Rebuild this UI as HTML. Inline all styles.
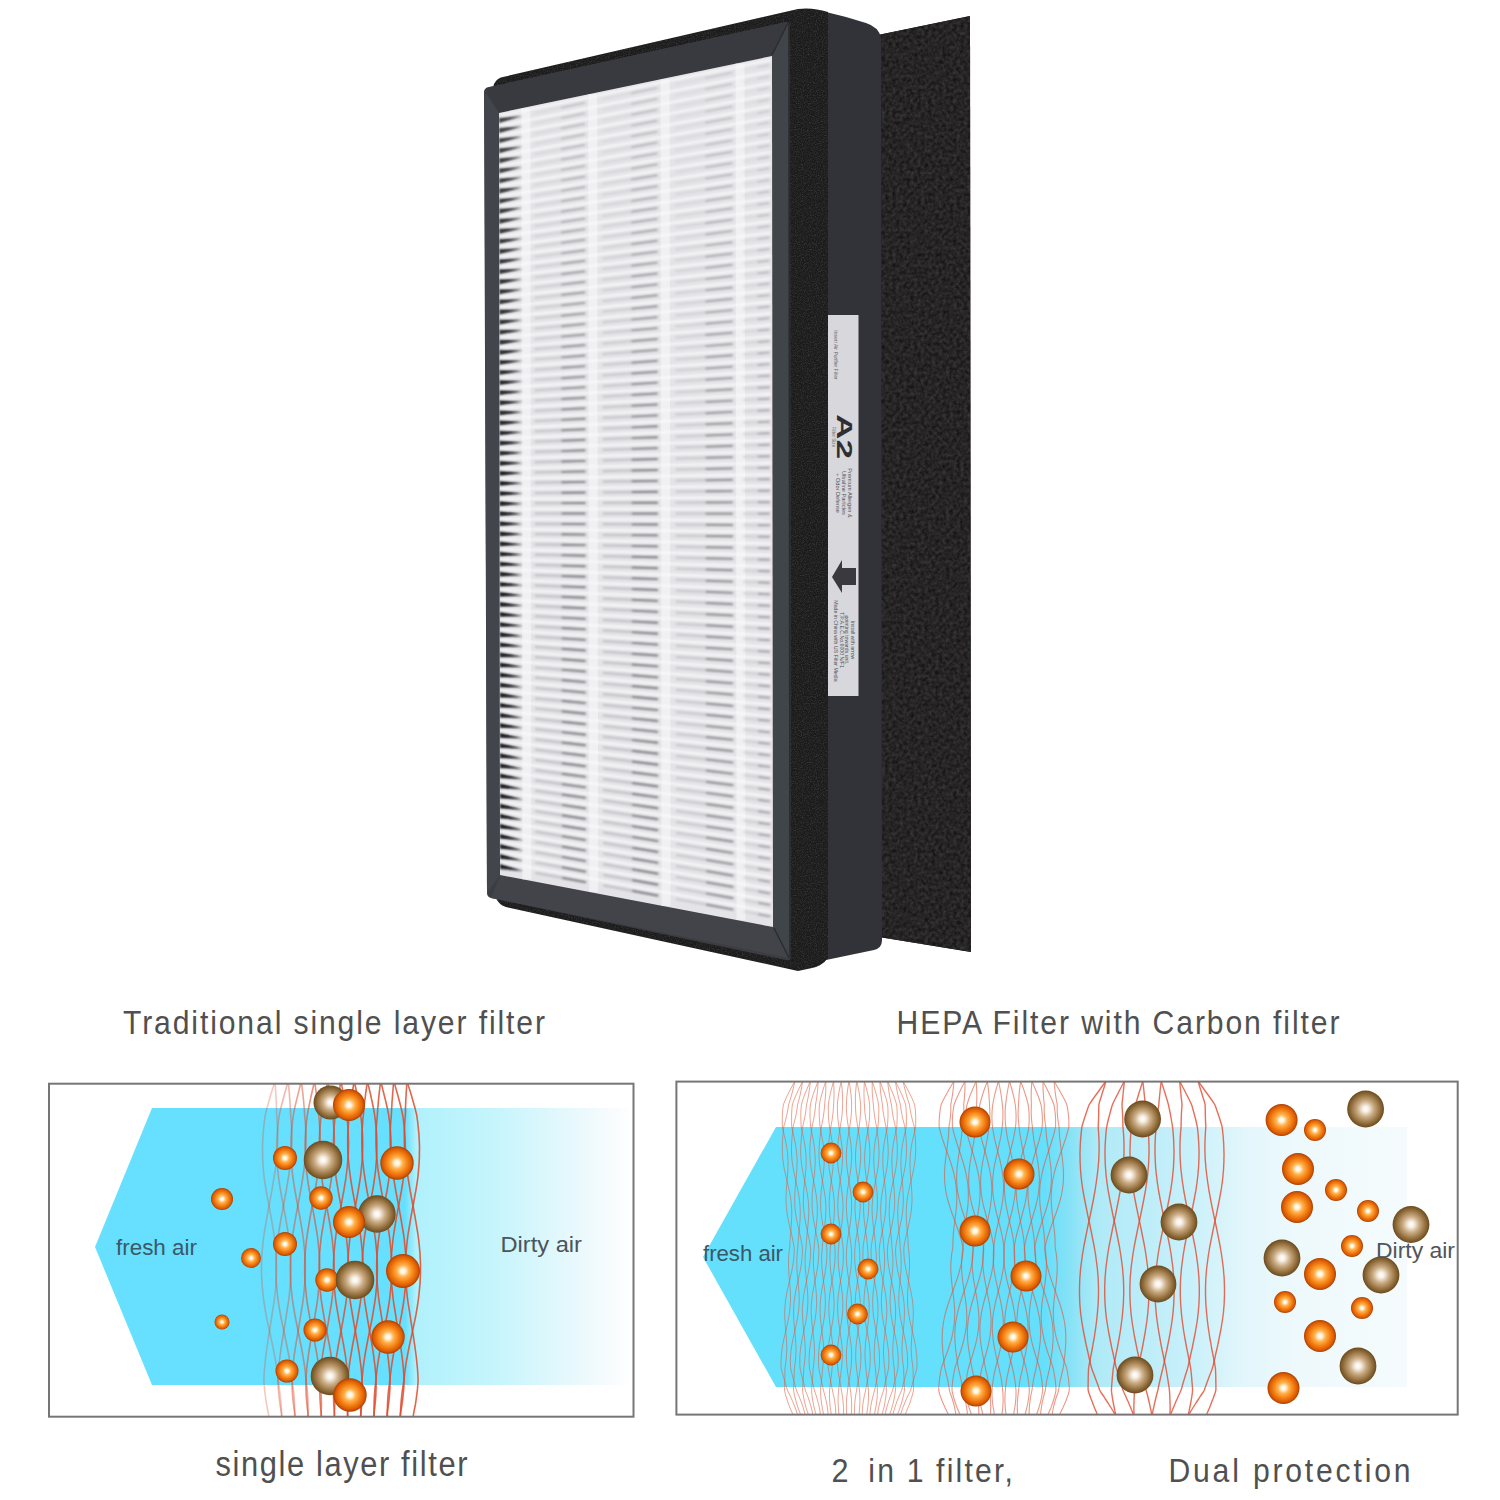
<!DOCTYPE html>
<html><head><meta charset="utf-8"><title>HEPA filter</title>
<style>html,body{margin:0;padding:0;background:#fff;width:1500px;height:1500px;overflow:hidden;font-family:"Liberation Sans",sans-serif}svg{display:block}</style>
</head><body>
<svg width="1500" height="1500" viewBox="0 0 1500 1500">
<defs>
 <radialGradient id="go" cx="0.5" cy="0.5" r="0.5" fx="0.5" fy="0.5">
  <stop offset="0" stop-color="#ffffff"/>
  <stop offset="0.14" stop-color="#fff4dc"/>
  <stop offset="0.35" stop-color="#ffb24e"/>
  <stop offset="0.62" stop-color="#f58214"/>
  <stop offset="0.86" stop-color="#dc5c04"/>
  <stop offset="1" stop-color="#a84000"/>
 </radialGradient>
 <radialGradient id="gb" cx="0.5" cy="0.5" r="0.5" fx="0.5" fy="0.5">
  <stop offset="0" stop-color="#ffffff"/>
  <stop offset="0.16" stop-color="#f7f0e6"/>
  <stop offset="0.45" stop-color="#c9aa82"/>
  <stop offset="0.78" stop-color="#94703e"/>
  <stop offset="1" stop-color="#6a4a1e"/>
 </radialGradient>
 <linearGradient id="fadeL" x1="0" x2="1" y1="0" y2="0">
  <stop offset="0" stop-color="#b0f1fc"/>
  <stop offset="0.4" stop-color="#c8f5fc"/>
  <stop offset="0.7" stop-color="#e4f8fc"/>
  <stop offset="0.9" stop-color="#f6fbfd"/>
  <stop offset="1" stop-color="#fdfeff"/>
 </linearGradient>
 <linearGradient id="edgeL" x1="0" x2="1" y1="0" y2="0">
  <stop offset="0" stop-color="#66e0fe"/>
  <stop offset="1" stop-color="#b0f1fc"/>
 </linearGradient>
 <linearGradient id="fadeR" x1="0" x2="1" y1="0" y2="0">
  <stop offset="0" stop-color="#64dffc"/>
  <stop offset="0.07" stop-color="#86e2f6"/>
  <stop offset="0.15" stop-color="#b0eaf7"/>
  <stop offset="0.4" stop-color="#c8f0fa"/>
  <stop offset="0.55" stop-color="#e2f6fb"/>
  <stop offset="0.7" stop-color="#eef9fc"/>
  <stop offset="1" stop-color="#f5fbfd"/>
 </linearGradient>
 <filter id="noise" x="0" y="0" width="100%" height="100%">
  <feTurbulence type="fractalNoise" baseFrequency="0.45" numOctaves="2" seed="3" result="t"/>
  <feColorMatrix type="matrix" values="0 0 0 0 0.2  0 0 0 0 0.19  0 0 0 0 0.19  0 0 0 -1.2 0.9" result="n"/>
  <feComposite in="n" in2="SourceGraphic" operator="in"/>
 </filter>
 <filter id="soft" x="-5%" y="-5%" width="110%" height="110%"><feGaussianBlur stdDeviation="0.85"/></filter>
 <filter id="speck" x="0" y="0" width="100%" height="100%">
  <feTurbulence type="fractalNoise" baseFrequency="0.85" numOctaves="2" seed="5" result="t"/>
  <feColorMatrix type="matrix" values="0 0 0 0 0.32  0 0 0 0 0.30  0 0 0 0 0.30  1.8 0 0 0 -0.75" result="n"/>
  <feComposite in="n" in2="SourceGraphic" operator="in"/>
 </filter>
 <filter id="carb" x="0" y="0" width="100%" height="100%" color-interpolation-filters="sRGB">
  <feTurbulence type="fractalNoise" baseFrequency="0.28" numOctaves="3" seed="9" result="t"/>
  <feColorMatrix type="matrix" values="0.2 0 0 0 0.05  0.2 0 0 0 0.043  0.2 0 0 0 0.043  0 0 0 0 1" result="n"/>
  <feComposite in="n" in2="SourceGraphic" operator="in"/>
 </filter>
 <clipPath id="clipL"><rect x="49" y="1084" width="584" height="332"/></clipPath>
 <clipPath id="clipR"><rect x="677" y="1082" width="780" height="332"/></clipPath>
</defs>

<polygon points="878,35 970,16 971,952 879,937" fill="#221f1f"/>
<polygon points="878,35 970,16 971,952 879,937" fill="#000" filter="url(#carb)"/>
<path d="M826,12 L846,17 L866,23 Q879,27 881,38 L882,940 Q882,948 874,950 L826,960 Z" fill="#323338"/>
<path d="M492,92 L494,84 Q497,78 503,77 L798,9 Q812,7 828,12 L828,958 Q822,966 812,968 L798,971 L506,907 Q499,905 496,898 L492,892 Z" fill="#1b1b1c"/>
<path d="M492,92 L494,84 Q497,78 503,77 L798,9 Q812,7 828,12 L828,958 Q822,966 812,968 L798,971 L506,907 Q499,905 496,898 L492,892 Z" fill="#000" filter="url(#speck)" opacity="0.3"/>
<path d="M484,92 Q484,88 489,87 L786,22 Q790,22 790,26 L791,956 Q791,961 786,960 L491,898 Q487,897 487,893 Z" fill="#3c3d42"/>
<polygon points="486,88 787,22 772,56 499,113" fill="#393a40"/>
<polygon points="484.5,92 499,113 500,875 487,893" fill="#43454c"/>
<polygon points="500,875 773,927 790,958 491,898" fill="#43444a"/>
<polygon points="772,56 788,24 790,957 773,927" fill="#3f4549"/>
<line x1="772" y1="55" x2="788" y2="23" stroke="#2a2b2f" stroke-width="1.2"/>
<line x1="774" y1="928" x2="789" y2="958" stroke="#2a2b2f" stroke-width="1.2"/>
<line x1="789" y1="24" x2="790" y2="957" stroke="#2a2a2d" stroke-width="1.5"/>
<polygon points="499,113 772,56 773,927 500,875" fill="#e4e4e8"/>
<line x1="525.8" y1="108.4" x2="526.8" y2="879.2" stroke="#f0f0f3" stroke-width="9"/>
<line x1="592.7" y1="94.5" x2="593.7" y2="891.9" stroke="#f0f0f3" stroke-width="9"/>
<line x1="665.1" y1="79.4" x2="666.1" y2="905.7" stroke="#f0f0f3" stroke-width="9"/>
<line x1="740.1" y1="63.7" x2="741.1" y2="920.0" stroke="#f0f0f3" stroke-width="9"/>
<clipPath id="clipW"><polygon points="499,113 772,56 773,927 500,875"/></clipPath>
<g clip-path="url(#clipW)"><g filter="url(#soft)">
<path d="M499.0,117.8 L522.2,116.0 L499.0,123.2 Z" fill="rgb(65,65,69)"/>
<line x1="500.4" y1="115.6" x2="770.6" y2="59.9" stroke="#fafafc" stroke-width="2.2" opacity="0.9"/>
<line x1="534.2" y1="113.1" x2="585.0" y2="102.7" stroke="#c2c2c6" stroke-width="2.2" opacity="0.26"/>
<line x1="561.0" y1="107.7" x2="585.0" y2="102.7" stroke="#7c7c80" stroke-width="1.9" opacity="0.26"/>
<line x1="602.2" y1="99.2" x2="657.3" y2="87.9" stroke="#c2c2c6" stroke-width="2.2" opacity="0.26"/>
<line x1="631.1" y1="93.3" x2="657.3" y2="87.9" stroke="#7c7c80" stroke-width="1.9" opacity="0.26"/>
<line x1="675.1" y1="84.3" x2="732.4" y2="72.5" stroke="#c2c2c6" stroke-width="2.2" opacity="0.21"/>
<line x1="705.1" y1="78.1" x2="732.4" y2="72.5" stroke="#7c7c80" stroke-width="1.9" opacity="0.21"/>
<line x1="742.5" y1="70.5" x2="769.3" y2="65.0" stroke="#c2c2c6" stroke-width="2.2" opacity="0.15"/>
<line x1="757.3" y1="67.4" x2="769.3" y2="65.0" stroke="#7c7c80" stroke-width="1.9" opacity="0.15"/>
<path d="M499.0,127.8 L522.2,126.2 L499.0,133.2 Z" fill="rgb(64,64,68)"/>
<line x1="500.4" y1="125.7" x2="770.7" y2="71.4" stroke="#fafafc" stroke-width="2.2" opacity="0.9"/>
<line x1="534.2" y1="123.4" x2="585.0" y2="113.3" stroke="#c2c2c6" stroke-width="2.2" opacity="0.28"/>
<line x1="561.0" y1="118.1" x2="585.0" y2="113.3" stroke="#7c7c80" stroke-width="1.9" opacity="0.28"/>
<line x1="602.2" y1="109.8" x2="657.4" y2="98.8" stroke="#c2c2c6" stroke-width="2.2" opacity="0.28"/>
<line x1="631.2" y1="104.1" x2="657.4" y2="98.8" stroke="#7c7c80" stroke-width="1.9" opacity="0.28"/>
<line x1="675.1" y1="95.3" x2="732.4" y2="83.8" stroke="#c2c2c6" stroke-width="2.2" opacity="0.23"/>
<line x1="705.1" y1="89.3" x2="732.4" y2="83.8" stroke="#7c7c80" stroke-width="1.9" opacity="0.23"/>
<line x1="742.5" y1="81.8" x2="769.3" y2="76.5" stroke="#c2c2c6" stroke-width="2.2" opacity="0.16"/>
<line x1="757.3" y1="78.9" x2="769.3" y2="76.5" stroke="#7c7c80" stroke-width="1.9" opacity="0.16"/>
<path d="M499.0,137.9 L522.2,136.4 L499.0,143.3 Z" fill="rgb(63,63,67)"/>
<line x1="500.4" y1="135.8" x2="770.7" y2="82.9" stroke="#fafafc" stroke-width="2.2" opacity="0.9"/>
<line x1="534.3" y1="133.7" x2="585.0" y2="123.8" stroke="#c2c2c6" stroke-width="2.2" opacity="0.30"/>
<line x1="561.0" y1="128.5" x2="585.0" y2="123.8" stroke="#7c7c80" stroke-width="1.9" opacity="0.30"/>
<line x1="602.2" y1="120.5" x2="657.4" y2="109.7" stroke="#c2c2c6" stroke-width="2.2" opacity="0.30"/>
<line x1="631.2" y1="114.8" x2="657.4" y2="109.7" stroke="#7c7c80" stroke-width="1.9" opacity="0.30"/>
<line x1="675.1" y1="106.3" x2="732.5" y2="95.1" stroke="#c2c2c6" stroke-width="2.2" opacity="0.24"/>
<line x1="705.2" y1="100.5" x2="732.5" y2="95.1" stroke="#7c7c80" stroke-width="1.9" opacity="0.24"/>
<line x1="742.6" y1="93.2" x2="769.3" y2="88.0" stroke="#c2c2c6" stroke-width="2.2" opacity="0.17"/>
<line x1="757.3" y1="90.3" x2="769.3" y2="88.0" stroke="#7c7c80" stroke-width="1.9" opacity="0.17"/>
<path d="M499.0,148.0 L522.3,146.6 L499.0,153.4 Z" fill="rgb(62,62,66)"/>
<line x1="500.4" y1="145.8" x2="770.7" y2="94.4" stroke="#fafafc" stroke-width="2.2" opacity="0.9"/>
<line x1="534.3" y1="143.9" x2="585.0" y2="134.3" stroke="#c2c2c6" stroke-width="2.2" opacity="0.32"/>
<line x1="561.0" y1="138.9" x2="585.0" y2="134.3" stroke="#7c7c80" stroke-width="1.9" opacity="0.32"/>
<line x1="602.2" y1="131.1" x2="657.4" y2="120.7" stroke="#c2c2c6" stroke-width="2.2" opacity="0.32"/>
<line x1="631.2" y1="125.6" x2="657.4" y2="120.7" stroke="#7c7c80" stroke-width="1.9" opacity="0.32"/>
<line x1="675.1" y1="117.3" x2="732.5" y2="106.5" stroke="#c2c2c6" stroke-width="2.2" opacity="0.26"/>
<line x1="705.2" y1="111.6" x2="732.5" y2="106.5" stroke="#7c7c80" stroke-width="1.9" opacity="0.26"/>
<line x1="742.6" y1="104.5" x2="769.3" y2="99.5" stroke="#c2c2c6" stroke-width="2.2" opacity="0.18"/>
<line x1="757.3" y1="101.8" x2="769.3" y2="99.5" stroke="#7c7c80" stroke-width="1.9" opacity="0.18"/>
<path d="M499.1,158.1 L522.3,156.8 L499.1,163.5 Z" fill="rgb(61,61,65)"/>
<line x1="500.4" y1="155.9" x2="770.7" y2="105.9" stroke="#fafafc" stroke-width="2.2" opacity="0.9"/>
<line x1="534.3" y1="154.2" x2="585.1" y2="144.9" stroke="#c2c2c6" stroke-width="2.2" opacity="0.34"/>
<line x1="561.0" y1="149.3" x2="585.1" y2="144.9" stroke="#7c7c80" stroke-width="1.9" opacity="0.34"/>
<line x1="602.3" y1="141.7" x2="657.4" y2="131.6" stroke="#c2c2c6" stroke-width="2.2" opacity="0.34"/>
<line x1="631.2" y1="136.4" x2="657.4" y2="131.6" stroke="#7c7c80" stroke-width="1.9" opacity="0.34"/>
<line x1="675.1" y1="128.3" x2="732.5" y2="117.8" stroke="#c2c2c6" stroke-width="2.2" opacity="0.28"/>
<line x1="705.2" y1="122.8" x2="732.5" y2="117.8" stroke="#7c7c80" stroke-width="1.9" opacity="0.28"/>
<line x1="742.6" y1="115.9" x2="769.3" y2="111.0" stroke="#c2c2c6" stroke-width="2.2" opacity="0.19"/>
<line x1="757.3" y1="113.2" x2="769.3" y2="111.0" stroke="#7c7c80" stroke-width="1.9" opacity="0.19"/>
<path d="M499.1,168.2 L522.3,167.0 L499.1,173.6 Z" fill="rgb(60,60,64)"/>
<line x1="500.4" y1="166.0" x2="770.7" y2="117.5" stroke="#fafafc" stroke-width="2.2" opacity="0.9"/>
<line x1="534.3" y1="164.5" x2="585.1" y2="155.4" stroke="#c2c2c6" stroke-width="2.2" opacity="0.36"/>
<line x1="561.0" y1="159.7" x2="585.1" y2="155.4" stroke="#7c7c80" stroke-width="1.9" opacity="0.36"/>
<line x1="602.3" y1="152.3" x2="657.4" y2="142.5" stroke="#c2c2c6" stroke-width="2.2" opacity="0.36"/>
<line x1="631.2" y1="147.2" x2="657.4" y2="142.5" stroke="#7c7c80" stroke-width="1.9" opacity="0.36"/>
<line x1="675.2" y1="139.3" x2="732.5" y2="129.1" stroke="#c2c2c6" stroke-width="2.2" opacity="0.29"/>
<line x1="705.2" y1="134.0" x2="732.5" y2="129.1" stroke="#7c7c80" stroke-width="1.9" opacity="0.29"/>
<line x1="742.6" y1="127.3" x2="769.3" y2="122.5" stroke="#c2c2c6" stroke-width="2.2" opacity="0.20"/>
<line x1="757.3" y1="124.6" x2="769.3" y2="122.5" stroke="#7c7c80" stroke-width="1.9" opacity="0.20"/>
<path d="M499.1,178.2 L522.3,177.2 L499.1,183.6 Z" fill="rgb(59,59,63)"/>
<line x1="500.5" y1="176.1" x2="770.7" y2="129.0" stroke="#fafafc" stroke-width="2.2" opacity="0.9"/>
<line x1="534.3" y1="174.7" x2="585.1" y2="165.9" stroke="#c2c2c6" stroke-width="2.2" opacity="0.38"/>
<line x1="561.1" y1="170.1" x2="585.1" y2="165.9" stroke="#7c7c80" stroke-width="1.9" opacity="0.38"/>
<line x1="602.3" y1="163.0" x2="657.4" y2="153.4" stroke="#c2c2c6" stroke-width="2.2" opacity="0.38"/>
<line x1="631.2" y1="157.9" x2="657.4" y2="153.4" stroke="#7c7c80" stroke-width="1.9" opacity="0.38"/>
<line x1="675.2" y1="150.3" x2="732.5" y2="140.4" stroke="#c2c2c6" stroke-width="2.2" opacity="0.31"/>
<line x1="705.2" y1="145.1" x2="732.5" y2="140.4" stroke="#7c7c80" stroke-width="1.9" opacity="0.31"/>
<line x1="742.6" y1="138.6" x2="769.4" y2="134.0" stroke="#c2c2c6" stroke-width="2.2" opacity="0.21"/>
<line x1="757.3" y1="136.1" x2="769.4" y2="134.0" stroke="#7c7c80" stroke-width="1.9" opacity="0.21"/>
<path d="M499.1,188.3 L522.3,187.4 L499.1,193.7 Z" fill="rgb(58,58,62)"/>
<line x1="500.5" y1="186.2" x2="770.7" y2="140.5" stroke="#fafafc" stroke-width="2.2" opacity="0.9"/>
<line x1="534.3" y1="185.0" x2="585.1" y2="176.5" stroke="#c2c2c6" stroke-width="2.2" opacity="0.40"/>
<line x1="561.1" y1="180.5" x2="585.1" y2="176.5" stroke="#7c7c80" stroke-width="1.9" opacity="0.40"/>
<line x1="602.3" y1="173.6" x2="657.4" y2="164.3" stroke="#c2c2c6" stroke-width="2.2" opacity="0.40"/>
<line x1="631.2" y1="168.7" x2="657.4" y2="164.3" stroke="#7c7c80" stroke-width="1.9" opacity="0.40"/>
<line x1="675.2" y1="161.3" x2="732.5" y2="151.7" stroke="#c2c2c6" stroke-width="2.2" opacity="0.32"/>
<line x1="705.2" y1="156.3" x2="732.5" y2="151.7" stroke="#7c7c80" stroke-width="1.9" opacity="0.32"/>
<line x1="742.6" y1="150.0" x2="769.4" y2="145.5" stroke="#c2c2c6" stroke-width="2.2" opacity="0.22"/>
<line x1="757.4" y1="147.5" x2="769.4" y2="145.5" stroke="#7c7c80" stroke-width="1.9" opacity="0.22"/>
<path d="M499.1,198.4 L522.3,197.6 L499.1,203.8 Z" fill="rgb(57,57,61)"/>
<line x1="500.5" y1="196.3" x2="770.8" y2="152.0" stroke="#fafafc" stroke-width="2.2" opacity="0.9"/>
<line x1="534.3" y1="195.3" x2="585.1" y2="187.0" stroke="#c2c2c6" stroke-width="2.2" opacity="0.42"/>
<line x1="561.1" y1="190.9" x2="585.1" y2="187.0" stroke="#7c7c80" stroke-width="1.9" opacity="0.42"/>
<line x1="602.3" y1="184.2" x2="657.5" y2="175.2" stroke="#c2c2c6" stroke-width="2.2" opacity="0.42"/>
<line x1="631.2" y1="179.5" x2="657.5" y2="175.2" stroke="#7c7c80" stroke-width="1.9" opacity="0.42"/>
<line x1="675.2" y1="172.3" x2="732.5" y2="163.0" stroke="#c2c2c6" stroke-width="2.2" opacity="0.34"/>
<line x1="705.2" y1="167.5" x2="732.5" y2="163.0" stroke="#7c7c80" stroke-width="1.9" opacity="0.34"/>
<line x1="742.6" y1="161.4" x2="769.4" y2="157.0" stroke="#c2c2c6" stroke-width="2.2" opacity="0.23"/>
<line x1="757.4" y1="159.0" x2="769.4" y2="157.0" stroke="#7c7c80" stroke-width="1.9" opacity="0.23"/>
<path d="M499.1,208.5 L522.3,207.8 L499.1,213.9 Z" fill="rgb(56,56,60)"/>
<line x1="500.5" y1="206.4" x2="770.8" y2="163.5" stroke="#fafafc" stroke-width="2.2" opacity="0.9"/>
<line x1="534.3" y1="205.5" x2="585.1" y2="197.5" stroke="#c2c2c6" stroke-width="2.2" opacity="0.44"/>
<line x1="561.1" y1="201.3" x2="585.1" y2="197.5" stroke="#7c7c80" stroke-width="1.9" opacity="0.44"/>
<line x1="602.3" y1="194.8" x2="657.5" y2="186.1" stroke="#c2c2c6" stroke-width="2.2" opacity="0.44"/>
<line x1="631.3" y1="190.3" x2="657.5" y2="186.1" stroke="#7c7c80" stroke-width="1.9" opacity="0.44"/>
<line x1="675.2" y1="183.4" x2="732.5" y2="174.3" stroke="#c2c2c6" stroke-width="2.2" opacity="0.35"/>
<line x1="705.2" y1="178.6" x2="732.5" y2="174.3" stroke="#7c7c80" stroke-width="1.9" opacity="0.35"/>
<line x1="742.6" y1="172.7" x2="769.4" y2="168.5" stroke="#c2c2c6" stroke-width="2.2" opacity="0.24"/>
<line x1="757.4" y1="170.4" x2="769.4" y2="168.5" stroke="#7c7c80" stroke-width="1.9" opacity="0.24"/>
<path d="M499.1,218.6 L522.3,218.0 L499.1,224.0 Z" fill="rgb(55,55,59)"/>
<line x1="500.5" y1="216.4" x2="770.8" y2="175.0" stroke="#fafafc" stroke-width="2.2" opacity="0.9"/>
<line x1="534.4" y1="215.8" x2="585.1" y2="208.1" stroke="#c2c2c6" stroke-width="2.2" opacity="0.46"/>
<line x1="561.1" y1="211.7" x2="585.1" y2="208.1" stroke="#7c7c80" stroke-width="1.9" opacity="0.46"/>
<line x1="602.3" y1="205.5" x2="657.5" y2="197.1" stroke="#c2c2c6" stroke-width="2.2" opacity="0.46"/>
<line x1="631.3" y1="201.1" x2="657.5" y2="197.1" stroke="#7c7c80" stroke-width="1.9" opacity="0.46"/>
<line x1="675.2" y1="194.4" x2="732.6" y2="185.6" stroke="#c2c2c6" stroke-width="2.2" opacity="0.37"/>
<line x1="705.3" y1="189.8" x2="732.6" y2="185.6" stroke="#7c7c80" stroke-width="1.9" opacity="0.37"/>
<line x1="742.7" y1="184.1" x2="769.4" y2="180.0" stroke="#c2c2c6" stroke-width="2.2" opacity="0.25"/>
<line x1="757.4" y1="181.9" x2="769.4" y2="180.0" stroke="#7c7c80" stroke-width="1.9" opacity="0.25"/>
<path d="M499.2,228.6 L522.4,228.2 L499.2,234.0 Z" fill="rgb(54,54,58)"/>
<line x1="500.5" y1="226.5" x2="770.8" y2="186.5" stroke="#fafafc" stroke-width="2.2" opacity="0.9"/>
<line x1="534.4" y1="226.1" x2="585.2" y2="218.6" stroke="#c2c2c6" stroke-width="2.2" opacity="0.48"/>
<line x1="561.1" y1="222.1" x2="585.2" y2="218.6" stroke="#7c7c80" stroke-width="1.9" opacity="0.48"/>
<line x1="602.3" y1="216.1" x2="657.5" y2="208.0" stroke="#c2c2c6" stroke-width="2.2" opacity="0.48"/>
<line x1="631.3" y1="211.8" x2="657.5" y2="208.0" stroke="#7c7c80" stroke-width="1.9" opacity="0.48"/>
<line x1="675.2" y1="205.4" x2="732.6" y2="197.0" stroke="#c2c2c6" stroke-width="2.2" opacity="0.39"/>
<line x1="705.3" y1="201.0" x2="732.6" y2="197.0" stroke="#7c7c80" stroke-width="1.9" opacity="0.39"/>
<line x1="742.7" y1="195.5" x2="769.4" y2="191.5" stroke="#c2c2c6" stroke-width="2.2" opacity="0.27"/>
<line x1="757.4" y1="193.3" x2="769.4" y2="191.5" stroke="#7c7c80" stroke-width="1.9" opacity="0.27"/>
<path d="M499.2,238.7 L522.4,238.4 L499.2,244.1 Z" fill="rgb(53,53,57)"/>
<line x1="500.5" y1="236.6" x2="770.8" y2="198.1" stroke="#fafafc" stroke-width="2.2" opacity="0.9"/>
<line x1="534.4" y1="236.3" x2="585.2" y2="229.1" stroke="#c2c2c6" stroke-width="2.2" opacity="0.50"/>
<line x1="561.1" y1="232.5" x2="585.2" y2="229.1" stroke="#7c7c80" stroke-width="1.9" opacity="0.50"/>
<line x1="602.4" y1="226.7" x2="657.5" y2="218.9" stroke="#c2c2c6" stroke-width="2.2" opacity="0.50"/>
<line x1="631.3" y1="222.6" x2="657.5" y2="218.9" stroke="#7c7c80" stroke-width="1.9" opacity="0.50"/>
<line x1="675.3" y1="216.4" x2="732.6" y2="208.3" stroke="#c2c2c6" stroke-width="2.2" opacity="0.40"/>
<line x1="705.3" y1="212.1" x2="732.6" y2="208.3" stroke="#7c7c80" stroke-width="1.9" opacity="0.40"/>
<line x1="742.7" y1="206.8" x2="769.4" y2="203.1" stroke="#c2c2c6" stroke-width="2.2" opacity="0.28"/>
<line x1="757.4" y1="204.8" x2="769.4" y2="203.1" stroke="#7c7c80" stroke-width="1.9" opacity="0.28"/>
<path d="M499.2,248.8 L522.4,248.6 L499.2,254.2 Z" fill="rgb(52,52,56)"/>
<line x1="500.5" y1="246.7" x2="770.8" y2="209.6" stroke="#fafafc" stroke-width="2.2" opacity="0.9"/>
<line x1="534.4" y1="246.6" x2="585.2" y2="239.7" stroke="#c2c2c6" stroke-width="2.2" opacity="0.52"/>
<line x1="561.2" y1="242.9" x2="585.2" y2="239.7" stroke="#7c7c80" stroke-width="1.9" opacity="0.52"/>
<line x1="602.4" y1="237.3" x2="657.5" y2="229.8" stroke="#c2c2c6" stroke-width="2.2" opacity="0.52"/>
<line x1="631.3" y1="233.4" x2="657.5" y2="229.8" stroke="#7c7c80" stroke-width="1.9" opacity="0.52"/>
<line x1="675.3" y1="227.4" x2="732.6" y2="219.6" stroke="#c2c2c6" stroke-width="2.2" opacity="0.42"/>
<line x1="705.3" y1="223.3" x2="732.6" y2="219.6" stroke="#7c7c80" stroke-width="1.9" opacity="0.42"/>
<line x1="742.7" y1="218.2" x2="769.5" y2="214.6" stroke="#c2c2c6" stroke-width="2.2" opacity="0.29"/>
<line x1="757.4" y1="216.2" x2="769.5" y2="214.6" stroke="#7c7c80" stroke-width="1.9" opacity="0.29"/>
<path d="M499.2,258.9 L522.4,258.8 L499.2,264.3 Z" fill="rgb(51,51,55)"/>
<line x1="500.6" y1="256.8" x2="770.8" y2="221.1" stroke="#fafafc" stroke-width="2.2" opacity="0.9"/>
<line x1="534.4" y1="256.9" x2="585.2" y2="250.2" stroke="#c2c2c6" stroke-width="2.2" opacity="0.54"/>
<line x1="561.2" y1="253.4" x2="585.2" y2="250.2" stroke="#7c7c80" stroke-width="1.9" opacity="0.54"/>
<line x1="602.4" y1="248.0" x2="657.5" y2="240.7" stroke="#c2c2c6" stroke-width="2.2" opacity="0.54"/>
<line x1="631.3" y1="244.2" x2="657.5" y2="240.7" stroke="#7c7c80" stroke-width="1.9" opacity="0.54"/>
<line x1="675.3" y1="238.4" x2="732.6" y2="230.9" stroke="#c2c2c6" stroke-width="2.2" opacity="0.43"/>
<line x1="705.3" y1="234.5" x2="732.6" y2="230.9" stroke="#7c7c80" stroke-width="1.9" opacity="0.43"/>
<line x1="742.7" y1="229.6" x2="769.5" y2="226.1" stroke="#c2c2c6" stroke-width="2.2" opacity="0.30"/>
<line x1="757.5" y1="227.6" x2="769.5" y2="226.1" stroke="#7c7c80" stroke-width="1.9" opacity="0.30"/>
<path d="M499.2,268.9 L522.4,269.0 L499.2,274.3 Z" fill="rgb(51,51,55)"/>
<line x1="500.6" y1="266.9" x2="770.8" y2="232.6" stroke="#fafafc" stroke-width="2.2" opacity="0.9"/>
<line x1="534.4" y1="267.1" x2="585.2" y2="260.7" stroke="#c2c2c6" stroke-width="2.2" opacity="0.56"/>
<line x1="561.2" y1="263.8" x2="585.2" y2="260.7" stroke="#7c7c80" stroke-width="1.9" opacity="0.56"/>
<line x1="602.4" y1="258.6" x2="657.5" y2="251.6" stroke="#c2c2c6" stroke-width="2.2" opacity="0.56"/>
<line x1="631.3" y1="254.9" x2="657.5" y2="251.6" stroke="#7c7c80" stroke-width="1.9" opacity="0.56"/>
<line x1="675.3" y1="249.4" x2="732.6" y2="242.2" stroke="#c2c2c6" stroke-width="2.2" opacity="0.45"/>
<line x1="705.3" y1="245.6" x2="732.6" y2="242.2" stroke="#7c7c80" stroke-width="1.9" opacity="0.45"/>
<line x1="742.7" y1="240.9" x2="769.5" y2="237.6" stroke="#c2c2c6" stroke-width="2.2" opacity="0.31"/>
<line x1="757.5" y1="239.1" x2="769.5" y2="237.6" stroke="#7c7c80" stroke-width="1.9" opacity="0.31"/>
<path d="M499.2,279.0 L522.4,279.2 L499.2,284.4 Z" fill="rgb(50,50,54)"/>
<line x1="500.6" y1="277.0" x2="770.9" y2="244.1" stroke="#fafafc" stroke-width="2.2" opacity="0.9"/>
<line x1="534.4" y1="277.4" x2="585.2" y2="271.3" stroke="#c2c2c6" stroke-width="2.2" opacity="0.58"/>
<line x1="561.2" y1="274.2" x2="585.2" y2="271.3" stroke="#7c7c80" stroke-width="1.9" opacity="0.58"/>
<line x1="602.4" y1="269.2" x2="657.6" y2="262.6" stroke="#c2c2c6" stroke-width="2.2" opacity="0.58"/>
<line x1="631.4" y1="265.7" x2="657.6" y2="262.6" stroke="#7c7c80" stroke-width="1.9" opacity="0.58"/>
<line x1="675.3" y1="260.4" x2="732.6" y2="253.5" stroke="#c2c2c6" stroke-width="2.2" opacity="0.47"/>
<line x1="705.3" y1="256.8" x2="732.6" y2="253.5" stroke="#7c7c80" stroke-width="1.9" opacity="0.47"/>
<line x1="742.7" y1="252.3" x2="769.5" y2="249.1" stroke="#c2c2c6" stroke-width="2.2" opacity="0.32"/>
<line x1="757.5" y1="250.5" x2="769.5" y2="249.1" stroke="#7c7c80" stroke-width="1.9" opacity="0.32"/>
<path d="M499.2,289.1 L522.4,289.4 L499.2,294.5 Z" fill="rgb(49,49,53)"/>
<line x1="500.6" y1="287.0" x2="770.9" y2="255.6" stroke="#fafafc" stroke-width="2.2" opacity="0.9"/>
<line x1="534.5" y1="287.7" x2="585.2" y2="281.8" stroke="#c2c2c6" stroke-width="2.2" opacity="0.60"/>
<line x1="561.2" y1="284.6" x2="585.2" y2="281.8" stroke="#7c7c80" stroke-width="1.9" opacity="0.60"/>
<line x1="602.4" y1="279.8" x2="657.6" y2="273.5" stroke="#c2c2c6" stroke-width="2.2" opacity="0.60"/>
<line x1="631.4" y1="276.5" x2="657.6" y2="273.5" stroke="#7c7c80" stroke-width="1.9" opacity="0.60"/>
<line x1="675.3" y1="271.4" x2="732.6" y2="264.8" stroke="#c2c2c6" stroke-width="2.2" opacity="0.48"/>
<line x1="705.3" y1="268.0" x2="732.6" y2="264.8" stroke="#7c7c80" stroke-width="1.9" opacity="0.48"/>
<line x1="742.8" y1="263.7" x2="769.5" y2="260.6" stroke="#c2c2c6" stroke-width="2.2" opacity="0.33"/>
<line x1="757.5" y1="262.0" x2="769.5" y2="260.6" stroke="#7c7c80" stroke-width="1.9" opacity="0.33"/>
<path d="M499.2,299.2 L522.5,299.6 L499.2,304.6 Z" fill="rgb(48,48,52)"/>
<line x1="500.6" y1="297.1" x2="770.9" y2="267.1" stroke="#fafafc" stroke-width="2.2" opacity="0.9"/>
<line x1="534.5" y1="297.9" x2="585.2" y2="292.3" stroke="#c2c2c6" stroke-width="2.2" opacity="0.62"/>
<line x1="561.2" y1="295.0" x2="585.2" y2="292.3" stroke="#7c7c80" stroke-width="1.9" opacity="0.62"/>
<line x1="602.4" y1="290.4" x2="657.6" y2="284.4" stroke="#c2c2c6" stroke-width="2.2" opacity="0.62"/>
<line x1="631.4" y1="287.3" x2="657.6" y2="284.4" stroke="#7c7c80" stroke-width="1.9" opacity="0.62"/>
<line x1="675.3" y1="282.4" x2="732.7" y2="276.1" stroke="#c2c2c6" stroke-width="2.2" opacity="0.50"/>
<line x1="705.4" y1="279.1" x2="732.7" y2="276.1" stroke="#7c7c80" stroke-width="1.9" opacity="0.50"/>
<line x1="742.8" y1="275.0" x2="769.5" y2="272.1" stroke="#c2c2c6" stroke-width="2.2" opacity="0.34"/>
<line x1="757.5" y1="273.4" x2="769.5" y2="272.1" stroke="#7c7c80" stroke-width="1.9" opacity="0.34"/>
<path d="M499.3,309.3 L522.5,309.8 L499.3,314.7 Z" fill="rgb(47,47,51)"/>
<line x1="500.6" y1="307.2" x2="770.9" y2="278.7" stroke="#fafafc" stroke-width="2.2" opacity="0.9"/>
<line x1="534.5" y1="308.2" x2="585.3" y2="302.9" stroke="#c2c2c6" stroke-width="2.2" opacity="0.64"/>
<line x1="561.2" y1="305.4" x2="585.3" y2="302.9" stroke="#7c7c80" stroke-width="1.9" opacity="0.64"/>
<line x1="602.5" y1="301.1" x2="657.6" y2="295.3" stroke="#c2c2c6" stroke-width="2.2" opacity="0.64"/>
<line x1="631.4" y1="298.0" x2="657.6" y2="295.3" stroke="#7c7c80" stroke-width="1.9" opacity="0.64"/>
<line x1="675.3" y1="293.4" x2="732.7" y2="287.5" stroke="#c2c2c6" stroke-width="2.2" opacity="0.51"/>
<line x1="705.4" y1="290.3" x2="732.7" y2="287.5" stroke="#7c7c80" stroke-width="1.9" opacity="0.51"/>
<line x1="742.8" y1="286.4" x2="769.5" y2="283.6" stroke="#c2c2c6" stroke-width="2.2" opacity="0.35"/>
<line x1="757.5" y1="284.9" x2="769.5" y2="283.6" stroke="#7c7c80" stroke-width="1.9" opacity="0.35"/>
<path d="M499.3,319.3 L522.5,320.0 L499.3,324.7 Z" fill="rgb(46,46,50)"/>
<line x1="500.6" y1="317.3" x2="770.9" y2="290.2" stroke="#fafafc" stroke-width="2.2" opacity="0.9"/>
<line x1="534.5" y1="318.4" x2="585.3" y2="313.4" stroke="#c2c2c6" stroke-width="2.2" opacity="0.66"/>
<line x1="561.2" y1="315.8" x2="585.3" y2="313.4" stroke="#7c7c80" stroke-width="1.9" opacity="0.66"/>
<line x1="602.5" y1="311.7" x2="657.6" y2="306.2" stroke="#c2c2c6" stroke-width="2.2" opacity="0.66"/>
<line x1="631.4" y1="308.8" x2="657.6" y2="306.2" stroke="#7c7c80" stroke-width="1.9" opacity="0.66"/>
<line x1="675.4" y1="304.5" x2="732.7" y2="298.8" stroke="#c2c2c6" stroke-width="2.2" opacity="0.53"/>
<line x1="705.4" y1="301.5" x2="732.7" y2="298.8" stroke="#7c7c80" stroke-width="1.9" opacity="0.53"/>
<line x1="742.8" y1="297.8" x2="769.5" y2="295.1" stroke="#c2c2c6" stroke-width="2.2" opacity="0.36"/>
<line x1="757.5" y1="296.3" x2="769.5" y2="295.1" stroke="#7c7c80" stroke-width="1.9" opacity="0.36"/>
<path d="M499.3,329.4 L522.5,330.2 L499.3,334.8 Z" fill="rgb(45,45,49)"/>
<line x1="500.7" y1="327.4" x2="770.9" y2="301.7" stroke="#fafafc" stroke-width="2.2" opacity="0.9"/>
<line x1="534.5" y1="328.7" x2="585.3" y2="323.9" stroke="#c2c2c6" stroke-width="2.2" opacity="0.68"/>
<line x1="561.3" y1="326.2" x2="585.3" y2="323.9" stroke="#7c7c80" stroke-width="1.9" opacity="0.68"/>
<line x1="602.5" y1="322.3" x2="657.6" y2="317.1" stroke="#c2c2c6" stroke-width="2.2" opacity="0.68"/>
<line x1="631.4" y1="319.6" x2="657.6" y2="317.1" stroke="#7c7c80" stroke-width="1.9" opacity="0.68"/>
<line x1="675.4" y1="315.5" x2="732.7" y2="310.1" stroke="#c2c2c6" stroke-width="2.2" opacity="0.54"/>
<line x1="705.4" y1="312.6" x2="732.7" y2="310.1" stroke="#7c7c80" stroke-width="1.9" opacity="0.54"/>
<line x1="742.8" y1="309.1" x2="769.6" y2="306.6" stroke="#c2c2c6" stroke-width="2.2" opacity="0.37"/>
<line x1="757.5" y1="307.7" x2="769.6" y2="306.6" stroke="#7c7c80" stroke-width="1.9" opacity="0.37"/>
<path d="M499.3,339.5 L522.5,340.4 L499.3,344.9 Z" fill="rgb(44,44,48)"/>
<line x1="500.7" y1="337.5" x2="770.9" y2="313.2" stroke="#fafafc" stroke-width="2.2" opacity="0.9"/>
<line x1="534.5" y1="339.0" x2="585.3" y2="334.5" stroke="#c2c2c6" stroke-width="2.2" opacity="0.70"/>
<line x1="561.3" y1="336.6" x2="585.3" y2="334.5" stroke="#7c7c80" stroke-width="1.9" opacity="0.70"/>
<line x1="602.5" y1="332.9" x2="657.6" y2="328.1" stroke="#c2c2c6" stroke-width="2.2" opacity="0.70"/>
<line x1="631.4" y1="330.4" x2="657.6" y2="328.1" stroke="#7c7c80" stroke-width="1.9" opacity="0.70"/>
<line x1="675.4" y1="326.5" x2="732.7" y2="321.4" stroke="#c2c2c6" stroke-width="2.2" opacity="0.56"/>
<line x1="705.4" y1="323.8" x2="732.7" y2="321.4" stroke="#7c7c80" stroke-width="1.9" opacity="0.56"/>
<line x1="742.8" y1="320.5" x2="769.6" y2="318.1" stroke="#c2c2c6" stroke-width="2.2" opacity="0.39"/>
<line x1="757.6" y1="319.2" x2="769.6" y2="318.1" stroke="#7c7c80" stroke-width="1.9" opacity="0.39"/>
<path d="M499.3,349.6 L522.5,350.6 L499.3,355.0 Z" fill="rgb(43,43,47)"/>
<line x1="500.7" y1="347.6" x2="770.9" y2="324.7" stroke="#fafafc" stroke-width="2.2" opacity="0.9"/>
<line x1="534.5" y1="349.2" x2="585.3" y2="345.0" stroke="#c2c2c6" stroke-width="2.2" opacity="0.72"/>
<line x1="561.3" y1="347.0" x2="585.3" y2="345.0" stroke="#7c7c80" stroke-width="1.9" opacity="0.72"/>
<line x1="602.5" y1="343.6" x2="657.7" y2="339.0" stroke="#c2c2c6" stroke-width="2.2" opacity="0.72"/>
<line x1="631.4" y1="341.2" x2="657.7" y2="339.0" stroke="#7c7c80" stroke-width="1.9" opacity="0.72"/>
<line x1="675.4" y1="337.5" x2="732.7" y2="332.7" stroke="#c2c2c6" stroke-width="2.2" opacity="0.58"/>
<line x1="705.4" y1="335.0" x2="732.7" y2="332.7" stroke="#7c7c80" stroke-width="1.9" opacity="0.58"/>
<line x1="742.8" y1="331.9" x2="769.6" y2="329.6" stroke="#c2c2c6" stroke-width="2.2" opacity="0.40"/>
<line x1="757.6" y1="330.6" x2="769.6" y2="329.6" stroke="#7c7c80" stroke-width="1.9" opacity="0.40"/>
<path d="M499.3,359.7 L522.5,360.8 L499.3,365.1 Z" fill="rgb(42,42,46)"/>
<line x1="500.7" y1="357.7" x2="771.0" y2="336.2" stroke="#fafafc" stroke-width="2.2" opacity="0.9"/>
<line x1="534.5" y1="359.5" x2="585.3" y2="355.5" stroke="#c2c2c6" stroke-width="2.2" opacity="0.74"/>
<line x1="561.3" y1="357.4" x2="585.3" y2="355.5" stroke="#7c7c80" stroke-width="1.9" opacity="0.74"/>
<line x1="602.5" y1="354.2" x2="657.7" y2="349.9" stroke="#c2c2c6" stroke-width="2.2" opacity="0.74"/>
<line x1="631.5" y1="351.9" x2="657.7" y2="349.9" stroke="#7c7c80" stroke-width="1.9" opacity="0.74"/>
<line x1="675.4" y1="348.5" x2="732.7" y2="344.0" stroke="#c2c2c6" stroke-width="2.2" opacity="0.59"/>
<line x1="705.4" y1="346.1" x2="732.7" y2="344.0" stroke="#7c7c80" stroke-width="1.9" opacity="0.59"/>
<line x1="742.8" y1="343.2" x2="769.6" y2="341.1" stroke="#c2c2c6" stroke-width="2.2" opacity="0.41"/>
<line x1="757.6" y1="342.1" x2="769.6" y2="341.1" stroke="#7c7c80" stroke-width="1.9" opacity="0.41"/>
<path d="M499.3,369.7 L522.5,371.1 L499.3,375.1 Z" fill="rgb(41,41,45)"/>
<line x1="500.7" y1="367.7" x2="771.0" y2="347.7" stroke="#fafafc" stroke-width="2.2" opacity="0.9"/>
<line x1="534.6" y1="369.8" x2="585.3" y2="366.1" stroke="#c2c2c6" stroke-width="2.2" opacity="0.76"/>
<line x1="561.3" y1="367.8" x2="585.3" y2="366.1" stroke="#7c7c80" stroke-width="1.9" opacity="0.76"/>
<line x1="602.5" y1="364.8" x2="657.7" y2="360.8" stroke="#c2c2c6" stroke-width="2.2" opacity="0.76"/>
<line x1="631.5" y1="362.7" x2="657.7" y2="360.8" stroke="#7c7c80" stroke-width="1.9" opacity="0.76"/>
<line x1="675.4" y1="359.5" x2="732.8" y2="355.3" stroke="#c2c2c6" stroke-width="2.2" opacity="0.61"/>
<line x1="705.5" y1="357.3" x2="732.8" y2="355.3" stroke="#7c7c80" stroke-width="1.9" opacity="0.61"/>
<line x1="742.9" y1="354.6" x2="769.6" y2="352.6" stroke="#c2c2c6" stroke-width="2.2" opacity="0.42"/>
<line x1="757.6" y1="353.5" x2="769.6" y2="352.6" stroke="#7c7c80" stroke-width="1.9" opacity="0.42"/>
<path d="M499.4,379.8 L522.6,381.3 L499.4,385.2 Z" fill="rgb(40,40,44)"/>
<line x1="500.7" y1="377.8" x2="771.0" y2="359.3" stroke="#fafafc" stroke-width="2.2" opacity="0.9"/>
<line x1="534.6" y1="380.0" x2="585.3" y2="376.6" stroke="#c2c2c6" stroke-width="2.2" opacity="0.78"/>
<line x1="561.3" y1="378.2" x2="585.3" y2="376.6" stroke="#7c7c80" stroke-width="1.9" opacity="0.78"/>
<line x1="602.5" y1="375.4" x2="657.7" y2="371.7" stroke="#c2c2c6" stroke-width="2.2" opacity="0.78"/>
<line x1="631.5" y1="373.5" x2="657.7" y2="371.7" stroke="#7c7c80" stroke-width="1.9" opacity="0.78"/>
<line x1="675.4" y1="370.5" x2="732.8" y2="366.6" stroke="#c2c2c6" stroke-width="2.2" opacity="0.62"/>
<line x1="705.5" y1="368.5" x2="732.8" y2="366.6" stroke="#7c7c80" stroke-width="1.9" opacity="0.62"/>
<line x1="742.9" y1="366.0" x2="769.6" y2="364.1" stroke="#c2c2c6" stroke-width="2.2" opacity="0.43"/>
<line x1="757.6" y1="365.0" x2="769.6" y2="364.1" stroke="#7c7c80" stroke-width="1.9" opacity="0.43"/>
<path d="M499.4,389.9 L522.6,391.5 L499.4,395.3 Z" fill="rgb(39,39,43)"/>
<line x1="500.7" y1="387.9" x2="771.0" y2="370.8" stroke="#fafafc" stroke-width="2.2" opacity="0.9"/>
<line x1="534.6" y1="390.3" x2="585.4" y2="387.1" stroke="#c2c2c6" stroke-width="2.2" opacity="0.80"/>
<line x1="561.3" y1="388.6" x2="585.4" y2="387.1" stroke="#7c7c80" stroke-width="1.9" opacity="0.80"/>
<line x1="602.6" y1="386.1" x2="657.7" y2="382.6" stroke="#c2c2c6" stroke-width="2.2" opacity="0.80"/>
<line x1="631.5" y1="384.3" x2="657.7" y2="382.6" stroke="#7c7c80" stroke-width="1.9" opacity="0.80"/>
<line x1="675.5" y1="381.5" x2="732.8" y2="377.9" stroke="#c2c2c6" stroke-width="2.2" opacity="0.64"/>
<line x1="705.5" y1="379.7" x2="732.8" y2="377.9" stroke="#7c7c80" stroke-width="1.9" opacity="0.64"/>
<line x1="742.9" y1="377.3" x2="769.6" y2="375.7" stroke="#c2c2c6" stroke-width="2.2" opacity="0.44"/>
<line x1="757.6" y1="376.4" x2="769.6" y2="375.7" stroke="#7c7c80" stroke-width="1.9" opacity="0.44"/>
<path d="M499.4,400.0 L522.6,401.7 L499.4,405.4 Z" fill="rgb(38,38,42)"/>
<line x1="500.7" y1="398.0" x2="771.0" y2="382.3" stroke="#fafafc" stroke-width="2.2" opacity="0.9"/>
<line x1="534.6" y1="400.6" x2="585.4" y2="397.7" stroke="#c2c2c6" stroke-width="2.2" opacity="0.82"/>
<line x1="561.4" y1="399.0" x2="585.4" y2="397.7" stroke="#7c7c80" stroke-width="1.9" opacity="0.82"/>
<line x1="602.6" y1="396.7" x2="657.7" y2="393.5" stroke="#c2c2c6" stroke-width="2.2" opacity="0.82"/>
<line x1="631.5" y1="395.0" x2="657.7" y2="393.5" stroke="#7c7c80" stroke-width="1.9" opacity="0.82"/>
<line x1="675.5" y1="392.5" x2="732.8" y2="389.3" stroke="#c2c2c6" stroke-width="2.2" opacity="0.66"/>
<line x1="705.5" y1="390.8" x2="732.8" y2="389.3" stroke="#7c7c80" stroke-width="1.9" opacity="0.66"/>
<line x1="742.9" y1="388.7" x2="769.7" y2="387.2" stroke="#c2c2c6" stroke-width="2.2" opacity="0.45"/>
<line x1="757.6" y1="387.8" x2="769.7" y2="387.2" stroke="#7c7c80" stroke-width="1.9" opacity="0.45"/>
<path d="M499.4,410.1 L522.6,411.9 L499.4,415.5 Z" fill="rgb(37,37,41)"/>
<line x1="500.8" y1="408.1" x2="771.0" y2="393.8" stroke="#fafafc" stroke-width="2.2" opacity="0.9"/>
<line x1="534.6" y1="410.8" x2="585.4" y2="408.2" stroke="#c2c2c6" stroke-width="2.2" opacity="0.84"/>
<line x1="561.4" y1="409.5" x2="585.4" y2="408.2" stroke="#7c7c80" stroke-width="1.9" opacity="0.84"/>
<line x1="602.6" y1="407.3" x2="657.7" y2="404.5" stroke="#c2c2c6" stroke-width="2.2" opacity="0.84"/>
<line x1="631.5" y1="405.8" x2="657.7" y2="404.5" stroke="#7c7c80" stroke-width="1.9" opacity="0.84"/>
<line x1="675.5" y1="403.5" x2="732.8" y2="400.6" stroke="#c2c2c6" stroke-width="2.2" opacity="0.67"/>
<line x1="705.5" y1="402.0" x2="732.8" y2="400.6" stroke="#7c7c80" stroke-width="1.9" opacity="0.67"/>
<line x1="742.9" y1="400.1" x2="769.7" y2="398.7" stroke="#c2c2c6" stroke-width="2.2" opacity="0.46"/>
<line x1="757.7" y1="399.3" x2="769.7" y2="398.7" stroke="#7c7c80" stroke-width="1.9" opacity="0.46"/>
<path d="M499.4,420.1 L522.6,422.1 L499.4,425.5 Z" fill="rgb(36,36,40)"/>
<line x1="500.8" y1="418.2" x2="771.0" y2="405.3" stroke="#fafafc" stroke-width="2.2" opacity="0.9"/>
<line x1="534.6" y1="421.1" x2="585.4" y2="418.7" stroke="#c2c2c6" stroke-width="2.2" opacity="0.86"/>
<line x1="561.4" y1="419.9" x2="585.4" y2="418.7" stroke="#7c7c80" stroke-width="1.9" opacity="0.86"/>
<line x1="602.6" y1="417.9" x2="657.7" y2="415.4" stroke="#c2c2c6" stroke-width="2.2" opacity="0.86"/>
<line x1="631.5" y1="416.6" x2="657.7" y2="415.4" stroke="#7c7c80" stroke-width="1.9" opacity="0.86"/>
<line x1="675.5" y1="414.6" x2="732.8" y2="411.9" stroke="#c2c2c6" stroke-width="2.2" opacity="0.69"/>
<line x1="705.5" y1="413.2" x2="732.8" y2="411.9" stroke="#7c7c80" stroke-width="1.9" opacity="0.69"/>
<line x1="742.9" y1="411.4" x2="769.7" y2="410.2" stroke="#c2c2c6" stroke-width="2.2" opacity="0.47"/>
<line x1="757.7" y1="410.7" x2="769.7" y2="410.2" stroke="#7c7c80" stroke-width="1.9" opacity="0.47"/>
<path d="M499.4,430.2 L522.6,432.3 L499.4,435.6 Z" fill="rgb(35,35,39)"/>
<line x1="500.8" y1="428.3" x2="771.1" y2="416.8" stroke="#fafafc" stroke-width="2.2" opacity="0.9"/>
<line x1="534.6" y1="431.4" x2="585.4" y2="429.3" stroke="#c2c2c6" stroke-width="2.2" opacity="0.88"/>
<line x1="561.4" y1="430.3" x2="585.4" y2="429.3" stroke="#7c7c80" stroke-width="1.9" opacity="0.88"/>
<line x1="602.6" y1="428.6" x2="657.8" y2="426.3" stroke="#c2c2c6" stroke-width="2.2" opacity="0.88"/>
<line x1="631.6" y1="427.4" x2="657.8" y2="426.3" stroke="#7c7c80" stroke-width="1.9" opacity="0.88"/>
<line x1="675.5" y1="425.6" x2="732.8" y2="423.2" stroke="#c2c2c6" stroke-width="2.2" opacity="0.70"/>
<line x1="705.5" y1="424.3" x2="732.8" y2="423.2" stroke="#7c7c80" stroke-width="1.9" opacity="0.70"/>
<line x1="742.9" y1="422.8" x2="769.7" y2="421.7" stroke="#c2c2c6" stroke-width="2.2" opacity="0.48"/>
<line x1="757.7" y1="422.2" x2="769.7" y2="421.7" stroke="#7c7c80" stroke-width="1.9" opacity="0.48"/>
<path d="M499.4,440.3 L522.6,442.5 L499.4,445.7 Z" fill="rgb(34,34,38)"/>
<line x1="500.8" y1="438.3" x2="771.1" y2="428.3" stroke="#fafafc" stroke-width="2.2" opacity="0.9"/>
<line x1="534.6" y1="441.6" x2="585.4" y2="439.8" stroke="#c2c2c6" stroke-width="2.2" opacity="0.90"/>
<line x1="561.4" y1="440.7" x2="585.4" y2="439.8" stroke="#7c7c80" stroke-width="1.9" opacity="0.90"/>
<line x1="602.6" y1="439.2" x2="657.8" y2="437.2" stroke="#c2c2c6" stroke-width="2.2" opacity="0.90"/>
<line x1="631.6" y1="438.1" x2="657.8" y2="437.2" stroke="#7c7c80" stroke-width="1.9" opacity="0.90"/>
<line x1="675.5" y1="436.6" x2="732.8" y2="434.5" stroke="#c2c2c6" stroke-width="2.2" opacity="0.72"/>
<line x1="705.5" y1="435.5" x2="732.8" y2="434.5" stroke="#7c7c80" stroke-width="1.9" opacity="0.72"/>
<line x1="742.9" y1="434.1" x2="769.7" y2="433.2" stroke="#c2c2c6" stroke-width="2.2" opacity="0.49"/>
<line x1="757.7" y1="433.6" x2="769.7" y2="433.2" stroke="#7c7c80" stroke-width="1.9" opacity="0.49"/>
<path d="M499.4,450.4 L522.7,452.7 L499.4,455.8 Z" fill="rgb(33,33,37)"/>
<line x1="500.8" y1="448.4" x2="771.1" y2="439.9" stroke="#fafafc" stroke-width="2.2" opacity="0.9"/>
<line x1="534.7" y1="451.9" x2="585.4" y2="450.3" stroke="#c2c2c6" stroke-width="2.2" opacity="0.92"/>
<line x1="561.4" y1="451.1" x2="585.4" y2="450.3" stroke="#7c7c80" stroke-width="1.9" opacity="0.92"/>
<line x1="602.6" y1="449.8" x2="657.8" y2="448.1" stroke="#c2c2c6" stroke-width="2.2" opacity="0.92"/>
<line x1="631.6" y1="448.9" x2="657.8" y2="448.1" stroke="#7c7c80" stroke-width="1.9" opacity="0.92"/>
<line x1="675.5" y1="447.6" x2="732.9" y2="445.8" stroke="#c2c2c6" stroke-width="2.2" opacity="0.74"/>
<line x1="705.6" y1="446.7" x2="732.9" y2="445.8" stroke="#7c7c80" stroke-width="1.9" opacity="0.74"/>
<line x1="743.0" y1="445.5" x2="769.7" y2="444.7" stroke="#c2c2c6" stroke-width="2.2" opacity="0.51"/>
<line x1="757.7" y1="445.1" x2="769.7" y2="444.7" stroke="#7c7c80" stroke-width="1.9" opacity="0.51"/>
<path d="M499.5,460.5 L522.7,462.9 L499.5,465.9 Z" fill="rgb(32,32,36)"/>
<line x1="500.8" y1="458.5" x2="771.1" y2="451.4" stroke="#fafafc" stroke-width="2.2" opacity="0.9"/>
<line x1="534.7" y1="462.2" x2="585.5" y2="460.9" stroke="#c2c2c6" stroke-width="2.2" opacity="0.94"/>
<line x1="561.4" y1="461.5" x2="585.5" y2="460.9" stroke="#7c7c80" stroke-width="1.9" opacity="0.94"/>
<line x1="602.7" y1="460.4" x2="657.8" y2="459.0" stroke="#c2c2c6" stroke-width="2.2" opacity="0.94"/>
<line x1="631.6" y1="459.7" x2="657.8" y2="459.0" stroke="#7c7c80" stroke-width="1.9" opacity="0.94"/>
<line x1="675.5" y1="458.6" x2="732.9" y2="457.1" stroke="#c2c2c6" stroke-width="2.2" opacity="0.75"/>
<line x1="705.6" y1="457.8" x2="732.9" y2="457.1" stroke="#7c7c80" stroke-width="1.9" opacity="0.75"/>
<line x1="743.0" y1="456.9" x2="769.7" y2="456.2" stroke="#c2c2c6" stroke-width="2.2" opacity="0.52"/>
<line x1="757.7" y1="456.5" x2="769.7" y2="456.2" stroke="#7c7c80" stroke-width="1.9" opacity="0.52"/>
<path d="M499.5,470.5 L522.7,473.1 L499.5,475.9 Z" fill="rgb(31,31,35)"/>
<line x1="500.8" y1="468.6" x2="771.1" y2="462.9" stroke="#fafafc" stroke-width="2.2" opacity="0.9"/>
<line x1="534.7" y1="472.4" x2="585.5" y2="471.4" stroke="#c2c2c6" stroke-width="2.2" opacity="0.96"/>
<line x1="561.4" y1="471.9" x2="585.5" y2="471.4" stroke="#7c7c80" stroke-width="1.9" opacity="0.96"/>
<line x1="602.7" y1="471.1" x2="657.8" y2="470.0" stroke="#c2c2c6" stroke-width="2.2" opacity="0.96"/>
<line x1="631.6" y1="470.5" x2="657.8" y2="470.0" stroke="#7c7c80" stroke-width="1.9" opacity="0.96"/>
<line x1="675.6" y1="469.6" x2="732.9" y2="468.4" stroke="#c2c2c6" stroke-width="2.2" opacity="0.77"/>
<line x1="705.6" y1="469.0" x2="732.9" y2="468.4" stroke="#7c7c80" stroke-width="1.9" opacity="0.77"/>
<line x1="743.0" y1="468.2" x2="769.7" y2="467.7" stroke="#c2c2c6" stroke-width="2.2" opacity="0.53"/>
<line x1="757.7" y1="467.9" x2="769.7" y2="467.7" stroke="#7c7c80" stroke-width="1.9" opacity="0.53"/>
<path d="M499.5,480.6 L522.7,483.3 L499.5,486.0 Z" fill="rgb(31,31,35)"/>
<line x1="500.9" y1="478.7" x2="771.1" y2="474.4" stroke="#fafafc" stroke-width="2.2" opacity="0.9"/>
<line x1="534.7" y1="482.7" x2="585.5" y2="481.9" stroke="#c2c2c6" stroke-width="2.2" opacity="0.98"/>
<line x1="561.5" y1="482.3" x2="585.5" y2="481.9" stroke="#7c7c80" stroke-width="1.9" opacity="0.98"/>
<line x1="602.7" y1="481.7" x2="657.8" y2="480.9" stroke="#c2c2c6" stroke-width="2.2" opacity="0.98"/>
<line x1="631.6" y1="481.3" x2="657.8" y2="480.9" stroke="#7c7c80" stroke-width="1.9" opacity="0.98"/>
<line x1="675.6" y1="480.6" x2="732.9" y2="479.8" stroke="#c2c2c6" stroke-width="2.2" opacity="0.78"/>
<line x1="705.6" y1="480.2" x2="732.9" y2="479.8" stroke="#7c7c80" stroke-width="1.9" opacity="0.78"/>
<line x1="743.0" y1="479.6" x2="769.8" y2="479.2" stroke="#c2c2c6" stroke-width="2.2" opacity="0.54"/>
<line x1="757.7" y1="479.4" x2="769.8" y2="479.2" stroke="#7c7c80" stroke-width="1.9" opacity="0.54"/>
<path d="M499.5,490.7 L522.7,493.5 L499.5,496.1 Z" fill="rgb(30,30,34)"/>
<line x1="500.9" y1="488.8" x2="771.1" y2="485.9" stroke="#fafafc" stroke-width="2.2" opacity="0.9"/>
<line x1="534.7" y1="493.0" x2="585.5" y2="492.5" stroke="#c2c2c6" stroke-width="2.2" opacity="1.00"/>
<line x1="561.5" y1="492.7" x2="585.5" y2="492.5" stroke="#7c7c80" stroke-width="1.9" opacity="1.00"/>
<line x1="602.7" y1="492.3" x2="657.8" y2="491.8" stroke="#c2c2c6" stroke-width="2.2" opacity="1.00"/>
<line x1="631.6" y1="492.0" x2="657.8" y2="491.8" stroke="#7c7c80" stroke-width="1.9" opacity="1.00"/>
<line x1="675.6" y1="491.6" x2="732.9" y2="491.1" stroke="#c2c2c6" stroke-width="2.2" opacity="0.80"/>
<line x1="705.6" y1="491.3" x2="732.9" y2="491.1" stroke="#7c7c80" stroke-width="1.9" opacity="0.80"/>
<line x1="743.0" y1="491.0" x2="769.8" y2="490.7" stroke="#c2c2c6" stroke-width="2.2" opacity="0.55"/>
<line x1="757.8" y1="490.8" x2="769.8" y2="490.7" stroke="#7c7c80" stroke-width="1.9" opacity="0.55"/>
<path d="M499.5,500.8 L522.7,503.7 L499.5,506.2 Z" fill="rgb(30,30,34)"/>
<line x1="500.9" y1="498.9" x2="771.1" y2="497.4" stroke="#fafafc" stroke-width="2.2" opacity="0.9"/>
<line x1="534.7" y1="503.2" x2="585.5" y2="503.0" stroke="#c2c2c6" stroke-width="2.2" opacity="1.00"/>
<line x1="561.5" y1="503.1" x2="585.5" y2="503.0" stroke="#7c7c80" stroke-width="1.9" opacity="1.00"/>
<line x1="602.7" y1="502.9" x2="657.9" y2="502.7" stroke="#c2c2c6" stroke-width="2.2" opacity="1.00"/>
<line x1="631.6" y1="502.8" x2="657.9" y2="502.7" stroke="#7c7c80" stroke-width="1.9" opacity="1.00"/>
<line x1="675.6" y1="502.6" x2="732.9" y2="502.4" stroke="#c2c2c6" stroke-width="2.2" opacity="0.80"/>
<line x1="705.6" y1="502.5" x2="732.9" y2="502.4" stroke="#7c7c80" stroke-width="1.9" opacity="0.80"/>
<line x1="743.0" y1="502.3" x2="769.8" y2="502.2" stroke="#c2c2c6" stroke-width="2.2" opacity="0.55"/>
<line x1="757.8" y1="502.3" x2="769.8" y2="502.2" stroke="#7c7c80" stroke-width="1.9" opacity="0.55"/>
<path d="M499.5,510.9 L522.7,513.9 L499.5,516.3 Z" fill="rgb(30,30,34)"/>
<line x1="500.9" y1="509.0" x2="771.2" y2="508.9" stroke="#fafafc" stroke-width="2.2" opacity="0.9"/>
<line x1="534.7" y1="513.5" x2="585.5" y2="513.5" stroke="#c2c2c6" stroke-width="2.2" opacity="1.00"/>
<line x1="561.5" y1="513.5" x2="585.5" y2="513.5" stroke="#7c7c80" stroke-width="1.9" opacity="1.00"/>
<line x1="602.7" y1="513.6" x2="657.9" y2="513.6" stroke="#c2c2c6" stroke-width="2.2" opacity="1.00"/>
<line x1="631.7" y1="513.6" x2="657.9" y2="513.6" stroke="#7c7c80" stroke-width="1.9" opacity="1.00"/>
<line x1="675.6" y1="513.6" x2="732.9" y2="513.7" stroke="#c2c2c6" stroke-width="2.2" opacity="0.80"/>
<line x1="705.6" y1="513.7" x2="732.9" y2="513.7" stroke="#7c7c80" stroke-width="1.9" opacity="0.80"/>
<line x1="743.0" y1="513.7" x2="769.8" y2="513.7" stroke="#c2c2c6" stroke-width="2.2" opacity="0.55"/>
<line x1="757.8" y1="513.7" x2="769.8" y2="513.7" stroke="#7c7c80" stroke-width="1.9" opacity="0.55"/>
<path d="M499.5,520.9 L522.7,524.1 L499.5,526.3 Z" fill="rgb(30,30,34)"/>
<line x1="500.9" y1="519.0" x2="771.2" y2="520.4" stroke="#fafafc" stroke-width="2.2" opacity="0.9"/>
<line x1="534.8" y1="523.8" x2="585.5" y2="524.1" stroke="#c2c2c6" stroke-width="2.2" opacity="1.00"/>
<line x1="561.5" y1="523.9" x2="585.5" y2="524.1" stroke="#7c7c80" stroke-width="1.9" opacity="1.00"/>
<line x1="602.7" y1="524.2" x2="657.9" y2="524.5" stroke="#c2c2c6" stroke-width="2.2" opacity="1.00"/>
<line x1="631.7" y1="524.4" x2="657.9" y2="524.5" stroke="#7c7c80" stroke-width="1.9" opacity="1.00"/>
<line x1="675.6" y1="524.6" x2="733.0" y2="525.0" stroke="#c2c2c6" stroke-width="2.2" opacity="0.80"/>
<line x1="705.7" y1="524.8" x2="733.0" y2="525.0" stroke="#7c7c80" stroke-width="1.9" opacity="0.80"/>
<line x1="743.1" y1="525.1" x2="769.8" y2="525.2" stroke="#c2c2c6" stroke-width="2.2" opacity="0.55"/>
<line x1="757.8" y1="525.2" x2="769.8" y2="525.2" stroke="#7c7c80" stroke-width="1.9" opacity="0.55"/>
<path d="M499.6,531.0 L522.8,534.3 L499.6,536.4 Z" fill="rgb(30,30,34)"/>
<line x1="500.9" y1="529.1" x2="771.2" y2="532.0" stroke="#fafafc" stroke-width="2.2" opacity="0.9"/>
<line x1="534.8" y1="534.0" x2="585.5" y2="534.6" stroke="#c2c2c6" stroke-width="2.2" opacity="1.00"/>
<line x1="561.5" y1="534.3" x2="585.5" y2="534.6" stroke="#7c7c80" stroke-width="1.9" opacity="1.00"/>
<line x1="602.7" y1="534.8" x2="657.9" y2="535.4" stroke="#c2c2c6" stroke-width="2.2" opacity="1.00"/>
<line x1="631.7" y1="535.1" x2="657.9" y2="535.4" stroke="#7c7c80" stroke-width="1.9" opacity="1.00"/>
<line x1="675.6" y1="535.7" x2="733.0" y2="536.3" stroke="#c2c2c6" stroke-width="2.2" opacity="0.80"/>
<line x1="705.7" y1="536.0" x2="733.0" y2="536.3" stroke="#7c7c80" stroke-width="1.9" opacity="0.80"/>
<line x1="743.1" y1="536.4" x2="769.8" y2="536.7" stroke="#c2c2c6" stroke-width="2.2" opacity="0.55"/>
<line x1="757.8" y1="536.6" x2="769.8" y2="536.7" stroke="#7c7c80" stroke-width="1.9" opacity="0.55"/>
<path d="M499.6,541.1 L522.8,544.5 L499.6,546.5 Z" fill="rgb(30,30,34)"/>
<line x1="500.9" y1="539.2" x2="771.2" y2="543.5" stroke="#fafafc" stroke-width="2.2" opacity="0.9"/>
<line x1="534.8" y1="544.3" x2="585.6" y2="545.1" stroke="#c2c2c6" stroke-width="2.2" opacity="1.00"/>
<line x1="561.5" y1="544.7" x2="585.6" y2="545.1" stroke="#7c7c80" stroke-width="1.9" opacity="1.00"/>
<line x1="602.8" y1="545.4" x2="657.9" y2="546.4" stroke="#c2c2c6" stroke-width="2.2" opacity="1.00"/>
<line x1="631.7" y1="545.9" x2="657.9" y2="546.4" stroke="#7c7c80" stroke-width="1.9" opacity="1.00"/>
<line x1="675.7" y1="546.7" x2="733.0" y2="547.6" stroke="#c2c2c6" stroke-width="2.2" opacity="0.80"/>
<line x1="705.7" y1="547.2" x2="733.0" y2="547.6" stroke="#7c7c80" stroke-width="1.9" opacity="0.80"/>
<line x1="743.1" y1="547.8" x2="769.8" y2="548.3" stroke="#c2c2c6" stroke-width="2.2" opacity="0.55"/>
<line x1="757.8" y1="548.1" x2="769.8" y2="548.3" stroke="#7c7c80" stroke-width="1.9" opacity="0.55"/>
<path d="M499.6,551.2 L522.8,554.7 L499.6,556.6 Z" fill="rgb(30,30,34)"/>
<line x1="500.9" y1="549.3" x2="771.2" y2="555.0" stroke="#fafafc" stroke-width="2.2" opacity="0.9"/>
<line x1="534.8" y1="554.6" x2="585.6" y2="555.7" stroke="#c2c2c6" stroke-width="2.2" opacity="1.00"/>
<line x1="561.5" y1="555.1" x2="585.6" y2="555.7" stroke="#7c7c80" stroke-width="1.9" opacity="1.00"/>
<line x1="602.8" y1="556.1" x2="657.9" y2="557.3" stroke="#c2c2c6" stroke-width="2.2" opacity="1.00"/>
<line x1="631.7" y1="556.7" x2="657.9" y2="557.3" stroke="#7c7c80" stroke-width="1.9" opacity="1.00"/>
<line x1="675.7" y1="557.7" x2="733.0" y2="558.9" stroke="#c2c2c6" stroke-width="2.2" opacity="0.80"/>
<line x1="705.7" y1="558.3" x2="733.0" y2="558.9" stroke="#7c7c80" stroke-width="1.9" opacity="0.80"/>
<line x1="743.1" y1="559.2" x2="769.8" y2="559.8" stroke="#c2c2c6" stroke-width="2.2" opacity="0.55"/>
<line x1="757.8" y1="559.5" x2="769.8" y2="559.8" stroke="#7c7c80" stroke-width="1.9" opacity="0.55"/>
<path d="M499.6,561.2 L522.8,564.9 L499.6,566.6 Z" fill="rgb(30,30,34)"/>
<line x1="501.0" y1="559.4" x2="771.2" y2="566.5" stroke="#fafafc" stroke-width="2.2" opacity="0.9"/>
<line x1="534.8" y1="564.8" x2="585.6" y2="566.2" stroke="#c2c2c6" stroke-width="2.2" opacity="1.00"/>
<line x1="561.6" y1="565.6" x2="585.6" y2="566.2" stroke="#7c7c80" stroke-width="1.9" opacity="1.00"/>
<line x1="602.8" y1="566.7" x2="657.9" y2="568.2" stroke="#c2c2c6" stroke-width="2.2" opacity="1.00"/>
<line x1="631.7" y1="567.5" x2="657.9" y2="568.2" stroke="#7c7c80" stroke-width="1.9" opacity="1.00"/>
<line x1="675.7" y1="568.7" x2="733.0" y2="570.3" stroke="#c2c2c6" stroke-width="2.2" opacity="0.80"/>
<line x1="705.7" y1="569.5" x2="733.0" y2="570.3" stroke="#7c7c80" stroke-width="1.9" opacity="0.80"/>
<line x1="743.1" y1="570.5" x2="769.9" y2="571.3" stroke="#c2c2c6" stroke-width="2.2" opacity="0.55"/>
<line x1="757.8" y1="570.9" x2="769.9" y2="571.3" stroke="#7c7c80" stroke-width="1.9" opacity="0.55"/>
<path d="M499.6,571.3 L522.8,575.1 L499.6,576.7 Z" fill="rgb(30,30,34)"/>
<line x1="501.0" y1="569.5" x2="771.2" y2="578.0" stroke="#fafafc" stroke-width="2.2" opacity="0.9"/>
<line x1="534.8" y1="575.1" x2="585.6" y2="576.7" stroke="#c2c2c6" stroke-width="2.2" opacity="1.00"/>
<line x1="561.6" y1="576.0" x2="585.6" y2="576.7" stroke="#7c7c80" stroke-width="1.9" opacity="1.00"/>
<line x1="602.8" y1="577.3" x2="657.9" y2="579.1" stroke="#c2c2c6" stroke-width="2.2" opacity="1.00"/>
<line x1="631.7" y1="578.3" x2="657.9" y2="579.1" stroke="#7c7c80" stroke-width="1.9" opacity="1.00"/>
<line x1="675.7" y1="579.7" x2="733.0" y2="581.6" stroke="#c2c2c6" stroke-width="2.2" opacity="0.80"/>
<line x1="705.7" y1="580.7" x2="733.0" y2="581.6" stroke="#7c7c80" stroke-width="1.9" opacity="0.80"/>
<line x1="743.1" y1="581.9" x2="769.9" y2="582.8" stroke="#c2c2c6" stroke-width="2.2" opacity="0.55"/>
<line x1="757.9" y1="582.4" x2="769.9" y2="582.8" stroke="#7c7c80" stroke-width="1.9" opacity="0.55"/>
<path d="M499.6,581.4 L522.8,585.3 L499.6,586.8 Z" fill="rgb(30,30,34)"/>
<line x1="501.0" y1="579.6" x2="771.3" y2="589.5" stroke="#fafafc" stroke-width="2.2" opacity="0.9"/>
<line x1="534.8" y1="585.3" x2="585.6" y2="587.3" stroke="#c2c2c6" stroke-width="2.2" opacity="1.00"/>
<line x1="561.6" y1="586.4" x2="585.6" y2="587.3" stroke="#7c7c80" stroke-width="1.9" opacity="1.00"/>
<line x1="602.8" y1="587.9" x2="658.0" y2="590.0" stroke="#c2c2c6" stroke-width="2.2" opacity="1.00"/>
<line x1="631.8" y1="589.0" x2="658.0" y2="590.0" stroke="#7c7c80" stroke-width="1.9" opacity="1.00"/>
<line x1="675.7" y1="590.7" x2="733.0" y2="592.9" stroke="#c2c2c6" stroke-width="2.2" opacity="0.80"/>
<line x1="705.7" y1="591.8" x2="733.0" y2="592.9" stroke="#7c7c80" stroke-width="1.9" opacity="0.80"/>
<line x1="743.1" y1="593.3" x2="769.9" y2="594.3" stroke="#c2c2c6" stroke-width="2.2" opacity="0.55"/>
<line x1="757.9" y1="593.8" x2="769.9" y2="594.3" stroke="#7c7c80" stroke-width="1.9" opacity="0.55"/>
<path d="M499.6,591.5 L522.8,595.5 L499.6,596.9 Z" fill="rgb(30,30,34)"/>
<line x1="501.0" y1="589.6" x2="771.3" y2="601.0" stroke="#fafafc" stroke-width="2.2" opacity="0.9"/>
<line x1="534.8" y1="595.6" x2="585.6" y2="597.8" stroke="#c2c2c6" stroke-width="2.2" opacity="1.00"/>
<line x1="561.6" y1="596.8" x2="585.6" y2="597.8" stroke="#7c7c80" stroke-width="1.9" opacity="1.00"/>
<line x1="602.8" y1="598.6" x2="658.0" y2="600.9" stroke="#c2c2c6" stroke-width="2.2" opacity="1.00"/>
<line x1="631.8" y1="599.8" x2="658.0" y2="600.9" stroke="#7c7c80" stroke-width="1.9" opacity="1.00"/>
<line x1="675.7" y1="601.7" x2="733.0" y2="604.2" stroke="#c2c2c6" stroke-width="2.2" opacity="0.80"/>
<line x1="705.7" y1="603.0" x2="733.0" y2="604.2" stroke="#7c7c80" stroke-width="1.9" opacity="0.80"/>
<line x1="743.1" y1="604.6" x2="769.9" y2="605.8" stroke="#c2c2c6" stroke-width="2.2" opacity="0.55"/>
<line x1="757.9" y1="605.3" x2="769.9" y2="605.8" stroke="#7c7c80" stroke-width="1.9" opacity="0.55"/>
<path d="M499.6,601.6 L522.8,605.7 L499.6,607.0 Z" fill="rgb(30,30,34)"/>
<line x1="501.0" y1="599.7" x2="771.3" y2="612.6" stroke="#fafafc" stroke-width="2.2" opacity="0.9"/>
<line x1="534.9" y1="605.9" x2="585.6" y2="608.3" stroke="#c2c2c6" stroke-width="2.2" opacity="1.00"/>
<line x1="561.6" y1="607.2" x2="585.6" y2="608.3" stroke="#7c7c80" stroke-width="1.9" opacity="1.00"/>
<line x1="602.8" y1="609.2" x2="658.0" y2="611.9" stroke="#c2c2c6" stroke-width="2.2" opacity="1.00"/>
<line x1="631.8" y1="610.6" x2="658.0" y2="611.9" stroke="#7c7c80" stroke-width="1.9" opacity="1.00"/>
<line x1="675.7" y1="612.7" x2="733.1" y2="615.5" stroke="#c2c2c6" stroke-width="2.2" opacity="0.80"/>
<line x1="705.8" y1="614.2" x2="733.1" y2="615.5" stroke="#7c7c80" stroke-width="1.9" opacity="0.80"/>
<line x1="743.2" y1="616.0" x2="769.9" y2="617.3" stroke="#c2c2c6" stroke-width="2.2" opacity="0.55"/>
<line x1="757.9" y1="616.7" x2="769.9" y2="617.3" stroke="#7c7c80" stroke-width="1.9" opacity="0.55"/>
<path d="M499.7,611.6 L522.9,615.9 L499.7,617.0 Z" fill="rgb(30,30,34)"/>
<line x1="501.0" y1="609.8" x2="771.3" y2="624.1" stroke="#fafafc" stroke-width="2.2" opacity="0.9"/>
<line x1="534.9" y1="616.1" x2="585.7" y2="618.9" stroke="#c2c2c6" stroke-width="2.2" opacity="1.00"/>
<line x1="561.6" y1="617.6" x2="585.7" y2="618.9" stroke="#7c7c80" stroke-width="1.9" opacity="1.00"/>
<line x1="602.9" y1="619.8" x2="658.0" y2="622.8" stroke="#c2c2c6" stroke-width="2.2" opacity="1.00"/>
<line x1="631.8" y1="621.4" x2="658.0" y2="622.8" stroke="#7c7c80" stroke-width="1.9" opacity="1.00"/>
<line x1="675.7" y1="623.7" x2="733.1" y2="626.8" stroke="#c2c2c6" stroke-width="2.2" opacity="0.80"/>
<line x1="705.8" y1="625.3" x2="733.1" y2="626.8" stroke="#7c7c80" stroke-width="1.9" opacity="0.80"/>
<line x1="743.2" y1="627.4" x2="769.9" y2="628.8" stroke="#c2c2c6" stroke-width="2.2" opacity="0.55"/>
<line x1="757.9" y1="628.2" x2="769.9" y2="628.8" stroke="#7c7c80" stroke-width="1.9" opacity="0.55"/>
<path d="M499.7,621.7 L522.9,626.1 L499.7,627.1 Z" fill="rgb(30,30,34)"/>
<line x1="501.0" y1="619.9" x2="771.3" y2="635.6" stroke="#fafafc" stroke-width="2.2" opacity="0.9"/>
<line x1="534.9" y1="626.4" x2="585.7" y2="629.4" stroke="#c2c2c6" stroke-width="2.2" opacity="1.00"/>
<line x1="561.6" y1="628.0" x2="585.7" y2="629.4" stroke="#7c7c80" stroke-width="1.9" opacity="1.00"/>
<line x1="602.9" y1="630.4" x2="658.0" y2="633.7" stroke="#c2c2c6" stroke-width="2.2" opacity="1.00"/>
<line x1="631.8" y1="632.1" x2="658.0" y2="633.7" stroke="#7c7c80" stroke-width="1.9" opacity="1.00"/>
<line x1="675.8" y1="634.7" x2="733.1" y2="638.1" stroke="#c2c2c6" stroke-width="2.2" opacity="0.80"/>
<line x1="705.8" y1="636.5" x2="733.1" y2="638.1" stroke="#7c7c80" stroke-width="1.9" opacity="0.80"/>
<line x1="743.2" y1="638.7" x2="769.9" y2="640.3" stroke="#c2c2c6" stroke-width="2.2" opacity="0.55"/>
<line x1="757.9" y1="639.6" x2="769.9" y2="640.3" stroke="#7c7c80" stroke-width="1.9" opacity="0.55"/>
<path d="M499.7,631.8 L522.9,636.3 L499.7,637.2 Z" fill="rgb(30,30,34)"/>
<line x1="501.0" y1="630.0" x2="771.3" y2="647.1" stroke="#fafafc" stroke-width="2.2" opacity="0.9"/>
<line x1="534.9" y1="636.7" x2="585.7" y2="639.9" stroke="#c2c2c6" stroke-width="2.2" opacity="1.00"/>
<line x1="561.7" y1="638.4" x2="585.7" y2="639.9" stroke="#7c7c80" stroke-width="1.9" opacity="1.00"/>
<line x1="602.9" y1="641.1" x2="658.0" y2="644.6" stroke="#c2c2c6" stroke-width="2.2" opacity="1.00"/>
<line x1="631.8" y1="642.9" x2="658.0" y2="644.6" stroke="#7c7c80" stroke-width="1.9" opacity="1.00"/>
<line x1="675.8" y1="645.7" x2="733.1" y2="649.4" stroke="#c2c2c6" stroke-width="2.2" opacity="0.80"/>
<line x1="705.8" y1="647.7" x2="733.1" y2="649.4" stroke="#7c7c80" stroke-width="1.9" opacity="0.80"/>
<line x1="743.2" y1="650.1" x2="770.0" y2="651.8" stroke="#c2c2c6" stroke-width="2.2" opacity="0.55"/>
<line x1="757.9" y1="651.0" x2="770.0" y2="651.8" stroke="#7c7c80" stroke-width="1.9" opacity="0.55"/>
<path d="M499.7,641.9 L522.9,646.5 L499.7,647.3 Z" fill="rgb(30,30,34)"/>
<line x1="501.1" y1="640.1" x2="771.3" y2="658.6" stroke="#fafafc" stroke-width="2.2" opacity="0.9"/>
<line x1="534.9" y1="646.9" x2="585.7" y2="650.5" stroke="#c2c2c6" stroke-width="2.2" opacity="1.00"/>
<line x1="561.7" y1="648.8" x2="585.7" y2="650.5" stroke="#7c7c80" stroke-width="1.9" opacity="1.00"/>
<line x1="602.9" y1="651.7" x2="658.0" y2="655.5" stroke="#c2c2c6" stroke-width="2.2" opacity="1.00"/>
<line x1="631.8" y1="653.7" x2="658.0" y2="655.5" stroke="#7c7c80" stroke-width="1.9" opacity="1.00"/>
<line x1="675.8" y1="656.8" x2="733.1" y2="660.8" stroke="#c2c2c6" stroke-width="2.2" opacity="0.80"/>
<line x1="705.8" y1="658.8" x2="733.1" y2="660.8" stroke="#7c7c80" stroke-width="1.9" opacity="0.80"/>
<line x1="743.2" y1="661.5" x2="770.0" y2="663.3" stroke="#c2c2c6" stroke-width="2.2" opacity="0.55"/>
<line x1="758.0" y1="662.5" x2="770.0" y2="663.3" stroke="#7c7c80" stroke-width="1.9" opacity="0.55"/>
<path d="M499.7,652.0 L522.9,656.7 L499.7,657.4 Z" fill="rgb(30,30,34)"/>
<line x1="501.1" y1="650.2" x2="771.3" y2="670.1" stroke="#fafafc" stroke-width="2.2" opacity="0.9"/>
<line x1="534.9" y1="657.2" x2="585.7" y2="661.0" stroke="#c2c2c6" stroke-width="2.2" opacity="1.00"/>
<line x1="561.7" y1="659.2" x2="585.7" y2="661.0" stroke="#7c7c80" stroke-width="1.9" opacity="1.00"/>
<line x1="602.9" y1="662.3" x2="658.1" y2="666.4" stroke="#c2c2c6" stroke-width="2.2" opacity="1.00"/>
<line x1="631.8" y1="664.5" x2="658.1" y2="666.4" stroke="#7c7c80" stroke-width="1.9" opacity="1.00"/>
<line x1="675.8" y1="667.8" x2="733.1" y2="672.1" stroke="#c2c2c6" stroke-width="2.2" opacity="0.80"/>
<line x1="705.8" y1="670.0" x2="733.1" y2="672.1" stroke="#7c7c80" stroke-width="1.9" opacity="0.80"/>
<line x1="743.2" y1="672.8" x2="770.0" y2="674.8" stroke="#c2c2c6" stroke-width="2.2" opacity="0.55"/>
<line x1="758.0" y1="673.9" x2="770.0" y2="674.8" stroke="#7c7c80" stroke-width="1.9" opacity="0.55"/>
<path d="M499.7,662.0 L522.9,666.9 L499.7,667.4 Z" fill="rgb(30,30,34)"/>
<line x1="501.1" y1="660.3" x2="771.4" y2="681.6" stroke="#fafafc" stroke-width="2.2" opacity="0.9"/>
<line x1="534.9" y1="667.5" x2="585.7" y2="671.5" stroke="#c2c2c6" stroke-width="2.2" opacity="1.00"/>
<line x1="561.7" y1="669.6" x2="585.7" y2="671.5" stroke="#7c7c80" stroke-width="1.9" opacity="1.00"/>
<line x1="602.9" y1="672.9" x2="658.1" y2="677.4" stroke="#c2c2c6" stroke-width="2.2" opacity="1.00"/>
<line x1="631.9" y1="675.2" x2="658.1" y2="677.4" stroke="#7c7c80" stroke-width="1.9" opacity="1.00"/>
<line x1="675.8" y1="678.8" x2="733.1" y2="683.4" stroke="#c2c2c6" stroke-width="2.2" opacity="0.80"/>
<line x1="705.8" y1="681.2" x2="733.1" y2="683.4" stroke="#7c7c80" stroke-width="1.9" opacity="0.80"/>
<line x1="743.2" y1="684.2" x2="770.0" y2="686.3" stroke="#c2c2c6" stroke-width="2.2" opacity="0.55"/>
<line x1="758.0" y1="685.4" x2="770.0" y2="686.3" stroke="#7c7c80" stroke-width="1.9" opacity="0.55"/>
<path d="M499.7,672.1 L522.9,677.1 L499.7,677.5 Z" fill="rgb(30,30,34)"/>
<line x1="501.1" y1="670.3" x2="771.4" y2="693.2" stroke="#fafafc" stroke-width="2.2" opacity="0.9"/>
<line x1="535.0" y1="677.7" x2="585.7" y2="682.1" stroke="#c2c2c6" stroke-width="2.2" opacity="1.00"/>
<line x1="561.7" y1="680.0" x2="585.7" y2="682.1" stroke="#7c7c80" stroke-width="1.9" opacity="1.00"/>
<line x1="602.9" y1="683.5" x2="658.1" y2="688.3" stroke="#c2c2c6" stroke-width="2.2" opacity="1.00"/>
<line x1="631.9" y1="686.0" x2="658.1" y2="688.3" stroke="#7c7c80" stroke-width="1.9" opacity="1.00"/>
<line x1="675.8" y1="689.8" x2="733.2" y2="694.7" stroke="#c2c2c6" stroke-width="2.2" opacity="0.80"/>
<line x1="705.9" y1="692.4" x2="733.2" y2="694.7" stroke="#7c7c80" stroke-width="1.9" opacity="0.80"/>
<line x1="743.3" y1="695.6" x2="770.0" y2="697.8" stroke="#c2c2c6" stroke-width="2.2" opacity="0.55"/>
<line x1="758.0" y1="696.8" x2="770.0" y2="697.8" stroke="#7c7c80" stroke-width="1.9" opacity="0.55"/>
<path d="M499.8,682.2 L523.0,687.3 L499.8,687.6 Z" fill="rgb(30,30,34)"/>
<line x1="501.1" y1="680.4" x2="771.4" y2="704.7" stroke="#fafafc" stroke-width="2.2" opacity="0.9"/>
<line x1="535.0" y1="688.0" x2="585.7" y2="692.6" stroke="#c2c2c6" stroke-width="2.2" opacity="1.00"/>
<line x1="561.7" y1="690.4" x2="585.7" y2="692.6" stroke="#7c7c80" stroke-width="1.9" opacity="1.00"/>
<line x1="602.9" y1="694.2" x2="658.1" y2="699.2" stroke="#c2c2c6" stroke-width="2.2" opacity="1.00"/>
<line x1="631.9" y1="696.8" x2="658.1" y2="699.2" stroke="#7c7c80" stroke-width="1.9" opacity="1.00"/>
<line x1="675.8" y1="700.8" x2="733.2" y2="706.0" stroke="#c2c2c6" stroke-width="2.2" opacity="0.80"/>
<line x1="705.9" y1="703.5" x2="733.2" y2="706.0" stroke="#7c7c80" stroke-width="1.9" opacity="0.80"/>
<line x1="743.3" y1="706.9" x2="770.0" y2="709.3" stroke="#c2c2c6" stroke-width="2.2" opacity="0.55"/>
<line x1="758.0" y1="708.3" x2="770.0" y2="709.3" stroke="#7c7c80" stroke-width="1.9" opacity="0.55"/>
<path d="M499.8,692.3 L523.0,697.5 L499.8,697.7 Z" fill="rgb(30,30,34)"/>
<line x1="501.1" y1="690.5" x2="771.4" y2="716.2" stroke="#fafafc" stroke-width="2.2" opacity="0.9"/>
<line x1="535.0" y1="698.3" x2="585.8" y2="703.1" stroke="#c2c2c6" stroke-width="2.2" opacity="1.00"/>
<line x1="561.7" y1="700.8" x2="585.8" y2="703.1" stroke="#7c7c80" stroke-width="1.9" opacity="1.00"/>
<line x1="603.0" y1="704.8" x2="658.1" y2="710.1" stroke="#c2c2c6" stroke-width="2.2" opacity="1.00"/>
<line x1="631.9" y1="707.6" x2="658.1" y2="710.1" stroke="#7c7c80" stroke-width="1.9" opacity="1.00"/>
<line x1="675.8" y1="711.8" x2="733.2" y2="717.3" stroke="#c2c2c6" stroke-width="2.2" opacity="0.80"/>
<line x1="705.9" y1="714.7" x2="733.2" y2="717.3" stroke="#7c7c80" stroke-width="1.9" opacity="0.80"/>
<line x1="743.3" y1="718.3" x2="770.0" y2="720.9" stroke="#c2c2c6" stroke-width="2.2" opacity="0.55"/>
<line x1="758.0" y1="719.7" x2="770.0" y2="720.9" stroke="#7c7c80" stroke-width="1.9" opacity="0.55"/>
<path d="M499.8,702.4 L523.0,707.7 L499.8,707.8 Z" fill="rgb(30,30,34)"/>
<line x1="501.1" y1="700.6" x2="771.4" y2="727.7" stroke="#fafafc" stroke-width="2.2" opacity="0.9"/>
<line x1="535.0" y1="708.5" x2="585.8" y2="713.7" stroke="#c2c2c6" stroke-width="2.2" opacity="1.00"/>
<line x1="561.7" y1="711.2" x2="585.8" y2="713.7" stroke="#7c7c80" stroke-width="1.9" opacity="1.00"/>
<line x1="603.0" y1="715.4" x2="658.1" y2="721.0" stroke="#c2c2c6" stroke-width="2.2" opacity="1.00"/>
<line x1="631.9" y1="718.4" x2="658.1" y2="721.0" stroke="#7c7c80" stroke-width="1.9" opacity="1.00"/>
<line x1="675.9" y1="722.8" x2="733.2" y2="728.6" stroke="#c2c2c6" stroke-width="2.2" opacity="0.80"/>
<line x1="705.9" y1="725.9" x2="733.2" y2="728.6" stroke="#7c7c80" stroke-width="1.9" opacity="0.80"/>
<line x1="743.3" y1="729.6" x2="770.0" y2="732.4" stroke="#c2c2c6" stroke-width="2.2" opacity="0.55"/>
<line x1="758.0" y1="731.1" x2="770.0" y2="732.4" stroke="#7c7c80" stroke-width="1.9" opacity="0.55"/>
<path d="M499.8,712.4 L523.0,717.9 L499.8,717.8 Z" fill="rgb(30,30,34)"/>
<line x1="501.2" y1="710.7" x2="771.4" y2="739.2" stroke="#fafafc" stroke-width="2.2" opacity="0.9"/>
<line x1="535.0" y1="718.8" x2="585.8" y2="724.2" stroke="#c2c2c6" stroke-width="2.2" opacity="1.00"/>
<line x1="561.8" y1="721.7" x2="585.8" y2="724.2" stroke="#7c7c80" stroke-width="1.9" opacity="1.00"/>
<line x1="603.0" y1="726.0" x2="658.1" y2="731.9" stroke="#c2c2c6" stroke-width="2.2" opacity="1.00"/>
<line x1="631.9" y1="729.1" x2="658.1" y2="731.9" stroke="#7c7c80" stroke-width="1.9" opacity="1.00"/>
<line x1="675.9" y1="733.8" x2="733.2" y2="739.9" stroke="#c2c2c6" stroke-width="2.2" opacity="0.80"/>
<line x1="705.9" y1="737.0" x2="733.2" y2="739.9" stroke="#7c7c80" stroke-width="1.9" opacity="0.80"/>
<line x1="743.3" y1="741.0" x2="770.1" y2="743.9" stroke="#c2c2c6" stroke-width="2.2" opacity="0.55"/>
<line x1="758.0" y1="742.6" x2="770.1" y2="743.9" stroke="#7c7c80" stroke-width="1.9" opacity="0.55"/>
<path d="M499.8,722.5 L523.0,728.1 L499.8,727.9 Z" fill="rgb(30,30,34)"/>
<line x1="501.2" y1="720.8" x2="771.4" y2="750.7" stroke="#fafafc" stroke-width="2.2" opacity="0.9"/>
<line x1="535.0" y1="729.1" x2="585.8" y2="734.7" stroke="#c2c2c6" stroke-width="2.2" opacity="1.00"/>
<line x1="561.8" y1="732.1" x2="585.8" y2="734.7" stroke="#7c7c80" stroke-width="1.9" opacity="1.00"/>
<line x1="603.0" y1="736.7" x2="658.1" y2="742.8" stroke="#c2c2c6" stroke-width="2.2" opacity="1.00"/>
<line x1="631.9" y1="739.9" x2="658.1" y2="742.8" stroke="#7c7c80" stroke-width="1.9" opacity="1.00"/>
<line x1="675.9" y1="744.8" x2="733.2" y2="751.2" stroke="#c2c2c6" stroke-width="2.2" opacity="0.80"/>
<line x1="705.9" y1="748.2" x2="733.2" y2="751.2" stroke="#7c7c80" stroke-width="1.9" opacity="0.80"/>
<line x1="743.3" y1="752.4" x2="770.1" y2="755.4" stroke="#c2c2c6" stroke-width="2.2" opacity="0.55"/>
<line x1="758.1" y1="754.0" x2="770.1" y2="755.4" stroke="#7c7c80" stroke-width="1.9" opacity="0.55"/>
<path d="M499.8,732.6 L523.0,738.3 L499.8,738.0 Z" fill="rgb(30,30,34)"/>
<line x1="501.2" y1="730.9" x2="771.5" y2="762.2" stroke="#fafafc" stroke-width="2.2" opacity="0.9"/>
<line x1="535.0" y1="739.3" x2="585.8" y2="745.3" stroke="#c2c2c6" stroke-width="2.2" opacity="1.00"/>
<line x1="561.8" y1="742.5" x2="585.8" y2="745.3" stroke="#7c7c80" stroke-width="1.9" opacity="1.00"/>
<line x1="603.0" y1="747.3" x2="658.2" y2="753.8" stroke="#c2c2c6" stroke-width="2.2" opacity="1.00"/>
<line x1="631.9" y1="750.7" x2="658.2" y2="753.8" stroke="#7c7c80" stroke-width="1.9" opacity="1.00"/>
<line x1="675.9" y1="755.8" x2="733.2" y2="762.6" stroke="#c2c2c6" stroke-width="2.2" opacity="0.80"/>
<line x1="705.9" y1="759.4" x2="733.2" y2="762.6" stroke="#7c7c80" stroke-width="1.9" opacity="0.80"/>
<line x1="743.3" y1="763.7" x2="770.1" y2="766.9" stroke="#c2c2c6" stroke-width="2.2" opacity="0.55"/>
<line x1="758.1" y1="765.5" x2="770.1" y2="766.9" stroke="#7c7c80" stroke-width="1.9" opacity="0.55"/>
<path d="M499.8,742.7 L523.0,748.5 L499.8,748.1 Z" fill="rgb(30,30,34)"/>
<line x1="501.2" y1="740.9" x2="771.5" y2="773.8" stroke="#fafafc" stroke-width="2.2" opacity="0.9"/>
<line x1="535.0" y1="749.6" x2="585.8" y2="755.8" stroke="#c2c2c6" stroke-width="2.2" opacity="1.00"/>
<line x1="561.8" y1="752.9" x2="585.8" y2="755.8" stroke="#7c7c80" stroke-width="1.9" opacity="1.00"/>
<line x1="603.0" y1="757.9" x2="658.2" y2="764.7" stroke="#c2c2c6" stroke-width="2.2" opacity="1.00"/>
<line x1="632.0" y1="761.5" x2="658.2" y2="764.7" stroke="#7c7c80" stroke-width="1.9" opacity="1.00"/>
<line x1="675.9" y1="766.8" x2="733.2" y2="773.9" stroke="#c2c2c6" stroke-width="2.2" opacity="0.80"/>
<line x1="705.9" y1="770.5" x2="733.2" y2="773.9" stroke="#7c7c80" stroke-width="1.9" opacity="0.80"/>
<line x1="743.3" y1="775.1" x2="770.1" y2="778.4" stroke="#c2c2c6" stroke-width="2.2" opacity="0.55"/>
<line x1="758.1" y1="776.9" x2="770.1" y2="778.4" stroke="#7c7c80" stroke-width="1.9" opacity="0.55"/>
<path d="M499.8,752.8 L523.0,758.7 L499.8,758.2 Z" fill="rgb(30,30,34)"/>
<line x1="501.2" y1="751.0" x2="771.5" y2="785.3" stroke="#fafafc" stroke-width="2.2" opacity="0.9"/>
<line x1="535.1" y1="759.9" x2="585.8" y2="766.3" stroke="#c2c2c6" stroke-width="2.2" opacity="1.00"/>
<line x1="561.8" y1="763.3" x2="585.8" y2="766.3" stroke="#7c7c80" stroke-width="1.9" opacity="1.00"/>
<line x1="603.0" y1="768.5" x2="658.2" y2="775.6" stroke="#c2c2c6" stroke-width="2.2" opacity="1.00"/>
<line x1="632.0" y1="772.2" x2="658.2" y2="775.6" stroke="#7c7c80" stroke-width="1.9" opacity="1.00"/>
<line x1="675.9" y1="777.9" x2="733.3" y2="785.2" stroke="#c2c2c6" stroke-width="2.2" opacity="0.80"/>
<line x1="706.0" y1="781.7" x2="733.3" y2="785.2" stroke="#7c7c80" stroke-width="1.9" opacity="0.80"/>
<line x1="743.4" y1="786.5" x2="770.1" y2="789.9" stroke="#c2c2c6" stroke-width="2.2" opacity="0.55"/>
<line x1="758.1" y1="788.4" x2="770.1" y2="789.9" stroke="#7c7c80" stroke-width="1.9" opacity="0.55"/>
<path d="M499.9,762.8 L523.1,768.9 L499.9,768.2 Z" fill="rgb(30,30,34)"/>
<line x1="501.2" y1="761.1" x2="771.5" y2="796.8" stroke="#fafafc" stroke-width="2.2" opacity="0.9"/>
<line x1="535.1" y1="770.1" x2="585.9" y2="776.9" stroke="#c2c2c6" stroke-width="2.2" opacity="1.00"/>
<line x1="561.8" y1="773.7" x2="585.9" y2="776.9" stroke="#7c7c80" stroke-width="1.9" opacity="1.00"/>
<line x1="603.1" y1="779.2" x2="658.2" y2="786.5" stroke="#c2c2c6" stroke-width="2.2" opacity="1.00"/>
<line x1="632.0" y1="783.0" x2="658.2" y2="786.5" stroke="#7c7c80" stroke-width="1.9" opacity="1.00"/>
<line x1="675.9" y1="788.9" x2="733.3" y2="796.5" stroke="#c2c2c6" stroke-width="2.2" opacity="0.80"/>
<line x1="706.0" y1="792.9" x2="733.3" y2="796.5" stroke="#7c7c80" stroke-width="1.9" opacity="0.80"/>
<line x1="743.4" y1="797.8" x2="770.1" y2="801.4" stroke="#c2c2c6" stroke-width="2.2" opacity="0.55"/>
<line x1="758.1" y1="799.8" x2="770.1" y2="801.4" stroke="#7c7c80" stroke-width="1.9" opacity="0.55"/>
<path d="M499.9,772.9 L523.1,779.1 L499.9,778.3 Z" fill="rgb(30,30,34)"/>
<line x1="501.2" y1="771.2" x2="771.5" y2="808.3" stroke="#fafafc" stroke-width="2.2" opacity="0.9"/>
<line x1="535.1" y1="780.4" x2="585.9" y2="787.4" stroke="#c2c2c6" stroke-width="2.2" opacity="1.00"/>
<line x1="561.8" y1="784.1" x2="585.9" y2="787.4" stroke="#7c7c80" stroke-width="1.9" opacity="1.00"/>
<line x1="603.1" y1="789.8" x2="658.2" y2="797.4" stroke="#c2c2c6" stroke-width="2.2" opacity="1.00"/>
<line x1="632.0" y1="793.8" x2="658.2" y2="797.4" stroke="#7c7c80" stroke-width="1.9" opacity="1.00"/>
<line x1="676.0" y1="799.9" x2="733.3" y2="807.8" stroke="#c2c2c6" stroke-width="2.2" opacity="0.80"/>
<line x1="706.0" y1="804.0" x2="733.3" y2="807.8" stroke="#7c7c80" stroke-width="1.9" opacity="0.80"/>
<line x1="743.4" y1="809.2" x2="770.1" y2="812.9" stroke="#c2c2c6" stroke-width="2.2" opacity="0.55"/>
<line x1="758.1" y1="811.2" x2="770.1" y2="812.9" stroke="#7c7c80" stroke-width="1.9" opacity="0.55"/>
<path d="M499.9,783.0 L523.1,789.3 L499.9,788.4 Z" fill="rgb(30,30,34)"/>
<line x1="501.2" y1="781.3" x2="771.5" y2="819.8" stroke="#fafafc" stroke-width="2.2" opacity="0.9"/>
<line x1="535.1" y1="790.7" x2="585.9" y2="797.9" stroke="#c2c2c6" stroke-width="2.2" opacity="1.00"/>
<line x1="561.9" y1="794.5" x2="585.9" y2="797.9" stroke="#7c7c80" stroke-width="1.9" opacity="1.00"/>
<line x1="603.1" y1="800.4" x2="658.2" y2="808.3" stroke="#c2c2c6" stroke-width="2.2" opacity="1.00"/>
<line x1="632.0" y1="804.6" x2="658.2" y2="808.3" stroke="#7c7c80" stroke-width="1.9" opacity="1.00"/>
<line x1="676.0" y1="810.9" x2="733.3" y2="819.1" stroke="#c2c2c6" stroke-width="2.2" opacity="0.80"/>
<line x1="706.0" y1="815.2" x2="733.3" y2="819.1" stroke="#7c7c80" stroke-width="1.9" opacity="0.80"/>
<line x1="743.4" y1="820.6" x2="770.2" y2="824.4" stroke="#c2c2c6" stroke-width="2.2" opacity="0.55"/>
<line x1="758.1" y1="822.7" x2="770.2" y2="824.4" stroke="#7c7c80" stroke-width="1.9" opacity="0.55"/>
<path d="M499.9,793.1 L523.1,799.5 L499.9,798.5 Z" fill="rgb(30,30,34)"/>
<line x1="501.3" y1="791.4" x2="771.5" y2="831.3" stroke="#fafafc" stroke-width="2.2" opacity="0.9"/>
<line x1="535.1" y1="800.9" x2="585.9" y2="808.5" stroke="#c2c2c6" stroke-width="2.2" opacity="1.00"/>
<line x1="561.9" y1="804.9" x2="585.9" y2="808.5" stroke="#7c7c80" stroke-width="1.9" opacity="1.00"/>
<line x1="603.1" y1="811.0" x2="658.2" y2="819.3" stroke="#c2c2c6" stroke-width="2.2" opacity="1.00"/>
<line x1="632.0" y1="815.4" x2="658.2" y2="819.3" stroke="#7c7c80" stroke-width="1.9" opacity="1.00"/>
<line x1="676.0" y1="821.9" x2="733.3" y2="830.4" stroke="#c2c2c6" stroke-width="2.2" opacity="0.80"/>
<line x1="706.0" y1="826.4" x2="733.3" y2="830.4" stroke="#7c7c80" stroke-width="1.9" opacity="0.80"/>
<line x1="743.4" y1="831.9" x2="770.2" y2="835.9" stroke="#c2c2c6" stroke-width="2.2" opacity="0.55"/>
<line x1="758.2" y1="834.1" x2="770.2" y2="835.9" stroke="#7c7c80" stroke-width="1.9" opacity="0.55"/>
<path d="M499.9,803.2 L523.1,809.7 L499.9,808.6 Z" fill="rgb(30,30,34)"/>
<line x1="501.3" y1="801.5" x2="771.5" y2="842.8" stroke="#fafafc" stroke-width="2.2" opacity="0.9"/>
<line x1="535.1" y1="811.2" x2="585.9" y2="819.0" stroke="#c2c2c6" stroke-width="2.2" opacity="1.00"/>
<line x1="561.9" y1="815.3" x2="585.9" y2="819.0" stroke="#7c7c80" stroke-width="1.9" opacity="1.00"/>
<line x1="603.1" y1="821.7" x2="658.2" y2="830.2" stroke="#c2c2c6" stroke-width="2.2" opacity="1.00"/>
<line x1="632.0" y1="826.1" x2="658.2" y2="830.2" stroke="#7c7c80" stroke-width="1.9" opacity="1.00"/>
<line x1="676.0" y1="832.9" x2="733.3" y2="841.7" stroke="#c2c2c6" stroke-width="2.2" opacity="0.80"/>
<line x1="706.0" y1="837.5" x2="733.3" y2="841.7" stroke="#7c7c80" stroke-width="1.9" opacity="0.80"/>
<line x1="743.4" y1="843.3" x2="770.2" y2="847.4" stroke="#c2c2c6" stroke-width="2.2" opacity="0.55"/>
<line x1="758.2" y1="845.6" x2="770.2" y2="847.4" stroke="#7c7c80" stroke-width="1.9" opacity="0.55"/>
<path d="M499.9,813.2 L523.1,819.9 L499.9,818.6 Z" fill="rgb(30,30,34)"/>
<line x1="501.3" y1="811.6" x2="771.6" y2="854.4" stroke="#fafafc" stroke-width="2.2" opacity="0.9"/>
<line x1="535.1" y1="821.5" x2="585.9" y2="829.5" stroke="#c2c2c6" stroke-width="2.2" opacity="1.00"/>
<line x1="561.9" y1="825.7" x2="585.9" y2="829.5" stroke="#7c7c80" stroke-width="1.9" opacity="1.00"/>
<line x1="603.1" y1="832.3" x2="658.3" y2="841.1" stroke="#c2c2c6" stroke-width="2.2" opacity="1.00"/>
<line x1="632.1" y1="836.9" x2="658.3" y2="841.1" stroke="#7c7c80" stroke-width="1.9" opacity="1.00"/>
<line x1="676.0" y1="843.9" x2="733.3" y2="853.1" stroke="#c2c2c6" stroke-width="2.2" opacity="0.80"/>
<line x1="706.0" y1="848.7" x2="733.3" y2="853.1" stroke="#7c7c80" stroke-width="1.9" opacity="0.80"/>
<line x1="743.4" y1="854.7" x2="770.2" y2="858.9" stroke="#c2c2c6" stroke-width="2.2" opacity="0.55"/>
<line x1="758.2" y1="857.0" x2="770.2" y2="858.9" stroke="#7c7c80" stroke-width="1.9" opacity="0.55"/>
<path d="M499.9,823.3 L523.1,830.1 L499.9,828.7 Z" fill="rgb(30,30,34)"/>
<line x1="501.3" y1="821.6" x2="771.6" y2="865.9" stroke="#fafafc" stroke-width="2.2" opacity="0.9"/>
<line x1="535.2" y1="831.7" x2="585.9" y2="840.1" stroke="#c2c2c6" stroke-width="2.2" opacity="1.00"/>
<line x1="561.9" y1="836.1" x2="585.9" y2="840.1" stroke="#7c7c80" stroke-width="1.9" opacity="1.00"/>
<line x1="603.1" y1="842.9" x2="658.3" y2="852.0" stroke="#c2c2c6" stroke-width="2.2" opacity="1.00"/>
<line x1="632.1" y1="847.7" x2="658.3" y2="852.0" stroke="#7c7c80" stroke-width="1.9" opacity="1.00"/>
<line x1="676.0" y1="854.9" x2="733.4" y2="864.4" stroke="#c2c2c6" stroke-width="2.2" opacity="0.80"/>
<line x1="706.1" y1="859.9" x2="733.4" y2="864.4" stroke="#7c7c80" stroke-width="1.9" opacity="0.80"/>
<line x1="743.5" y1="866.0" x2="770.2" y2="870.4" stroke="#c2c2c6" stroke-width="2.2" opacity="0.55"/>
<line x1="758.2" y1="868.5" x2="770.2" y2="870.4" stroke="#7c7c80" stroke-width="1.9" opacity="0.55"/>
<path d="M499.9,833.4 L523.2,840.3 L499.9,838.8 Z" fill="rgb(30,30,34)"/>
<line x1="501.3" y1="831.7" x2="771.6" y2="877.4" stroke="#fafafc" stroke-width="2.2" opacity="0.9"/>
<line x1="535.2" y1="842.0" x2="585.9" y2="850.6" stroke="#c2c2c6" stroke-width="2.2" opacity="1.00"/>
<line x1="561.9" y1="846.5" x2="585.9" y2="850.6" stroke="#7c7c80" stroke-width="1.9" opacity="1.00"/>
<line x1="603.1" y1="853.5" x2="658.3" y2="862.9" stroke="#c2c2c6" stroke-width="2.2" opacity="1.00"/>
<line x1="632.1" y1="858.5" x2="658.3" y2="862.9" stroke="#7c7c80" stroke-width="1.9" opacity="1.00"/>
<line x1="676.0" y1="865.9" x2="733.4" y2="875.7" stroke="#c2c2c6" stroke-width="2.2" opacity="0.80"/>
<line x1="706.1" y1="871.0" x2="733.4" y2="875.7" stroke="#7c7c80" stroke-width="1.9" opacity="0.80"/>
<line x1="743.5" y1="877.4" x2="770.2" y2="881.9" stroke="#c2c2c6" stroke-width="2.2" opacity="0.55"/>
<line x1="758.2" y1="879.9" x2="770.2" y2="881.9" stroke="#7c7c80" stroke-width="1.9" opacity="0.55"/>
<path d="M500.0,843.5 L523.2,850.5 L500.0,848.9 Z" fill="rgb(30,30,34)"/>
<line x1="501.3" y1="841.8" x2="771.6" y2="888.9" stroke="#fafafc" stroke-width="2.2" opacity="0.9"/>
<line x1="535.2" y1="852.2" x2="586.0" y2="861.1" stroke="#c2c2c6" stroke-width="2.2" opacity="1.00"/>
<line x1="561.9" y1="856.9" x2="586.0" y2="861.1" stroke="#7c7c80" stroke-width="1.9" opacity="1.00"/>
<line x1="603.2" y1="864.2" x2="658.3" y2="873.8" stroke="#c2c2c6" stroke-width="2.2" opacity="1.00"/>
<line x1="632.1" y1="869.2" x2="658.3" y2="873.8" stroke="#7c7c80" stroke-width="1.9" opacity="1.00"/>
<line x1="676.0" y1="876.9" x2="733.4" y2="887.0" stroke="#c2c2c6" stroke-width="2.2" opacity="0.80"/>
<line x1="706.1" y1="882.2" x2="733.4" y2="887.0" stroke="#7c7c80" stroke-width="1.9" opacity="0.80"/>
<line x1="743.5" y1="888.8" x2="770.2" y2="893.5" stroke="#c2c2c6" stroke-width="2.2" opacity="0.55"/>
<line x1="758.2" y1="891.3" x2="770.2" y2="893.5" stroke="#7c7c80" stroke-width="1.9" opacity="0.55"/>
<path d="M500.0,853.6 L523.2,860.7 L500.0,859.0 Z" fill="rgb(30,30,34)"/>
<line x1="501.3" y1="851.9" x2="771.6" y2="900.4" stroke="#fafafc" stroke-width="2.2" opacity="0.9"/>
<line x1="535.2" y1="862.5" x2="586.0" y2="871.7" stroke="#c2c2c6" stroke-width="2.2" opacity="1.00"/>
<line x1="561.9" y1="867.3" x2="586.0" y2="871.7" stroke="#7c7c80" stroke-width="1.9" opacity="1.00"/>
<line x1="603.2" y1="874.8" x2="658.3" y2="884.7" stroke="#c2c2c6" stroke-width="2.2" opacity="1.00"/>
<line x1="632.1" y1="880.0" x2="658.3" y2="884.7" stroke="#7c7c80" stroke-width="1.9" opacity="1.00"/>
<line x1="676.1" y1="888.0" x2="733.4" y2="898.3" stroke="#c2c2c6" stroke-width="2.2" opacity="0.80"/>
<line x1="706.1" y1="893.4" x2="733.4" y2="898.3" stroke="#7c7c80" stroke-width="1.9" opacity="0.80"/>
<line x1="743.5" y1="900.1" x2="770.2" y2="905.0" stroke="#c2c2c6" stroke-width="2.2" opacity="0.55"/>
<line x1="758.2" y1="902.8" x2="770.2" y2="905.0" stroke="#7c7c80" stroke-width="1.9" opacity="0.55"/>
<path d="M500.0,863.6 L523.2,870.9 L500.0,869.0 Z" fill="rgb(30,30,34)"/>
<line x1="501.4" y1="862.0" x2="771.6" y2="911.9" stroke="#fafafc" stroke-width="2.2" opacity="0.9"/>
<line x1="535.2" y1="872.8" x2="586.0" y2="882.2" stroke="#c2c2c6" stroke-width="2.2" opacity="1.00"/>
<line x1="562.0" y1="877.8" x2="586.0" y2="882.2" stroke="#7c7c80" stroke-width="1.9" opacity="1.00"/>
<line x1="603.2" y1="885.4" x2="658.3" y2="895.7" stroke="#c2c2c6" stroke-width="2.2" opacity="1.00"/>
<line x1="632.1" y1="890.8" x2="658.3" y2="895.7" stroke="#7c7c80" stroke-width="1.9" opacity="1.00"/>
<line x1="676.1" y1="899.0" x2="733.4" y2="909.6" stroke="#c2c2c6" stroke-width="2.2" opacity="0.80"/>
<line x1="706.1" y1="904.5" x2="733.4" y2="909.6" stroke="#7c7c80" stroke-width="1.9" opacity="0.80"/>
<line x1="743.5" y1="911.5" x2="770.3" y2="916.5" stroke="#c2c2c6" stroke-width="2.2" opacity="0.55"/>
<line x1="758.2" y1="914.2" x2="770.3" y2="916.5" stroke="#7c7c80" stroke-width="1.9" opacity="0.55"/>
</g></g>
<rect x="828" y="315" width="30.5" height="381" fill="#d8d8dc"/>
<text transform="translate(836.5,414) rotate(90)" x="0" y="0" text-anchor="start" font-family="Liberation Sans" font-weight="bold" font-size="22.6" fill="#2e2e33" textLength="45" lengthAdjust="spacingAndGlyphs">A2</text>
<text transform="translate(833.5,355) rotate(90)" x="0" y="0" text-anchor="middle" font-family="Liberation Sans" font-weight="normal" font-size="5" fill="#6a6a6e">Insert Air Purifier Filter</text>
<text transform="translate(831.5,437) rotate(90)" x="0" y="0" text-anchor="middle" font-family="Liberation Sans" font-weight="normal" font-size="4.6" fill="#6a6a6e">Filter Size</text>
<text transform="translate(848,493) rotate(90)" x="0" y="0" text-anchor="middle" font-family="Liberation Sans" font-weight="normal" font-size="5.6" fill="#505055">Premium Allergen &amp;</text>
<text transform="translate(842,493) rotate(90)" x="0" y="0" text-anchor="middle" font-family="Liberation Sans" font-weight="normal" font-size="5.6" fill="#505055">Ultrafine Particles</text>
<text transform="translate(836,493) rotate(90)" x="0" y="0" text-anchor="middle" font-family="Liberation Sans" font-weight="normal" font-size="5.6" fill="#505055">+ Odor Defense</text>
<path d="M832,577 L842,560 L842,568 L856,568 L856,585 L842,585 L842,593 Z" fill="#3a3a3e"/>
<text transform="translate(850.5,640) rotate(90)" x="0" y="0" text-anchor="middle" font-family="Liberation Sans" font-weight="normal" font-size="5.2" fill="#505055">Install with arrow</text>
<text transform="translate(845,640) rotate(90)" x="0" y="0" text-anchor="middle" font-family="Liberation Sans" font-weight="normal" font-size="5.2" fill="#505055">pointing towards unit.</text>
<text transform="translate(839.5,640) rotate(90)" x="0" y="0" text-anchor="middle" font-family="Liberation Sans" font-weight="normal" font-size="5.2" fill="#505055">T.P.A.E.C.No.9000 N/F1</text>
<text transform="translate(834,641) rotate(90)" x="0" y="0" text-anchor="middle" font-family="Liberation Sans" font-weight="normal" font-size="5.2" fill="#505055">Made in China with US Filter Media</text>
<text transform="translate(123,1034) scale(0.9,1)" x="0" y="0" font-family="Liberation Sans" font-size="33.5" fill="#505050" textLength="468.9" lengthAdjust="spacing">Traditional single layer filter</text>
<text transform="translate(896.5,1034) scale(0.9,1)" x="0" y="0" font-family="Liberation Sans" font-size="33.5" fill="#505050" textLength="492.2" lengthAdjust="spacing">HEPA Filter with Carbon filter</text>
<text transform="translate(215.5,1476) scale(0.9,1)" x="0" y="0" font-family="Liberation Sans" font-size="34.3" fill="#505050" textLength="280.0" lengthAdjust="spacing">single layer filter</text>
<text transform="translate(831.5,1482) scale(0.9,1)" x="0" y="0" font-family="Liberation Sans" font-size="34" fill="#505050" textLength="20.0" lengthAdjust="spacing">2</text>
<text transform="translate(868.3,1482) scale(0.9,1)" x="0" y="0" font-family="Liberation Sans" font-size="33.5" fill="#505050" textLength="160.6" lengthAdjust="spacing">in 1 filter,</text>
<text transform="translate(1168.5,1482) scale(0.9,1)" x="0" y="0" font-family="Liberation Sans" font-size="33.5" fill="#505050" textLength="268.9" lengthAdjust="spacing">Dual protection</text>
<g clip-path="url(#clipL)">
<polygon points="152,1108 415,1108 415,1385 152,1385 95,1247" fill="#66e0fe"/>
<rect x="415" y="1108" width="214" height="277" fill="url(#fadeL)"/>
<rect x="405" y="1108" width="11" height="277" fill="url(#edgeL)"/>
<polyline points="275.0,1081.0 275.2,1084.0 275.4,1087.0 275.6,1090.0 275.8,1093.0 276.0,1096.0 276.1,1099.0 276.3,1102.0 276.4,1105.0 276.5,1108.0 276.5,1111.0 276.6,1114.0 276.8,1117.0 277.1,1120.0 277.3,1123.0 277.4,1126.0 277.6,1129.0 277.7,1132.0 277.7,1135.0 277.7,1138.0 277.7,1141.0 277.6,1144.0 277.5,1147.0 277.3,1150.0 277.1,1153.0 276.9,1156.0 276.6,1159.0 276.3,1162.0 275.9,1165.0 275.5,1168.0 275.1,1171.0 274.6,1174.0 274.1,1177.0 273.6,1180.0 273.1,1183.0 272.6,1186.0 272.1,1189.0 271.6,1192.0 271.0,1195.0 270.5,1198.0 269.9,1201.0 269.4,1204.0 268.8,1207.0 268.2,1210.0 267.7,1213.0 267.1,1216.0 266.6,1219.0 266.1,1222.0 265.6,1225.0 265.1,1228.0 264.6,1231.0 264.1,1234.0 263.7,1237.0 263.3,1240.0 263.0,1243.0 262.7,1246.0 262.4,1249.0 262.1,1252.0 261.9,1255.0 261.8,1258.0 261.6,1261.0 261.5,1264.0 261.5,1267.0 261.5,1270.0 261.5,1273.0 261.6,1276.0 261.8,1279.0 261.9,1282.0 262.1,1285.0 262.4,1288.0 262.7,1291.0 263.0,1294.0 263.3,1297.0 263.7,1300.0 264.1,1303.0 264.6,1306.0 265.1,1309.0 265.6,1312.0 266.1,1315.0 266.7,1318.0 267.3,1321.0 268.0,1324.0 268.6,1327.0 269.3,1330.0 269.9,1333.0 270.6,1336.0 271.2,1339.0 271.9,1342.0 272.5,1345.0 273.1,1348.0 273.7,1351.0 274.3,1354.0 274.8,1357.0 275.4,1360.0 275.9,1363.0 276.3,1366.0 276.8,1369.0 277.2,1372.0 277.5,1375.0 277.9,1378.0 278.2,1381.0 278.7,1384.0 279.2,1387.0 279.6,1390.0 280.0,1393.0 280.3,1396.0 280.6,1399.0 280.9,1402.0 281.1,1405.0 281.3,1408.0 281.4,1411.0 281.5,1414.0 281.2,1417.0" fill="none" stroke="#de4a2c" stroke-width="1.6" opacity="0.30"/>
<polyline points="275.0,1081.0 274.1,1084.0 273.2,1087.0 272.2,1090.0 271.3,1093.0 270.4,1096.0 269.6,1099.0 268.7,1102.0 267.9,1105.0 267.0,1108.0 266.3,1111.0 265.5,1114.0 265.0,1117.0 264.6,1120.0 264.2,1123.0 263.9,1126.0 263.6,1129.0 263.3,1132.0 263.0,1135.0 262.9,1138.0 262.7,1141.0 262.6,1144.0 262.5,1147.0 262.5,1150.0 262.6,1153.0 262.6,1156.0 262.7,1159.0 262.9,1162.0 263.0,1165.0 263.3,1168.0 263.5,1171.0 263.8,1174.0 264.1,1177.0 264.5,1180.0 264.9,1183.0 265.4,1186.0 265.9,1189.0 266.4,1192.0 267.0,1195.0 267.5,1198.0 268.1,1201.0 268.6,1204.0 269.2,1207.0 269.8,1210.0 270.3,1213.0 270.9,1216.0 271.4,1219.0 271.9,1222.0 272.4,1225.0 272.9,1228.0 273.4,1231.0 273.9,1234.0 274.3,1237.0 274.7,1240.0 275.0,1243.0 275.3,1246.0 275.6,1249.0 275.9,1252.0 276.1,1255.0 276.2,1258.0 276.4,1261.0 276.5,1264.0 276.5,1267.0 276.5,1270.0 276.5,1273.0 276.4,1276.0 276.2,1279.0 276.1,1282.0 275.9,1285.0 275.6,1288.0 275.3,1291.0 275.0,1294.0 274.7,1297.0 274.3,1300.0 273.9,1303.0 273.4,1306.0 272.9,1309.0 272.4,1312.0 272.0,1315.0 271.5,1318.0 271.1,1321.0 270.6,1324.0 270.1,1327.0 269.7,1330.0 269.2,1333.0 268.7,1336.0 268.2,1339.0 267.8,1342.0 267.3,1345.0 266.9,1348.0 266.5,1351.0 266.1,1354.0 265.7,1357.0 265.4,1360.0 265.1,1363.0 264.8,1366.0 264.5,1369.0 264.3,1372.0 264.1,1375.0 264.0,1378.0 263.9,1381.0 264.1,1384.0 264.4,1387.0 264.6,1390.0 265.0,1393.0 265.4,1396.0 265.8,1399.0 266.2,1402.0 266.7,1405.0 267.3,1408.0 267.9,1411.0 268.5,1414.0 268.8,1417.0" fill="none" stroke="#de4a2c" stroke-width="1.6" opacity="0.30"/>
<polyline points="288.2,1081.0 288.5,1084.0 288.8,1087.0 289.0,1090.0 289.3,1093.0 289.5,1096.0 289.7,1099.0 290.0,1102.0 290.1,1105.0 290.3,1108.0 290.5,1111.0 290.6,1114.0 290.8,1117.0 291.1,1120.0 291.3,1123.0 291.5,1126.0 291.7,1129.0 291.8,1132.0 291.8,1135.0 291.9,1138.0 291.8,1141.0 291.8,1144.0 291.7,1147.0 291.5,1150.0 291.4,1153.0 291.1,1156.0 290.9,1159.0 290.6,1162.0 290.2,1165.0 289.8,1168.0 289.4,1171.0 289.0,1174.0 288.5,1177.0 288.0,1180.0 287.5,1183.0 287.0,1186.0 286.5,1189.0 286.0,1192.0 285.4,1195.0 284.9,1198.0 284.3,1201.0 283.8,1204.0 283.2,1207.0 282.6,1210.0 282.1,1213.0 281.5,1216.0 281.0,1219.0 280.5,1222.0 280.0,1225.0 279.5,1228.0 279.0,1231.0 278.5,1234.0 278.1,1237.0 277.7,1240.0 277.4,1243.0 277.1,1246.0 276.8,1249.0 276.5,1252.0 276.3,1255.0 276.2,1258.0 276.0,1261.0 275.9,1264.0 275.9,1267.0 275.9,1270.0 275.9,1273.0 276.0,1276.0 276.2,1279.0 276.3,1282.0 276.5,1285.0 276.8,1288.0 277.1,1291.0 277.4,1294.0 277.7,1297.0 278.1,1300.0 278.5,1303.0 279.0,1306.0 279.5,1309.0 280.0,1312.0 280.5,1315.0 281.1,1318.0 281.7,1321.0 282.3,1324.0 283.0,1327.0 283.6,1330.0 284.2,1333.0 284.9,1336.0 285.5,1339.0 286.1,1342.0 286.7,1345.0 287.3,1348.0 287.9,1351.0 288.5,1354.0 289.0,1357.0 289.5,1360.0 290.0,1363.0 290.4,1366.0 290.8,1369.0 291.2,1372.0 291.6,1375.0 291.9,1378.0 292.2,1381.0 292.6,1384.0 293.0,1387.0 293.4,1390.0 293.7,1393.0 294.0,1396.0 294.2,1399.0 294.4,1402.0 294.5,1405.0 294.6,1408.0 294.7,1411.0 294.7,1414.0 294.4,1417.0" fill="none" stroke="#de4a2c" stroke-width="1.6" opacity="0.40"/>
<polyline points="288.2,1081.0 287.3,1084.0 286.5,1087.0 285.7,1090.0 284.8,1093.0 284.0,1096.0 283.2,1099.0 282.4,1102.0 281.6,1105.0 280.9,1108.0 280.2,1111.0 279.5,1114.0 279.0,1117.0 278.6,1120.0 278.3,1123.0 277.9,1126.0 277.6,1129.0 277.4,1132.0 277.2,1135.0 277.0,1138.0 276.9,1141.0 276.8,1144.0 276.7,1147.0 276.7,1150.0 276.8,1153.0 276.9,1156.0 277.0,1159.0 277.2,1162.0 277.4,1165.0 277.6,1168.0 277.9,1171.0 278.2,1174.0 278.5,1177.0 278.9,1180.0 279.3,1183.0 279.8,1186.0 280.3,1189.0 280.8,1192.0 281.4,1195.0 281.9,1198.0 282.5,1201.0 283.0,1204.0 283.6,1207.0 284.2,1210.0 284.7,1213.0 285.3,1216.0 285.8,1219.0 286.3,1222.0 286.8,1225.0 287.3,1228.0 287.8,1231.0 288.3,1234.0 288.7,1237.0 289.1,1240.0 289.4,1243.0 289.7,1246.0 290.0,1249.0 290.3,1252.0 290.5,1255.0 290.6,1258.0 290.8,1261.0 290.9,1264.0 290.9,1267.0 290.9,1270.0 290.9,1273.0 290.8,1276.0 290.6,1279.0 290.5,1282.0 290.3,1285.0 290.0,1288.0 289.7,1291.0 289.4,1294.0 289.1,1297.0 288.7,1300.0 288.3,1303.0 287.8,1306.0 287.3,1309.0 286.8,1312.0 286.4,1315.0 285.9,1318.0 285.4,1321.0 285.0,1324.0 284.5,1327.0 284.0,1330.0 283.5,1333.0 283.0,1336.0 282.5,1339.0 282.0,1342.0 281.6,1345.0 281.1,1348.0 280.7,1351.0 280.3,1354.0 279.9,1357.0 279.5,1360.0 279.2,1363.0 278.9,1366.0 278.6,1369.0 278.4,1372.0 278.2,1375.0 278.0,1378.0 277.9,1381.0 278.0,1384.0 278.2,1387.0 278.4,1390.0 278.7,1393.0 279.0,1396.0 279.3,1399.0 279.7,1402.0 280.1,1405.0 280.6,1408.0 281.1,1411.0 281.7,1414.0 282.0,1417.0" fill="none" stroke="#de4a2c" stroke-width="1.6" opacity="0.40"/>
<polyline points="301.4,1081.0 301.7,1084.0 302.1,1087.0 302.4,1090.0 302.8,1093.0 303.1,1096.0 303.4,1099.0 303.7,1102.0 303.9,1105.0 304.2,1108.0 304.4,1111.0 304.6,1114.0 304.8,1117.0 305.1,1120.0 305.4,1123.0 305.6,1126.0 305.7,1129.0 305.9,1132.0 306.0,1135.0 306.0,1138.0 306.0,1141.0 306.0,1144.0 305.9,1147.0 305.8,1150.0 305.6,1153.0 305.4,1156.0 305.1,1159.0 304.8,1162.0 304.5,1165.0 304.2,1168.0 303.8,1171.0 303.3,1174.0 302.9,1177.0 302.4,1180.0 301.9,1183.0 301.4,1186.0 300.9,1189.0 300.4,1192.0 299.8,1195.0 299.3,1198.0 298.7,1201.0 298.2,1204.0 297.6,1207.0 297.0,1210.0 296.5,1213.0 295.9,1216.0 295.4,1219.0 294.9,1222.0 294.4,1225.0 293.9,1228.0 293.4,1231.0 292.9,1234.0 292.5,1237.0 292.1,1240.0 291.8,1243.0 291.5,1246.0 291.2,1249.0 290.9,1252.0 290.7,1255.0 290.6,1258.0 290.4,1261.0 290.3,1264.0 290.3,1267.0 290.3,1270.0 290.3,1273.0 290.4,1276.0 290.6,1279.0 290.7,1282.0 290.9,1285.0 291.2,1288.0 291.5,1291.0 291.8,1294.0 292.1,1297.0 292.5,1300.0 292.9,1303.0 293.4,1306.0 293.9,1309.0 294.4,1312.0 294.9,1315.0 295.5,1318.0 296.1,1321.0 296.7,1324.0 297.3,1327.0 297.9,1330.0 298.5,1333.0 299.1,1336.0 299.7,1339.0 300.3,1342.0 300.9,1345.0 301.5,1348.0 302.1,1351.0 302.6,1354.0 303.1,1357.0 303.6,1360.0 304.1,1363.0 304.5,1366.0 304.9,1369.0 305.3,1372.0 305.6,1375.0 305.9,1378.0 306.2,1381.0 306.5,1384.0 306.9,1387.0 307.1,1390.0 307.4,1393.0 307.6,1396.0 307.7,1399.0 307.9,1402.0 307.9,1405.0 308.0,1408.0 308.0,1411.0 307.9,1414.0 307.6,1417.0" fill="none" stroke="#de4a2c" stroke-width="1.6" opacity="0.50"/>
<polyline points="301.4,1081.0 300.6,1084.0 299.8,1087.0 299.1,1090.0 298.3,1093.0 297.6,1096.0 296.8,1099.0 296.1,1102.0 295.4,1105.0 294.7,1108.0 294.1,1111.0 293.5,1114.0 293.1,1117.0 292.7,1120.0 292.3,1123.0 292.0,1126.0 291.7,1129.0 291.5,1132.0 291.3,1135.0 291.1,1138.0 291.0,1141.0 291.0,1144.0 290.9,1147.0 291.0,1150.0 291.0,1153.0 291.1,1156.0 291.3,1159.0 291.4,1162.0 291.7,1165.0 291.9,1168.0 292.2,1171.0 292.5,1174.0 292.9,1177.0 293.3,1180.0 293.7,1183.0 294.2,1186.0 294.7,1189.0 295.2,1192.0 295.8,1195.0 296.3,1198.0 296.9,1201.0 297.4,1204.0 298.0,1207.0 298.6,1210.0 299.1,1213.0 299.7,1216.0 300.2,1219.0 300.7,1222.0 301.2,1225.0 301.7,1228.0 302.2,1231.0 302.7,1234.0 303.1,1237.0 303.5,1240.0 303.8,1243.0 304.1,1246.0 304.4,1249.0 304.7,1252.0 304.9,1255.0 305.0,1258.0 305.2,1261.0 305.3,1264.0 305.3,1267.0 305.3,1270.0 305.3,1273.0 305.2,1276.0 305.0,1279.0 304.9,1282.0 304.7,1285.0 304.4,1288.0 304.1,1291.0 303.8,1294.0 303.5,1297.0 303.1,1300.0 302.7,1303.0 302.2,1306.0 301.7,1309.0 301.2,1312.0 300.8,1315.0 300.3,1318.0 299.8,1321.0 299.3,1324.0 298.8,1327.0 298.3,1330.0 297.8,1333.0 297.3,1336.0 296.8,1339.0 296.3,1342.0 295.8,1345.0 295.3,1348.0 294.9,1351.0 294.4,1354.0 294.0,1357.0 293.6,1360.0 293.3,1363.0 293.0,1366.0 292.7,1369.0 292.4,1372.0 292.2,1375.0 292.0,1378.0 291.9,1381.0 292.0,1384.0 292.1,1387.0 292.2,1390.0 292.4,1393.0 292.6,1396.0 292.9,1399.0 293.2,1402.0 293.6,1405.0 294.0,1408.0 294.4,1411.0 294.9,1414.0 295.2,1417.0" fill="none" stroke="#de4a2c" stroke-width="1.6" opacity="0.50"/>
<polyline points="314.6,1081.0 315.0,1084.0 315.4,1087.0 315.8,1090.0 316.3,1093.0 316.6,1096.0 317.0,1099.0 317.4,1102.0 317.7,1105.0 318.0,1108.0 318.3,1111.0 318.5,1114.0 318.9,1117.0 319.2,1120.0 319.4,1123.0 319.6,1126.0 319.8,1129.0 320.0,1132.0 320.1,1135.0 320.1,1138.0 320.2,1141.0 320.1,1144.0 320.1,1147.0 320.0,1150.0 319.8,1153.0 319.6,1156.0 319.4,1159.0 319.1,1162.0 318.8,1165.0 318.5,1168.0 318.1,1171.0 317.7,1174.0 317.2,1177.0 316.8,1180.0 316.3,1183.0 315.8,1186.0 315.3,1189.0 314.8,1192.0 314.2,1195.0 313.7,1198.0 313.1,1201.0 312.6,1204.0 312.0,1207.0 311.4,1210.0 310.9,1213.0 310.3,1216.0 309.8,1219.0 309.3,1222.0 308.8,1225.0 308.3,1228.0 307.8,1231.0 307.3,1234.0 306.9,1237.0 306.5,1240.0 306.2,1243.0 305.9,1246.0 305.6,1249.0 305.3,1252.0 305.1,1255.0 305.0,1258.0 304.8,1261.0 304.7,1264.0 304.7,1267.0 304.7,1270.0 304.7,1273.0 304.8,1276.0 305.0,1279.0 305.1,1282.0 305.3,1285.0 305.6,1288.0 305.9,1291.0 306.2,1294.0 306.5,1297.0 306.9,1300.0 307.3,1303.0 307.8,1306.0 308.3,1309.0 308.8,1312.0 309.3,1315.0 309.8,1318.0 310.4,1321.0 311.0,1324.0 311.6,1327.0 312.2,1330.0 312.8,1333.0 313.4,1336.0 314.0,1339.0 314.6,1342.0 315.2,1345.0 315.7,1348.0 316.3,1351.0 316.8,1354.0 317.3,1357.0 317.7,1360.0 318.2,1363.0 318.6,1366.0 319.0,1369.0 319.3,1372.0 319.6,1375.0 319.9,1378.0 320.1,1381.0 320.4,1384.0 320.7,1387.0 320.9,1390.0 321.1,1393.0 321.2,1396.0 321.3,1399.0 321.4,1402.0 321.4,1405.0 321.3,1408.0 321.2,1411.0 321.1,1414.0 320.8,1417.0" fill="none" stroke="#de4a2c" stroke-width="1.6" opacity="0.60"/>
<polyline points="314.6,1081.0 313.9,1084.0 313.2,1087.0 312.5,1090.0 311.8,1093.0 311.1,1096.0 310.5,1099.0 309.8,1102.0 309.2,1105.0 308.6,1108.0 308.0,1111.0 307.5,1114.0 307.1,1117.0 306.7,1120.0 306.4,1123.0 306.1,1126.0 305.8,1129.0 305.6,1132.0 305.4,1135.0 305.3,1138.0 305.2,1141.0 305.1,1144.0 305.1,1147.0 305.2,1150.0 305.2,1153.0 305.4,1156.0 305.5,1159.0 305.7,1162.0 306.0,1165.0 306.2,1168.0 306.5,1171.0 306.9,1174.0 307.3,1177.0 307.7,1180.0 308.1,1183.0 308.6,1186.0 309.1,1189.0 309.6,1192.0 310.2,1195.0 310.7,1198.0 311.3,1201.0 311.8,1204.0 312.4,1207.0 313.0,1210.0 313.5,1213.0 314.1,1216.0 314.6,1219.0 315.1,1222.0 315.6,1225.0 316.1,1228.0 316.6,1231.0 317.1,1234.0 317.5,1237.0 317.9,1240.0 318.2,1243.0 318.5,1246.0 318.8,1249.0 319.1,1252.0 319.3,1255.0 319.4,1258.0 319.6,1261.0 319.7,1264.0 319.7,1267.0 319.7,1270.0 319.7,1273.0 319.6,1276.0 319.4,1279.0 319.3,1282.0 319.1,1285.0 318.8,1288.0 318.5,1291.0 318.2,1294.0 317.9,1297.0 317.5,1300.0 317.1,1303.0 316.6,1306.0 316.1,1309.0 315.6,1312.0 315.1,1315.0 314.7,1318.0 314.1,1321.0 313.6,1324.0 313.1,1327.0 312.6,1330.0 312.1,1333.0 311.5,1336.0 311.0,1339.0 310.5,1342.0 310.0,1345.0 309.5,1348.0 309.0,1351.0 308.6,1354.0 308.2,1357.0 307.8,1360.0 307.4,1363.0 307.0,1366.0 306.7,1369.0 306.5,1372.0 306.2,1375.0 306.0,1378.0 305.9,1381.0 305.9,1384.0 305.9,1387.0 306.0,1390.0 306.1,1393.0 306.2,1396.0 306.5,1399.0 306.7,1402.0 307.0,1405.0 307.3,1408.0 307.7,1411.0 308.1,1414.0 308.4,1417.0" fill="none" stroke="#de4a2c" stroke-width="1.6" opacity="0.60"/>
<polyline points="327.8,1081.0 328.3,1084.0 328.8,1087.0 329.3,1090.0 329.7,1093.0 330.2,1096.0 330.6,1099.0 331.1,1102.0 331.5,1105.0 331.9,1108.0 332.2,1111.0 332.5,1114.0 332.9,1117.0 333.2,1120.0 333.5,1123.0 333.7,1126.0 333.9,1129.0 334.1,1132.0 334.2,1135.0 334.3,1138.0 334.3,1141.0 334.3,1144.0 334.3,1147.0 334.2,1150.0 334.1,1153.0 333.9,1156.0 333.7,1159.0 333.4,1162.0 333.1,1165.0 332.8,1168.0 332.4,1171.0 332.0,1174.0 331.6,1177.0 331.2,1180.0 330.7,1183.0 330.2,1186.0 329.7,1189.0 329.2,1192.0 328.6,1195.0 328.1,1198.0 327.5,1201.0 327.0,1204.0 326.4,1207.0 325.8,1210.0 325.3,1213.0 324.7,1216.0 324.2,1219.0 323.7,1222.0 323.2,1225.0 322.7,1228.0 322.2,1231.0 321.7,1234.0 321.3,1237.0 320.9,1240.0 320.6,1243.0 320.3,1246.0 320.0,1249.0 319.7,1252.0 319.5,1255.0 319.4,1258.0 319.2,1261.0 319.1,1264.0 319.1,1267.0 319.1,1270.0 319.1,1273.0 319.2,1276.0 319.4,1279.0 319.5,1282.0 319.7,1285.0 320.0,1288.0 320.3,1291.0 320.6,1294.0 320.9,1297.0 321.3,1300.0 321.7,1303.0 322.2,1306.0 322.7,1309.0 323.2,1312.0 323.7,1315.0 324.2,1318.0 324.8,1321.0 325.3,1324.0 325.9,1327.0 326.5,1330.0 327.1,1333.0 327.7,1336.0 328.2,1339.0 328.8,1342.0 329.4,1345.0 329.9,1348.0 330.4,1351.0 330.9,1354.0 331.4,1357.0 331.9,1360.0 332.3,1363.0 332.7,1366.0 333.1,1369.0 333.4,1372.0 333.7,1375.0 333.9,1378.0 334.1,1381.0 334.4,1384.0 334.6,1387.0 334.7,1390.0 334.8,1393.0 334.9,1396.0 334.9,1399.0 334.8,1402.0 334.8,1405.0 334.7,1408.0 334.5,1411.0 334.3,1414.0 334.0,1417.0" fill="none" stroke="#de4a2c" stroke-width="1.6" opacity="0.70"/>
<polyline points="327.8,1081.0 327.2,1084.0 326.5,1087.0 325.9,1090.0 325.3,1093.0 324.7,1096.0 324.1,1099.0 323.5,1102.0 323.0,1105.0 322.4,1108.0 321.9,1111.0 321.5,1114.0 321.1,1117.0 320.7,1120.0 320.4,1123.0 320.1,1126.0 319.9,1129.0 319.7,1132.0 319.5,1135.0 319.4,1138.0 319.4,1141.0 319.3,1144.0 319.3,1147.0 319.4,1150.0 319.5,1153.0 319.6,1156.0 319.8,1159.0 320.0,1162.0 320.3,1165.0 320.6,1168.0 320.9,1171.0 321.2,1174.0 321.6,1177.0 322.0,1180.0 322.5,1183.0 323.0,1186.0 323.5,1189.0 324.0,1192.0 324.6,1195.0 325.1,1198.0 325.7,1201.0 326.2,1204.0 326.8,1207.0 327.4,1210.0 327.9,1213.0 328.5,1216.0 329.0,1219.0 329.5,1222.0 330.0,1225.0 330.5,1228.0 331.0,1231.0 331.5,1234.0 331.9,1237.0 332.3,1240.0 332.6,1243.0 332.9,1246.0 333.2,1249.0 333.5,1252.0 333.7,1255.0 333.8,1258.0 334.0,1261.0 334.1,1264.0 334.1,1267.0 334.1,1270.0 334.1,1273.0 334.0,1276.0 333.8,1279.0 333.7,1282.0 333.5,1285.0 333.2,1288.0 332.9,1291.0 332.6,1294.0 332.3,1297.0 331.9,1300.0 331.5,1303.0 331.0,1306.0 330.5,1309.0 330.0,1312.0 329.5,1315.0 329.0,1318.0 328.5,1321.0 328.0,1324.0 327.4,1327.0 326.9,1330.0 326.3,1333.0 325.8,1336.0 325.3,1339.0 324.7,1342.0 324.2,1345.0 323.7,1348.0 323.2,1351.0 322.7,1354.0 322.3,1357.0 321.9,1360.0 321.5,1363.0 321.1,1366.0 320.8,1369.0 320.5,1372.0 320.3,1375.0 320.0,1378.0 319.9,1381.0 319.8,1384.0 319.8,1387.0 319.8,1390.0 319.8,1393.0 319.9,1396.0 320.0,1399.0 320.2,1402.0 320.4,1405.0 320.6,1408.0 320.9,1411.0 321.3,1414.0 321.6,1417.0" fill="none" stroke="#de4a2c" stroke-width="1.6" opacity="0.70"/>
<polyline points="341.0,1081.0 341.6,1084.0 342.1,1087.0 342.7,1090.0 343.2,1093.0 343.8,1096.0 344.3,1099.0 344.8,1102.0 345.3,1105.0 345.7,1108.0 346.1,1111.0 346.5,1114.0 346.9,1117.0 347.2,1120.0 347.5,1123.0 347.8,1126.0 348.0,1129.0 348.2,1132.0 348.3,1135.0 348.4,1138.0 348.5,1141.0 348.5,1144.0 348.5,1147.0 348.4,1150.0 348.3,1153.0 348.1,1156.0 347.9,1159.0 347.7,1162.0 347.4,1165.0 347.1,1168.0 346.8,1171.0 346.4,1174.0 346.0,1177.0 345.6,1180.0 345.1,1183.0 344.6,1186.0 344.1,1189.0 343.6,1192.0 343.0,1195.0 342.5,1198.0 341.9,1201.0 341.4,1204.0 340.8,1207.0 340.2,1210.0 339.7,1213.0 339.1,1216.0 338.6,1219.0 338.1,1222.0 337.6,1225.0 337.1,1228.0 336.6,1231.0 336.1,1234.0 335.7,1237.0 335.3,1240.0 335.0,1243.0 334.7,1246.0 334.4,1249.0 334.1,1252.0 333.9,1255.0 333.8,1258.0 333.6,1261.0 333.5,1264.0 333.5,1267.0 333.5,1270.0 333.5,1273.0 333.6,1276.0 333.8,1279.0 333.9,1282.0 334.1,1285.0 334.4,1288.0 334.7,1291.0 335.0,1294.0 335.3,1297.0 335.7,1300.0 336.1,1303.0 336.6,1306.0 337.1,1309.0 337.6,1312.0 338.1,1315.0 338.6,1318.0 339.1,1321.0 339.7,1324.0 340.2,1327.0 340.8,1330.0 341.4,1333.0 341.9,1336.0 342.5,1339.0 343.0,1342.0 343.6,1345.0 344.1,1348.0 344.6,1351.0 345.1,1354.0 345.6,1357.0 346.0,1360.0 346.4,1363.0 346.8,1366.0 347.1,1369.0 347.4,1372.0 347.7,1375.0 347.9,1378.0 348.1,1381.0 348.3,1384.0 348.4,1387.0 348.5,1390.0 348.5,1393.0 348.5,1396.0 348.4,1399.0 348.3,1402.0 348.2,1405.0 348.0,1408.0 347.8,1411.0 347.5,1414.0 347.2,1417.0" fill="none" stroke="#de4a2c" stroke-width="1.6" opacity="0.80"/>
<polyline points="341.0,1081.0 340.4,1084.0 339.9,1087.0 339.3,1090.0 338.8,1093.0 338.2,1096.0 337.7,1099.0 337.2,1102.0 336.7,1105.0 336.3,1108.0 335.9,1111.0 335.5,1114.0 335.1,1117.0 334.8,1120.0 334.5,1123.0 334.2,1126.0 334.0,1129.0 333.8,1132.0 333.7,1135.0 333.6,1138.0 333.5,1141.0 333.5,1144.0 333.5,1147.0 333.6,1150.0 333.7,1153.0 333.9,1156.0 334.1,1159.0 334.3,1162.0 334.6,1165.0 334.9,1168.0 335.2,1171.0 335.6,1174.0 336.0,1177.0 336.4,1180.0 336.9,1183.0 337.4,1186.0 337.9,1189.0 338.4,1192.0 339.0,1195.0 339.5,1198.0 340.1,1201.0 340.6,1204.0 341.2,1207.0 341.8,1210.0 342.3,1213.0 342.9,1216.0 343.4,1219.0 343.9,1222.0 344.4,1225.0 344.9,1228.0 345.4,1231.0 345.9,1234.0 346.3,1237.0 346.7,1240.0 347.0,1243.0 347.3,1246.0 347.6,1249.0 347.9,1252.0 348.1,1255.0 348.2,1258.0 348.4,1261.0 348.5,1264.0 348.5,1267.0 348.5,1270.0 348.5,1273.0 348.4,1276.0 348.2,1279.0 348.1,1282.0 347.9,1285.0 347.6,1288.0 347.3,1291.0 347.0,1294.0 346.7,1297.0 346.3,1300.0 345.9,1303.0 345.4,1306.0 344.9,1309.0 344.4,1312.0 343.9,1315.0 343.4,1318.0 342.9,1321.0 342.3,1324.0 341.8,1327.0 341.2,1330.0 340.6,1333.0 340.1,1336.0 339.5,1339.0 339.0,1342.0 338.4,1345.0 337.9,1348.0 337.4,1351.0 336.9,1354.0 336.4,1357.0 336.0,1360.0 335.6,1363.0 335.2,1366.0 334.9,1369.0 334.6,1372.0 334.3,1375.0 334.1,1378.0 333.9,1381.0 333.7,1384.0 333.6,1387.0 333.5,1390.0 333.5,1393.0 333.5,1396.0 333.6,1399.0 333.7,1402.0 333.8,1405.0 334.0,1408.0 334.2,1411.0 334.5,1414.0 334.8,1417.0" fill="none" stroke="#de4a2c" stroke-width="1.6" opacity="0.80"/>
<polyline points="354.2,1081.0 354.8,1084.0 355.5,1087.0 356.1,1090.0 356.7,1093.0 357.3,1096.0 357.9,1099.0 358.5,1102.0 359.0,1105.0 359.6,1108.0 360.1,1111.0 360.5,1114.0 360.9,1117.0 361.3,1120.0 361.6,1123.0 361.9,1126.0 362.1,1129.0 362.3,1132.0 362.5,1135.0 362.6,1138.0 362.6,1141.0 362.7,1144.0 362.7,1147.0 362.6,1150.0 362.5,1153.0 362.4,1156.0 362.2,1159.0 362.0,1162.0 361.7,1165.0 361.4,1168.0 361.1,1171.0 360.8,1174.0 360.4,1177.0 360.0,1180.0 359.5,1183.0 359.0,1186.0 358.5,1189.0 358.0,1192.0 357.4,1195.0 356.9,1198.0 356.3,1201.0 355.8,1204.0 355.2,1207.0 354.6,1210.0 354.1,1213.0 353.5,1216.0 353.0,1219.0 352.5,1222.0 352.0,1225.0 351.5,1228.0 351.0,1231.0 350.5,1234.0 350.1,1237.0 349.7,1240.0 349.4,1243.0 349.1,1246.0 348.8,1249.0 348.5,1252.0 348.3,1255.0 348.2,1258.0 348.0,1261.0 347.9,1264.0 347.9,1267.0 347.9,1270.0 347.9,1273.0 348.0,1276.0 348.2,1279.0 348.3,1282.0 348.5,1285.0 348.8,1288.0 349.1,1291.0 349.4,1294.0 349.7,1297.0 350.1,1300.0 350.5,1303.0 351.0,1306.0 351.5,1309.0 352.0,1312.0 352.5,1315.0 353.0,1318.0 353.5,1321.0 354.0,1324.0 354.6,1327.0 355.1,1330.0 355.7,1333.0 356.2,1336.0 356.7,1339.0 357.3,1342.0 357.8,1345.0 358.3,1348.0 358.8,1351.0 359.3,1354.0 359.7,1357.0 360.1,1360.0 360.5,1363.0 360.9,1366.0 361.2,1369.0 361.5,1372.0 361.7,1375.0 362.0,1378.0 362.1,1381.0 362.2,1384.0 362.2,1387.0 362.2,1390.0 362.2,1393.0 362.1,1396.0 362.0,1399.0 361.8,1402.0 361.6,1405.0 361.4,1408.0 361.1,1411.0 360.7,1414.0 360.4,1417.0" fill="none" stroke="#de4a2c" stroke-width="1.6" opacity="0.85"/>
<polyline points="354.2,1081.0 353.7,1084.0 353.2,1087.0 352.7,1090.0 352.3,1093.0 351.8,1096.0 351.4,1099.0 350.9,1102.0 350.5,1105.0 350.1,1108.0 349.8,1111.0 349.5,1114.0 349.1,1117.0 348.8,1120.0 348.5,1123.0 348.3,1126.0 348.1,1129.0 347.9,1132.0 347.8,1135.0 347.7,1138.0 347.7,1141.0 347.7,1144.0 347.7,1147.0 347.8,1150.0 347.9,1153.0 348.1,1156.0 348.3,1159.0 348.6,1162.0 348.9,1165.0 349.2,1168.0 349.6,1171.0 350.0,1174.0 350.4,1177.0 350.8,1180.0 351.3,1183.0 351.8,1186.0 352.3,1189.0 352.8,1192.0 353.4,1195.0 353.9,1198.0 354.5,1201.0 355.0,1204.0 355.6,1207.0 356.2,1210.0 356.7,1213.0 357.3,1216.0 357.8,1219.0 358.3,1222.0 358.8,1225.0 359.3,1228.0 359.8,1231.0 360.3,1234.0 360.7,1237.0 361.1,1240.0 361.4,1243.0 361.7,1246.0 362.0,1249.0 362.3,1252.0 362.5,1255.0 362.6,1258.0 362.8,1261.0 362.9,1264.0 362.9,1267.0 362.9,1270.0 362.9,1273.0 362.8,1276.0 362.6,1279.0 362.5,1282.0 362.3,1285.0 362.0,1288.0 361.7,1291.0 361.4,1294.0 361.1,1297.0 360.7,1300.0 360.3,1303.0 359.8,1306.0 359.3,1309.0 358.8,1312.0 358.3,1315.0 357.8,1318.0 357.2,1321.0 356.7,1324.0 356.1,1327.0 355.5,1330.0 354.9,1333.0 354.3,1336.0 353.8,1339.0 353.2,1342.0 352.6,1345.0 352.1,1348.0 351.6,1351.0 351.1,1354.0 350.6,1357.0 350.1,1360.0 349.7,1363.0 349.3,1366.0 348.9,1369.0 348.6,1372.0 348.3,1375.0 348.1,1378.0 347.9,1381.0 347.6,1384.0 347.4,1387.0 347.3,1390.0 347.2,1393.0 347.1,1396.0 347.1,1399.0 347.2,1402.0 347.2,1405.0 347.3,1408.0 347.5,1411.0 347.7,1414.0 348.0,1417.0" fill="none" stroke="#de4a2c" stroke-width="1.6" opacity="0.85"/>
<polyline points="367.4,1081.0 368.1,1084.0 368.8,1087.0 369.5,1090.0 370.2,1093.0 370.9,1096.0 371.5,1099.0 372.2,1102.0 372.8,1105.0 373.4,1108.0 374.0,1111.0 374.5,1114.0 374.9,1117.0 375.3,1120.0 375.6,1123.0 375.9,1126.0 376.2,1129.0 376.4,1132.0 376.6,1135.0 376.7,1138.0 376.8,1141.0 376.9,1144.0 376.9,1147.0 376.8,1150.0 376.8,1153.0 376.6,1156.0 376.5,1159.0 376.3,1162.0 376.0,1165.0 375.8,1168.0 375.5,1171.0 375.1,1174.0 374.7,1177.0 374.3,1180.0 373.9,1183.0 373.4,1186.0 372.9,1189.0 372.4,1192.0 371.8,1195.0 371.3,1198.0 370.7,1201.0 370.2,1204.0 369.6,1207.0 369.0,1210.0 368.5,1213.0 367.9,1216.0 367.4,1219.0 366.9,1222.0 366.4,1225.0 365.9,1228.0 365.4,1231.0 364.9,1234.0 364.5,1237.0 364.1,1240.0 363.8,1243.0 363.5,1246.0 363.2,1249.0 362.9,1252.0 362.7,1255.0 362.6,1258.0 362.4,1261.0 362.3,1264.0 362.3,1267.0 362.3,1270.0 362.3,1273.0 362.4,1276.0 362.6,1279.0 362.7,1282.0 362.9,1285.0 363.2,1288.0 363.5,1291.0 363.8,1294.0 364.1,1297.0 364.5,1300.0 364.9,1303.0 365.4,1306.0 365.9,1309.0 366.4,1312.0 366.9,1315.0 367.3,1318.0 367.9,1321.0 368.4,1324.0 368.9,1327.0 369.4,1330.0 369.9,1333.0 370.5,1336.0 371.0,1339.0 371.5,1342.0 372.0,1345.0 372.5,1348.0 373.0,1351.0 373.4,1354.0 373.8,1357.0 374.2,1360.0 374.6,1363.0 375.0,1366.0 375.3,1369.0 375.5,1372.0 375.8,1375.0 376.0,1378.0 376.1,1381.0 376.1,1384.0 376.1,1387.0 376.0,1390.0 375.9,1393.0 375.8,1396.0 375.5,1399.0 375.3,1402.0 375.0,1405.0 374.7,1408.0 374.3,1411.0 373.9,1414.0 373.6,1417.0" fill="none" stroke="#de4a2c" stroke-width="1.6" opacity="0.85"/>
<polyline points="367.4,1081.0 367.0,1084.0 366.6,1087.0 366.2,1090.0 365.7,1093.0 365.4,1096.0 365.0,1099.0 364.6,1102.0 364.3,1105.0 364.0,1108.0 363.7,1111.0 363.5,1114.0 363.1,1117.0 362.8,1120.0 362.6,1123.0 362.4,1126.0 362.2,1129.0 362.0,1132.0 361.9,1135.0 361.9,1138.0 361.8,1141.0 361.9,1144.0 361.9,1147.0 362.0,1150.0 362.2,1153.0 362.4,1156.0 362.6,1159.0 362.9,1162.0 363.2,1165.0 363.5,1168.0 363.9,1171.0 364.3,1174.0 364.8,1177.0 365.2,1180.0 365.7,1183.0 366.2,1186.0 366.7,1189.0 367.2,1192.0 367.8,1195.0 368.3,1198.0 368.9,1201.0 369.4,1204.0 370.0,1207.0 370.6,1210.0 371.1,1213.0 371.7,1216.0 372.2,1219.0 372.7,1222.0 373.2,1225.0 373.7,1228.0 374.2,1231.0 374.7,1234.0 375.1,1237.0 375.5,1240.0 375.8,1243.0 376.1,1246.0 376.4,1249.0 376.7,1252.0 376.9,1255.0 377.0,1258.0 377.2,1261.0 377.3,1264.0 377.3,1267.0 377.3,1270.0 377.3,1273.0 377.2,1276.0 377.0,1279.0 376.9,1282.0 376.7,1285.0 376.4,1288.0 376.1,1291.0 375.8,1294.0 375.5,1297.0 375.1,1300.0 374.7,1303.0 374.2,1306.0 373.7,1309.0 373.2,1312.0 372.7,1315.0 372.2,1318.0 371.6,1321.0 371.0,1324.0 370.4,1327.0 369.8,1330.0 369.2,1333.0 368.6,1336.0 368.0,1339.0 367.4,1342.0 366.8,1345.0 366.3,1348.0 365.7,1351.0 365.2,1354.0 364.7,1357.0 364.3,1360.0 363.8,1363.0 363.4,1366.0 363.0,1369.0 362.7,1372.0 362.4,1375.0 362.1,1378.0 361.9,1381.0 361.6,1384.0 361.3,1387.0 361.1,1390.0 360.9,1393.0 360.8,1396.0 360.7,1399.0 360.6,1402.0 360.6,1405.0 360.7,1408.0 360.8,1411.0 360.9,1414.0 361.2,1417.0" fill="none" stroke="#de4a2c" stroke-width="1.6" opacity="0.85"/>
<polyline points="380.6,1081.0 381.4,1084.0 382.2,1087.0 382.9,1090.0 383.7,1093.0 384.4,1096.0 385.2,1099.0 385.9,1102.0 386.6,1105.0 387.3,1108.0 387.9,1111.0 388.5,1114.0 388.9,1117.0 389.3,1120.0 389.7,1123.0 390.0,1126.0 390.3,1129.0 390.5,1132.0 390.7,1135.0 390.9,1138.0 391.0,1141.0 391.0,1144.0 391.1,1147.0 391.0,1150.0 391.0,1153.0 390.9,1156.0 390.7,1159.0 390.6,1162.0 390.3,1165.0 390.1,1168.0 389.8,1171.0 389.5,1174.0 389.1,1177.0 388.7,1180.0 388.3,1183.0 387.8,1186.0 387.3,1189.0 386.8,1192.0 386.2,1195.0 385.7,1198.0 385.1,1201.0 384.6,1204.0 384.0,1207.0 383.4,1210.0 382.9,1213.0 382.3,1216.0 381.8,1219.0 381.3,1222.0 380.8,1225.0 380.3,1228.0 379.8,1231.0 379.3,1234.0 378.9,1237.0 378.5,1240.0 378.2,1243.0 377.9,1246.0 377.6,1249.0 377.3,1252.0 377.1,1255.0 377.0,1258.0 376.8,1261.0 376.7,1264.0 376.7,1267.0 376.7,1270.0 376.7,1273.0 376.8,1276.0 377.0,1279.0 377.1,1282.0 377.3,1285.0 377.6,1288.0 377.9,1291.0 378.2,1294.0 378.5,1297.0 378.9,1300.0 379.3,1303.0 379.8,1306.0 380.3,1309.0 380.8,1312.0 381.2,1315.0 381.7,1318.0 382.2,1321.0 382.7,1324.0 383.2,1327.0 383.7,1330.0 384.2,1333.0 384.7,1336.0 385.2,1339.0 385.7,1342.0 386.2,1345.0 386.7,1348.0 387.1,1351.0 387.6,1354.0 388.0,1357.0 388.4,1360.0 388.7,1363.0 389.0,1366.0 389.3,1369.0 389.6,1372.0 389.8,1375.0 390.0,1378.0 390.1,1381.0 390.0,1384.0 389.9,1387.0 389.8,1390.0 389.6,1393.0 389.4,1396.0 389.1,1399.0 388.8,1402.0 388.4,1405.0 388.0,1408.0 387.6,1411.0 387.1,1414.0 386.8,1417.0" fill="none" stroke="#de4a2c" stroke-width="1.6" opacity="0.85"/>
<polyline points="380.6,1081.0 380.3,1084.0 379.9,1087.0 379.6,1090.0 379.2,1093.0 378.9,1096.0 378.6,1099.0 378.3,1102.0 378.1,1105.0 377.8,1108.0 377.6,1111.0 377.4,1114.0 377.2,1117.0 376.9,1120.0 376.6,1123.0 376.4,1126.0 376.3,1129.0 376.1,1132.0 376.0,1135.0 376.0,1138.0 376.0,1141.0 376.0,1144.0 376.1,1147.0 376.2,1150.0 376.4,1153.0 376.6,1156.0 376.9,1159.0 377.2,1162.0 377.5,1165.0 377.8,1168.0 378.2,1171.0 378.7,1174.0 379.1,1177.0 379.6,1180.0 380.1,1183.0 380.6,1186.0 381.1,1189.0 381.6,1192.0 382.2,1195.0 382.7,1198.0 383.3,1201.0 383.8,1204.0 384.4,1207.0 385.0,1210.0 385.5,1213.0 386.1,1216.0 386.6,1219.0 387.1,1222.0 387.6,1225.0 388.1,1228.0 388.6,1231.0 389.1,1234.0 389.5,1237.0 389.9,1240.0 390.2,1243.0 390.5,1246.0 390.8,1249.0 391.1,1252.0 391.3,1255.0 391.4,1258.0 391.6,1261.0 391.7,1264.0 391.7,1267.0 391.7,1270.0 391.7,1273.0 391.6,1276.0 391.4,1279.0 391.3,1282.0 391.1,1285.0 390.8,1288.0 390.5,1291.0 390.2,1294.0 389.9,1297.0 389.5,1300.0 389.1,1303.0 388.6,1306.0 388.1,1309.0 387.6,1312.0 387.1,1315.0 386.5,1318.0 385.9,1321.0 385.3,1324.0 384.7,1327.0 384.1,1330.0 383.5,1333.0 382.9,1336.0 382.3,1339.0 381.7,1342.0 381.1,1345.0 380.5,1348.0 379.9,1351.0 379.4,1354.0 378.9,1357.0 378.4,1360.0 377.9,1363.0 377.5,1366.0 377.1,1369.0 376.7,1372.0 376.4,1375.0 376.1,1378.0 375.8,1381.0 375.5,1384.0 375.1,1387.0 374.9,1390.0 374.6,1393.0 374.4,1396.0 374.3,1399.0 374.1,1402.0 374.1,1405.0 374.0,1408.0 374.0,1411.0 374.1,1414.0 374.4,1417.0" fill="none" stroke="#de4a2c" stroke-width="1.6" opacity="0.85"/>
<polyline points="393.8,1081.0 394.7,1084.0 395.5,1087.0 396.3,1090.0 397.2,1093.0 398.0,1096.0 398.8,1099.0 399.6,1102.0 400.4,1105.0 401.1,1108.0 401.8,1111.0 402.5,1114.0 403.0,1117.0 403.4,1120.0 403.7,1123.0 404.1,1126.0 404.4,1129.0 404.6,1132.0 404.8,1135.0 405.0,1138.0 405.1,1141.0 405.2,1144.0 405.3,1147.0 405.3,1150.0 405.2,1153.0 405.1,1156.0 405.0,1159.0 404.8,1162.0 404.6,1165.0 404.4,1168.0 404.1,1171.0 403.8,1174.0 403.5,1177.0 403.1,1180.0 402.7,1183.0 402.2,1186.0 401.7,1189.0 401.2,1192.0 400.6,1195.0 400.1,1198.0 399.5,1201.0 399.0,1204.0 398.4,1207.0 397.8,1210.0 397.3,1213.0 396.7,1216.0 396.2,1219.0 395.7,1222.0 395.2,1225.0 394.7,1228.0 394.2,1231.0 393.7,1234.0 393.3,1237.0 392.9,1240.0 392.6,1243.0 392.3,1246.0 392.0,1249.0 391.7,1252.0 391.5,1255.0 391.4,1258.0 391.2,1261.0 391.1,1264.0 391.1,1267.0 391.1,1270.0 391.1,1273.0 391.2,1276.0 391.4,1279.0 391.5,1282.0 391.7,1285.0 392.0,1288.0 392.3,1291.0 392.6,1294.0 392.9,1297.0 393.3,1300.0 393.7,1303.0 394.2,1306.0 394.7,1309.0 395.2,1312.0 395.6,1315.0 396.1,1318.0 396.6,1321.0 397.0,1324.0 397.5,1327.0 398.0,1330.0 398.5,1333.0 399.0,1336.0 399.5,1339.0 400.0,1342.0 400.4,1345.0 400.9,1348.0 401.3,1351.0 401.7,1354.0 402.1,1357.0 402.5,1360.0 402.8,1363.0 403.1,1366.0 403.4,1369.0 403.6,1372.0 403.8,1375.0 404.0,1378.0 404.1,1381.0 404.0,1384.0 403.8,1387.0 403.6,1390.0 403.3,1393.0 403.0,1396.0 402.7,1399.0 402.3,1402.0 401.9,1405.0 401.4,1408.0 400.9,1411.0 400.3,1414.0 400.0,1417.0" fill="none" stroke="#de4a2c" stroke-width="1.6" opacity="0.85"/>
<polyline points="393.8,1081.0 393.5,1084.0 393.2,1087.0 393.0,1090.0 392.7,1093.0 392.5,1096.0 392.3,1099.0 392.0,1102.0 391.9,1105.0 391.7,1108.0 391.5,1111.0 391.4,1114.0 391.2,1117.0 390.9,1120.0 390.7,1123.0 390.5,1126.0 390.3,1129.0 390.2,1132.0 390.2,1135.0 390.1,1138.0 390.2,1141.0 390.2,1144.0 390.3,1147.0 390.5,1150.0 390.6,1153.0 390.9,1156.0 391.1,1159.0 391.4,1162.0 391.8,1165.0 392.2,1168.0 392.6,1171.0 393.0,1174.0 393.5,1177.0 394.0,1180.0 394.5,1183.0 395.0,1186.0 395.5,1189.0 396.0,1192.0 396.6,1195.0 397.1,1198.0 397.7,1201.0 398.2,1204.0 398.8,1207.0 399.4,1210.0 399.9,1213.0 400.5,1216.0 401.0,1219.0 401.5,1222.0 402.0,1225.0 402.5,1228.0 403.0,1231.0 403.5,1234.0 403.9,1237.0 404.3,1240.0 404.6,1243.0 404.9,1246.0 405.2,1249.0 405.5,1252.0 405.7,1255.0 405.8,1258.0 406.0,1261.0 406.1,1264.0 406.1,1267.0 406.1,1270.0 406.1,1273.0 406.0,1276.0 405.8,1279.0 405.7,1282.0 405.5,1285.0 405.2,1288.0 404.9,1291.0 404.6,1294.0 404.3,1297.0 403.9,1300.0 403.5,1303.0 403.0,1306.0 402.5,1309.0 402.0,1312.0 401.5,1315.0 400.9,1318.0 400.3,1321.0 399.7,1324.0 399.0,1327.0 398.4,1330.0 397.8,1333.0 397.1,1336.0 396.5,1339.0 395.9,1342.0 395.3,1345.0 394.7,1348.0 394.1,1351.0 393.5,1354.0 393.0,1357.0 392.5,1360.0 392.0,1363.0 391.6,1366.0 391.2,1369.0 390.8,1372.0 390.4,1375.0 390.1,1378.0 389.8,1381.0 389.4,1384.0 389.0,1387.0 388.6,1390.0 388.3,1393.0 388.0,1396.0 387.8,1399.0 387.6,1402.0 387.5,1405.0 387.4,1408.0 387.3,1411.0 387.3,1414.0 387.6,1417.0" fill="none" stroke="#de4a2c" stroke-width="1.6" opacity="0.85"/>
<polyline points="407.0,1081.0 407.9,1084.0 408.8,1087.0 409.8,1090.0 410.7,1093.0 411.6,1096.0 412.4,1099.0 413.3,1102.0 414.1,1105.0 415.0,1108.0 415.7,1111.0 416.5,1114.0 417.0,1117.0 417.4,1120.0 417.8,1123.0 418.1,1126.0 418.4,1129.0 418.7,1132.0 419.0,1135.0 419.1,1138.0 419.3,1141.0 419.4,1144.0 419.5,1147.0 419.5,1150.0 419.4,1153.0 419.4,1156.0 419.3,1159.0 419.1,1162.0 419.0,1165.0 418.7,1168.0 418.5,1171.0 418.2,1174.0 417.9,1177.0 417.5,1180.0 417.1,1183.0 416.6,1186.0 416.1,1189.0 415.6,1192.0 415.0,1195.0 414.5,1198.0 413.9,1201.0 413.4,1204.0 412.8,1207.0 412.2,1210.0 411.7,1213.0 411.1,1216.0 410.6,1219.0 410.1,1222.0 409.6,1225.0 409.1,1228.0 408.6,1231.0 408.1,1234.0 407.7,1237.0 407.3,1240.0 407.0,1243.0 406.7,1246.0 406.4,1249.0 406.1,1252.0 405.9,1255.0 405.8,1258.0 405.6,1261.0 405.5,1264.0 405.5,1267.0 405.5,1270.0 405.5,1273.0 405.6,1276.0 405.8,1279.0 405.9,1282.0 406.1,1285.0 406.4,1288.0 406.7,1291.0 407.0,1294.0 407.3,1297.0 407.7,1300.0 408.1,1303.0 408.6,1306.0 409.1,1309.0 409.6,1312.0 410.0,1315.0 410.5,1318.0 410.9,1321.0 411.4,1324.0 411.9,1327.0 412.3,1330.0 412.8,1333.0 413.3,1336.0 413.8,1339.0 414.2,1342.0 414.7,1345.0 415.1,1348.0 415.5,1351.0 415.9,1354.0 416.3,1357.0 416.6,1360.0 416.9,1363.0 417.2,1366.0 417.5,1369.0 417.7,1372.0 417.9,1375.0 418.0,1378.0 418.1,1381.0 417.9,1384.0 417.6,1387.0 417.4,1390.0 417.0,1393.0 416.6,1396.0 416.2,1399.0 415.8,1402.0 415.3,1405.0 414.7,1408.0 414.1,1411.0 413.5,1414.0 413.2,1417.0" fill="none" stroke="#de4a2c" stroke-width="1.6" opacity="0.85"/>
<polyline points="407.0,1081.0 406.8,1084.0 406.6,1087.0 406.4,1090.0 406.2,1093.0 406.0,1096.0 405.9,1099.0 405.7,1102.0 405.6,1105.0 405.5,1108.0 405.5,1111.0 405.4,1114.0 405.2,1117.0 404.9,1120.0 404.7,1123.0 404.6,1126.0 404.4,1129.0 404.3,1132.0 404.3,1135.0 404.3,1138.0 404.3,1141.0 404.4,1144.0 404.5,1147.0 404.7,1150.0 404.9,1153.0 405.1,1156.0 405.4,1159.0 405.7,1162.0 406.1,1165.0 406.5,1168.0 406.9,1171.0 407.4,1174.0 407.9,1177.0 408.4,1180.0 408.9,1183.0 409.4,1186.0 409.9,1189.0 410.4,1192.0 411.0,1195.0 411.5,1198.0 412.1,1201.0 412.6,1204.0 413.2,1207.0 413.8,1210.0 414.3,1213.0 414.9,1216.0 415.4,1219.0 415.9,1222.0 416.4,1225.0 416.9,1228.0 417.4,1231.0 417.9,1234.0 418.3,1237.0 418.7,1240.0 419.0,1243.0 419.3,1246.0 419.6,1249.0 419.9,1252.0 420.1,1255.0 420.2,1258.0 420.4,1261.0 420.5,1264.0 420.5,1267.0 420.5,1270.0 420.5,1273.0 420.4,1276.0 420.2,1279.0 420.1,1282.0 419.9,1285.0 419.6,1288.0 419.3,1291.0 419.0,1294.0 418.7,1297.0 418.3,1300.0 417.9,1303.0 417.4,1306.0 416.9,1309.0 416.4,1312.0 415.9,1315.0 415.3,1318.0 414.7,1321.0 414.0,1324.0 413.4,1327.0 412.7,1330.0 412.1,1333.0 411.4,1336.0 410.8,1339.0 410.1,1342.0 409.5,1345.0 408.9,1348.0 408.3,1351.0 407.7,1354.0 407.2,1357.0 406.6,1360.0 406.1,1363.0 405.7,1366.0 405.2,1369.0 404.8,1372.0 404.5,1375.0 404.1,1378.0 403.8,1381.0 403.3,1384.0 402.8,1387.0 402.4,1390.0 402.0,1393.0 401.7,1396.0 401.4,1399.0 401.1,1402.0 400.9,1405.0 400.7,1408.0 400.6,1411.0 400.5,1414.0 400.8,1417.0" fill="none" stroke="#de4a2c" stroke-width="1.6" opacity="0.85"/>
</g>
<rect x="49" y="1083.7" width="584.5" height="333" fill="none" stroke="#767676" stroke-width="2"/>
<circle cx="330.5" cy="1102.5" r="17.0" fill="url(#gb)"/>
<circle cx="349.0" cy="1105.0" r="16.0" fill="url(#go)"/>
<circle cx="285.0" cy="1158.0" r="12.0" fill="url(#go)"/>
<circle cx="323.0" cy="1160.0" r="19.3" fill="url(#gb)"/>
<circle cx="397.0" cy="1163.0" r="16.7" fill="url(#go)"/>
<circle cx="321.0" cy="1198.0" r="11.7" fill="url(#go)"/>
<circle cx="377.0" cy="1214.0" r="18.7" fill="url(#gb)"/>
<circle cx="349.0" cy="1222.0" r="16.0" fill="url(#go)"/>
<circle cx="285.0" cy="1244.0" r="12.0" fill="url(#go)"/>
<circle cx="327.0" cy="1280.0" r="11.7" fill="url(#go)"/>
<circle cx="355.0" cy="1280.0" r="19.3" fill="url(#gb)"/>
<circle cx="403.0" cy="1271.0" r="17.0" fill="url(#go)"/>
<circle cx="315.0" cy="1330.0" r="11.5" fill="url(#go)"/>
<circle cx="388.0" cy="1337.0" r="16.7" fill="url(#go)"/>
<circle cx="287.0" cy="1371.0" r="11.5" fill="url(#go)"/>
<circle cx="330.0" cy="1376.0" r="19.3" fill="url(#gb)"/>
<circle cx="350.0" cy="1395.0" r="16.7" fill="url(#go)"/>
<circle cx="222.0" cy="1199.0" r="11.0" fill="url(#go)"/>
<circle cx="251.0" cy="1258.0" r="10.0" fill="url(#go)"/>
<circle cx="222.0" cy="1322.0" r="7.5" fill="url(#go)"/>
<text x="116" y="1255" font-family="Liberation Sans" font-size="22" fill="#3b5867" textLength="81" lengthAdjust="spacingAndGlyphs">fresh air</text>
<text x="500.5" y="1252" font-family="Liberation Sans" font-size="22" fill="#4c5459" textLength="81.5" lengthAdjust="spacingAndGlyphs">Dirty air</text>
<g clip-path="url(#clipR)">
<polygon points="776,1127 1045,1127 1045,1387 776,1387 703,1257" fill="#64dffc"/>
<rect x="1044" y="1127" width="363" height="260" fill="url(#fadeR)"/>
<polyline points="795.0,1081.0 794.3,1084.0 793.6,1087.0 792.9,1090.0 792.1,1093.0 791.3,1096.0 790.4,1099.0 789.4,1102.0 788.5,1105.0 788.1,1108.0 787.6,1111.0 787.0,1114.0 786.3,1117.0 785.6,1120.0 784.8,1123.0 783.9,1126.0 783.5,1129.0 783.2,1132.0 783.0,1135.0 782.7,1138.0 782.5,1141.0 782.4,1144.0 782.3,1147.0 782.3,1150.0 782.4,1153.0 782.6,1156.0 782.8,1159.0 783.2,1162.0 783.6,1165.0 784.1,1168.0 784.7,1171.0 785.4,1174.0 786.1,1177.0 786.8,1180.0 787.5,1183.0 788.2,1186.0 788.9,1189.0 789.5,1192.0 790.1,1195.0 790.6,1198.0 791.0,1201.0 791.3,1204.0 791.6,1207.0 791.7,1210.0 791.8,1213.0 791.7,1216.0 791.6,1219.0 791.5,1222.0 791.3,1225.0 791.0,1228.0 790.8,1231.0 790.5,1234.0 790.3,1237.0 790.0,1240.0 789.9,1243.0 789.8,1246.0 789.5,1249.0 789.1,1252.0 788.8,1255.0 788.6,1258.0 788.5,1261.0 788.5,1264.0 788.5,1267.0 788.7,1270.0 788.8,1273.0 789.1,1276.0 789.3,1279.0 789.6,1282.0 789.8,1285.0 790.1,1288.0 790.3,1291.0 790.4,1294.0 790.5,1297.0 790.5,1300.0 790.4,1303.0 790.2,1306.0 789.9,1309.0 789.6,1312.0 789.1,1315.0 788.6,1318.0 788.0,1321.0 787.4,1324.0 786.7,1327.0 786.0,1330.0 785.3,1333.0 784.6,1336.0 783.9,1339.0 783.3,1342.0 782.7,1345.0 782.2,1348.0 781.8,1351.0 781.5,1354.0 781.2,1357.0 781.1,1360.0 781.0,1363.0 781.0,1366.0 781.3,1369.0 782.1,1372.0 783.0,1375.0 783.8,1378.0 784.7,1381.0 785.6,1384.0 786.5,1387.0 787.3,1390.0 788.7,1393.0 790.2,1396.0 791.6,1399.0 792.9,1402.0 794.1,1405.0 795.3,1408.0 796.3,1411.0 797.3,1414.0" fill="none" stroke="#e05a3a" stroke-width="1.0" opacity="0.55"/>
<polyline points="795.0,1081.0 793.4,1084.0 791.7,1087.0 790.1,1090.0 788.6,1093.0 787.1,1096.0 785.7,1099.0 784.4,1102.0 783.3,1105.0 782.9,1108.0 782.6,1111.0 782.4,1114.0 782.3,1117.0 782.3,1120.0 782.3,1123.0 782.3,1126.0 782.8,1129.0 783.5,1132.0 784.2,1135.0 784.9,1138.0 785.6,1141.0 786.2,1144.0 786.7,1147.0 787.1,1150.0 787.5,1153.0 787.8,1156.0 787.9,1159.0 788.0,1162.0 788.0,1165.0 787.9,1168.0 787.8,1171.0 787.6,1174.0 787.4,1177.0 787.1,1180.0 786.8,1183.0 786.6,1186.0 786.4,1189.0 786.2,1192.0 786.1,1195.0 786.0,1198.0 786.0,1201.0 786.2,1204.0 786.4,1207.0 786.7,1210.0 787.1,1213.0 787.5,1216.0 788.1,1219.0 788.7,1222.0 789.4,1225.0 790.0,1228.0 790.8,1231.0 791.5,1234.0 792.2,1237.0 792.8,1240.0 793.4,1243.0 794.0,1246.0 794.2,1249.0 794.2,1252.0 794.0,1255.0 793.8,1258.0 793.5,1261.0 793.0,1264.0 792.5,1267.0 792.0,1270.0 791.3,1273.0 790.7,1276.0 790.0,1279.0 789.2,1282.0 788.5,1285.0 787.9,1288.0 787.2,1291.0 786.6,1294.0 786.1,1297.0 785.6,1300.0 785.3,1303.0 785.0,1306.0 784.8,1309.0 784.7,1312.0 784.7,1315.0 784.8,1318.0 785.0,1321.0 785.2,1324.0 785.4,1327.0 785.7,1330.0 785.9,1333.0 786.2,1336.0 786.4,1339.0 786.6,1342.0 786.7,1345.0 786.8,1348.0 786.7,1351.0 786.6,1354.0 786.4,1357.0 786.1,1360.0 785.7,1363.0 785.3,1366.0 784.9,1369.0 784.9,1372.0 784.9,1375.0 784.8,1378.0 784.7,1381.0 784.6,1384.0 784.6,1387.0 784.5,1390.0 785.1,1393.0 785.9,1396.0 786.9,1399.0 787.8,1402.0 788.9,1405.0 790.1,1408.0 791.4,1411.0 792.7,1414.0" fill="none" stroke="#e05a3a" stroke-width="1.0" opacity="0.55"/>
<polyline points="802.7,1081.0 802.2,1084.0 801.7,1087.0 801.1,1090.0 800.5,1093.0 799.9,1096.0 799.1,1099.0 798.3,1102.0 797.5,1105.0 797.2,1108.0 796.7,1111.0 796.2,1114.0 795.6,1117.0 794.9,1120.0 794.1,1123.0 793.3,1126.0 792.9,1129.0 792.6,1132.0 792.3,1135.0 792.0,1138.0 791.8,1141.0 791.6,1144.0 791.5,1147.0 791.5,1150.0 791.5,1153.0 791.7,1156.0 791.9,1159.0 792.2,1162.0 792.7,1165.0 793.1,1168.0 793.7,1171.0 794.3,1174.0 795.0,1177.0 795.6,1180.0 796.3,1183.0 797.0,1186.0 797.6,1189.0 798.2,1192.0 798.8,1195.0 799.2,1198.0 799.6,1201.0 799.9,1204.0 800.1,1207.0 800.2,1210.0 800.3,1213.0 800.2,1216.0 800.1,1219.0 799.9,1222.0 799.7,1225.0 799.4,1228.0 799.1,1231.0 798.8,1234.0 798.5,1237.0 798.3,1240.0 798.1,1243.0 797.9,1246.0 797.7,1249.0 797.3,1252.0 797.1,1255.0 796.9,1258.0 796.8,1261.0 796.8,1264.0 796.9,1267.0 797.0,1270.0 797.2,1273.0 797.5,1276.0 797.8,1279.0 798.1,1282.0 798.4,1285.0 798.6,1288.0 798.9,1291.0 799.0,1294.0 799.2,1297.0 799.2,1300.0 799.1,1303.0 799.0,1306.0 798.7,1309.0 798.4,1312.0 798.0,1315.0 797.5,1318.0 796.9,1321.0 796.3,1324.0 795.7,1327.0 795.0,1330.0 794.3,1333.0 793.7,1336.0 793.0,1339.0 792.4,1342.0 791.9,1345.0 791.4,1348.0 791.0,1351.0 790.7,1354.0 790.5,1357.0 790.4,1360.0 790.4,1363.0 790.5,1366.0 790.8,1369.0 791.5,1372.0 792.3,1375.0 793.1,1378.0 793.9,1381.0 794.7,1384.0 795.5,1387.0 796.3,1390.0 797.5,1393.0 798.9,1396.0 800.1,1399.0 801.3,1402.0 802.3,1405.0 803.3,1408.0 804.2,1411.0 805.0,1414.0" fill="none" stroke="#e05a3a" stroke-width="1.0" opacity="0.55"/>
<polyline points="802.7,1081.0 801.2,1084.0 799.8,1087.0 798.3,1090.0 797.0,1093.0 795.6,1096.0 794.4,1099.0 793.2,1102.0 792.3,1105.0 792.0,1108.0 791.8,1111.0 791.6,1114.0 791.6,1117.0 791.6,1120.0 791.6,1123.0 791.7,1126.0 792.2,1129.0 792.9,1132.0 793.6,1135.0 794.2,1138.0 794.8,1141.0 795.4,1144.0 795.9,1147.0 796.3,1150.0 796.6,1153.0 796.9,1156.0 797.0,1159.0 797.1,1162.0 797.0,1165.0 796.9,1168.0 796.8,1171.0 796.5,1174.0 796.3,1177.0 796.0,1180.0 795.7,1183.0 795.4,1186.0 795.1,1189.0 794.9,1192.0 794.8,1195.0 794.7,1198.0 794.7,1201.0 794.8,1204.0 794.9,1207.0 795.2,1210.0 795.6,1213.0 796.0,1216.0 796.5,1219.0 797.1,1222.0 797.7,1225.0 798.4,1228.0 799.1,1231.0 799.8,1234.0 800.4,1237.0 801.1,1240.0 801.6,1243.0 802.1,1246.0 802.4,1249.0 802.4,1252.0 802.3,1255.0 802.0,1258.0 801.7,1261.0 801.4,1264.0 800.9,1267.0 800.4,1270.0 799.8,1273.0 799.1,1276.0 798.4,1279.0 797.8,1282.0 797.1,1285.0 796.4,1288.0 795.8,1291.0 795.3,1294.0 794.8,1297.0 794.3,1300.0 794.0,1303.0 793.8,1306.0 793.6,1309.0 793.6,1312.0 793.6,1315.0 793.7,1318.0 793.9,1321.0 794.1,1324.0 794.4,1327.0 794.7,1330.0 795.0,1333.0 795.3,1336.0 795.5,1339.0 795.7,1342.0 795.9,1345.0 796.0,1348.0 796.0,1351.0 795.9,1354.0 795.7,1357.0 795.5,1360.0 795.1,1363.0 794.7,1366.0 794.3,1369.0 794.3,1372.0 794.2,1375.0 794.0,1378.0 793.9,1381.0 793.8,1384.0 793.6,1387.0 793.5,1390.0 794.0,1393.0 794.7,1396.0 795.4,1399.0 796.2,1402.0 797.1,1405.0 798.1,1408.0 799.2,1411.0 800.4,1414.0" fill="none" stroke="#e05a3a" stroke-width="1.0" opacity="0.55"/>
<polyline points="810.4,1081.0 810.1,1084.0 809.7,1087.0 809.3,1090.0 808.9,1093.0 808.4,1096.0 807.8,1099.0 807.2,1102.0 806.5,1105.0 806.2,1108.0 805.8,1111.0 805.4,1114.0 804.8,1117.0 804.2,1120.0 803.5,1123.0 802.8,1126.0 802.3,1129.0 802.0,1132.0 801.6,1135.0 801.3,1138.0 801.1,1141.0 800.9,1144.0 800.7,1147.0 800.7,1150.0 800.7,1153.0 800.8,1156.0 801.0,1159.0 801.3,1162.0 801.7,1165.0 802.1,1168.0 802.7,1171.0 803.2,1174.0 803.9,1177.0 804.5,1180.0 805.2,1183.0 805.8,1186.0 806.4,1189.0 807.0,1192.0 807.5,1195.0 807.9,1198.0 808.3,1201.0 808.5,1204.0 808.7,1207.0 808.8,1210.0 808.8,1213.0 808.7,1216.0 808.5,1219.0 808.3,1222.0 808.0,1225.0 807.7,1228.0 807.4,1231.0 807.1,1234.0 806.8,1237.0 806.5,1240.0 806.3,1243.0 806.1,1246.0 805.9,1249.0 805.5,1252.0 805.3,1255.0 805.1,1258.0 805.1,1261.0 805.1,1264.0 805.2,1267.0 805.4,1270.0 805.7,1273.0 806.0,1276.0 806.3,1279.0 806.6,1282.0 806.9,1285.0 807.2,1288.0 807.5,1291.0 807.7,1294.0 807.8,1297.0 807.9,1300.0 807.9,1303.0 807.7,1306.0 807.5,1309.0 807.2,1312.0 806.9,1315.0 806.4,1318.0 805.9,1321.0 805.3,1324.0 804.7,1327.0 804.0,1330.0 803.4,1333.0 802.8,1336.0 802.1,1339.0 801.6,1342.0 801.1,1345.0 800.6,1348.0 800.3,1351.0 800.0,1354.0 799.8,1357.0 799.8,1360.0 799.8,1363.0 799.9,1366.0 800.2,1369.0 800.8,1372.0 801.6,1375.0 802.3,1378.0 803.1,1381.0 803.9,1384.0 804.6,1387.0 805.3,1390.0 806.4,1393.0 807.6,1396.0 808.6,1399.0 809.6,1402.0 810.5,1405.0 811.4,1408.0 812.1,1411.0 812.7,1414.0" fill="none" stroke="#e05a3a" stroke-width="1.0" opacity="0.55"/>
<polyline points="810.4,1081.0 809.1,1084.0 807.8,1087.0 806.6,1090.0 805.3,1093.0 804.2,1096.0 803.1,1099.0 802.1,1102.0 801.3,1105.0 801.1,1108.0 800.9,1111.0 800.8,1114.0 800.8,1117.0 800.9,1120.0 801.0,1123.0 801.1,1126.0 801.6,1129.0 802.3,1132.0 802.9,1135.0 803.5,1138.0 804.1,1141.0 804.7,1144.0 805.1,1147.0 805.5,1150.0 805.8,1153.0 806.0,1156.0 806.1,1159.0 806.1,1162.0 806.1,1165.0 805.9,1168.0 805.7,1171.0 805.5,1174.0 805.2,1177.0 804.8,1180.0 804.5,1183.0 804.2,1186.0 803.9,1189.0 803.7,1192.0 803.5,1195.0 803.4,1198.0 803.3,1201.0 803.4,1204.0 803.5,1207.0 803.8,1210.0 804.1,1213.0 804.5,1216.0 805.0,1219.0 805.5,1222.0 806.1,1225.0 806.8,1228.0 807.4,1231.0 808.0,1234.0 808.7,1237.0 809.3,1240.0 809.8,1243.0 810.3,1246.0 810.6,1249.0 810.6,1252.0 810.5,1255.0 810.3,1258.0 810.0,1261.0 809.7,1264.0 809.2,1267.0 808.7,1270.0 808.2,1273.0 807.6,1276.0 806.9,1279.0 806.3,1282.0 805.6,1285.0 805.0,1288.0 804.4,1291.0 803.9,1294.0 803.4,1297.0 803.1,1300.0 802.8,1303.0 802.5,1306.0 802.4,1309.0 802.4,1312.0 802.5,1315.0 802.6,1318.0 802.8,1321.0 803.1,1324.0 803.4,1327.0 803.7,1330.0 804.0,1333.0 804.4,1336.0 804.6,1339.0 804.9,1342.0 805.1,1345.0 805.2,1348.0 805.2,1351.0 805.2,1354.0 805.0,1357.0 804.8,1360.0 804.5,1363.0 804.1,1366.0 803.7,1369.0 803.6,1372.0 803.5,1375.0 803.3,1378.0 803.1,1381.0 802.9,1384.0 802.7,1387.0 802.5,1390.0 802.9,1393.0 803.4,1396.0 803.9,1399.0 804.6,1402.0 805.4,1405.0 806.2,1408.0 807.1,1411.0 808.2,1414.0" fill="none" stroke="#e05a3a" stroke-width="1.0" opacity="0.55"/>
<polyline points="818.1,1081.0 818.0,1084.0 817.8,1087.0 817.6,1090.0 817.3,1093.0 816.9,1096.0 816.5,1099.0 816.0,1102.0 815.5,1105.0 815.3,1108.0 815.0,1111.0 814.5,1114.0 814.0,1117.0 813.5,1120.0 812.8,1123.0 812.2,1126.0 811.7,1129.0 811.3,1132.0 811.0,1135.0 810.6,1138.0 810.4,1141.0 810.1,1144.0 809.9,1147.0 809.8,1150.0 809.8,1153.0 809.9,1156.0 810.1,1159.0 810.4,1162.0 810.7,1165.0 811.1,1168.0 811.6,1171.0 812.2,1174.0 812.8,1177.0 813.4,1180.0 814.0,1183.0 814.6,1186.0 815.2,1189.0 815.7,1192.0 816.2,1195.0 816.6,1198.0 816.9,1201.0 817.1,1204.0 817.3,1207.0 817.3,1210.0 817.3,1213.0 817.2,1216.0 817.0,1219.0 816.7,1222.0 816.4,1225.0 816.1,1228.0 815.7,1231.0 815.4,1234.0 815.0,1237.0 814.7,1240.0 814.5,1243.0 814.3,1246.0 814.0,1249.0 813.7,1252.0 813.5,1255.0 813.4,1258.0 813.4,1261.0 813.4,1264.0 813.6,1267.0 813.8,1270.0 814.1,1273.0 814.4,1276.0 814.8,1279.0 815.1,1282.0 815.5,1285.0 815.8,1288.0 816.1,1291.0 816.3,1294.0 816.5,1297.0 816.6,1300.0 816.6,1303.0 816.5,1306.0 816.3,1309.0 816.1,1312.0 815.7,1315.0 815.3,1318.0 814.8,1321.0 814.3,1324.0 813.7,1327.0 813.1,1330.0 812.4,1333.0 811.8,1336.0 811.3,1339.0 810.7,1342.0 810.3,1345.0 809.9,1348.0 809.5,1351.0 809.3,1354.0 809.2,1357.0 809.1,1360.0 809.1,1363.0 809.3,1366.0 809.6,1369.0 810.2,1372.0 810.9,1375.0 811.6,1378.0 812.3,1381.0 813.0,1384.0 813.7,1387.0 814.3,1390.0 815.3,1393.0 816.3,1396.0 817.2,1399.0 818.0,1402.0 818.8,1405.0 819.4,1408.0 820.0,1411.0 820.4,1414.0" fill="none" stroke="#e05a3a" stroke-width="1.0" opacity="0.55"/>
<polyline points="818.1,1081.0 817.0,1084.0 815.9,1087.0 814.8,1090.0 813.7,1093.0 812.7,1096.0 811.8,1099.0 811.0,1102.0 810.4,1105.0 810.1,1108.0 810.0,1111.0 810.0,1114.0 810.0,1117.0 810.2,1120.0 810.3,1123.0 810.6,1126.0 811.0,1129.0 811.7,1132.0 812.3,1135.0 812.9,1138.0 813.4,1141.0 813.9,1144.0 814.3,1147.0 814.7,1150.0 814.9,1153.0 815.1,1156.0 815.2,1159.0 815.2,1162.0 815.1,1165.0 814.9,1168.0 814.7,1171.0 814.4,1174.0 814.1,1177.0 813.7,1180.0 813.3,1183.0 813.0,1186.0 812.7,1189.0 812.4,1192.0 812.2,1195.0 812.0,1198.0 812.0,1201.0 812.0,1204.0 812.1,1207.0 812.3,1210.0 812.6,1213.0 813.0,1216.0 813.4,1219.0 813.9,1222.0 814.5,1225.0 815.1,1228.0 815.7,1231.0 816.3,1234.0 816.9,1237.0 817.5,1240.0 818.0,1243.0 818.5,1246.0 818.7,1249.0 818.8,1252.0 818.7,1255.0 818.6,1258.0 818.3,1261.0 818.0,1264.0 817.6,1267.0 817.1,1270.0 816.6,1273.0 816.0,1276.0 815.4,1279.0 814.8,1282.0 814.2,1285.0 813.6,1288.0 813.0,1291.0 812.5,1294.0 812.1,1297.0 811.8,1300.0 811.5,1303.0 811.3,1306.0 811.2,1309.0 811.2,1312.0 811.3,1315.0 811.5,1318.0 811.8,1321.0 812.0,1324.0 812.4,1327.0 812.7,1330.0 813.1,1333.0 813.4,1336.0 813.8,1339.0 814.0,1342.0 814.3,1345.0 814.4,1348.0 814.5,1351.0 814.5,1354.0 814.3,1357.0 814.1,1360.0 813.9,1363.0 813.5,1366.0 813.1,1369.0 813.0,1372.0 812.8,1375.0 812.5,1378.0 812.3,1381.0 812.0,1384.0 811.8,1387.0 811.6,1390.0 811.7,1393.0 812.1,1396.0 812.5,1399.0 813.0,1402.0 813.6,1405.0 814.2,1408.0 815.0,1411.0 815.9,1414.0" fill="none" stroke="#e05a3a" stroke-width="1.0" opacity="0.55"/>
<polyline points="825.9,1081.0 825.8,1084.0 825.8,1087.0 825.8,1090.0 825.7,1093.0 825.5,1096.0 825.2,1099.0 824.9,1102.0 824.6,1105.0 824.4,1108.0 824.1,1111.0 823.7,1114.0 823.3,1117.0 822.8,1120.0 822.2,1123.0 821.6,1126.0 821.1,1129.0 820.7,1132.0 820.3,1135.0 820.0,1138.0 819.6,1141.0 819.4,1144.0 819.2,1147.0 819.0,1150.0 819.0,1153.0 819.0,1156.0 819.2,1159.0 819.4,1162.0 819.7,1165.0 820.1,1168.0 820.6,1171.0 821.1,1174.0 821.7,1177.0 822.2,1180.0 822.8,1183.0 823.4,1186.0 823.9,1189.0 824.4,1192.0 824.9,1195.0 825.3,1198.0 825.5,1201.0 825.8,1204.0 825.9,1207.0 825.9,1210.0 825.8,1213.0 825.7,1216.0 825.4,1219.0 825.1,1222.0 824.8,1225.0 824.4,1228.0 824.0,1231.0 823.6,1234.0 823.3,1237.0 822.9,1240.0 822.6,1243.0 822.4,1246.0 822.2,1249.0 821.9,1252.0 821.7,1255.0 821.7,1258.0 821.7,1261.0 821.8,1264.0 821.9,1267.0 822.2,1270.0 822.5,1273.0 822.9,1276.0 823.2,1279.0 823.6,1282.0 824.0,1285.0 824.4,1288.0 824.7,1291.0 825.0,1294.0 825.2,1297.0 825.3,1300.0 825.3,1303.0 825.3,1306.0 825.1,1309.0 824.9,1312.0 824.6,1315.0 824.2,1318.0 823.7,1321.0 823.2,1324.0 822.7,1327.0 822.1,1330.0 821.5,1333.0 820.9,1336.0 820.4,1339.0 819.9,1342.0 819.4,1345.0 819.1,1348.0 818.8,1351.0 818.6,1354.0 818.5,1357.0 818.5,1360.0 818.5,1363.0 818.7,1366.0 819.0,1369.0 819.5,1372.0 820.2,1375.0 820.8,1378.0 821.4,1381.0 822.1,1384.0 822.7,1387.0 823.4,1390.0 824.2,1393.0 825.0,1396.0 825.7,1399.0 826.4,1402.0 827.0,1405.0 827.4,1408.0 827.8,1411.0 828.1,1414.0" fill="none" stroke="#e05a3a" stroke-width="1.0" opacity="0.55"/>
<polyline points="825.9,1081.0 824.9,1084.0 823.9,1087.0 823.0,1090.0 822.1,1093.0 821.3,1096.0 820.5,1099.0 819.9,1102.0 819.4,1105.0 819.2,1108.0 819.1,1111.0 819.2,1114.0 819.3,1117.0 819.5,1120.0 819.7,1123.0 820.0,1126.0 820.5,1129.0 821.0,1132.0 821.6,1135.0 822.2,1138.0 822.7,1141.0 823.2,1144.0 823.5,1147.0 823.9,1150.0 824.1,1153.0 824.2,1156.0 824.3,1159.0 824.2,1162.0 824.1,1165.0 823.9,1168.0 823.6,1171.0 823.3,1174.0 823.0,1177.0 822.6,1180.0 822.2,1183.0 821.8,1186.0 821.4,1189.0 821.1,1192.0 820.9,1195.0 820.7,1198.0 820.6,1201.0 820.6,1204.0 820.7,1207.0 820.8,1210.0 821.1,1213.0 821.5,1216.0 821.9,1219.0 822.4,1222.0 822.9,1225.0 823.5,1228.0 824.0,1231.0 824.6,1234.0 825.2,1237.0 825.7,1240.0 826.2,1243.0 826.6,1246.0 826.9,1249.0 826.9,1252.0 826.9,1255.0 826.8,1258.0 826.6,1261.0 826.3,1264.0 825.9,1267.0 825.5,1270.0 825.0,1273.0 824.5,1276.0 823.9,1279.0 823.3,1282.0 822.7,1285.0 822.2,1288.0 821.6,1291.0 821.2,1294.0 820.8,1297.0 820.5,1300.0 820.2,1303.0 820.1,1306.0 820.0,1309.0 820.1,1312.0 820.2,1315.0 820.4,1318.0 820.7,1321.0 821.0,1324.0 821.4,1327.0 821.8,1330.0 822.2,1333.0 822.5,1336.0 822.9,1339.0 823.2,1342.0 823.4,1345.0 823.6,1348.0 823.7,1351.0 823.7,1354.0 823.7,1357.0 823.5,1360.0 823.2,1363.0 822.9,1366.0 822.5,1369.0 822.3,1372.0 822.1,1375.0 821.8,1378.0 821.4,1381.0 821.1,1384.0 820.8,1387.0 820.6,1390.0 820.6,1393.0 820.8,1396.0 821.0,1399.0 821.4,1402.0 821.8,1405.0 822.3,1408.0 822.9,1411.0 823.6,1414.0" fill="none" stroke="#e05a3a" stroke-width="1.0" opacity="0.55"/>
<polyline points="833.6,1081.0 833.7,1084.0 833.9,1087.0 834.0,1090.0 834.0,1093.0 834.0,1096.0 833.9,1099.0 833.8,1102.0 833.6,1105.0 833.4,1108.0 833.2,1111.0 832.9,1114.0 832.5,1117.0 832.1,1120.0 831.5,1123.0 831.0,1126.0 830.5,1129.0 830.1,1132.0 829.7,1135.0 829.3,1138.0 828.9,1141.0 828.6,1144.0 828.4,1147.0 828.2,1150.0 828.1,1153.0 828.2,1156.0 828.3,1159.0 828.5,1162.0 828.8,1165.0 829.1,1168.0 829.5,1171.0 830.0,1174.0 830.6,1177.0 831.1,1180.0 831.7,1183.0 832.2,1186.0 832.7,1189.0 833.2,1192.0 833.6,1195.0 833.9,1198.0 834.2,1201.0 834.4,1204.0 834.4,1207.0 834.4,1210.0 834.3,1213.0 834.1,1216.0 833.9,1219.0 833.6,1222.0 833.2,1225.0 832.8,1228.0 832.4,1231.0 831.9,1234.0 831.5,1237.0 831.2,1240.0 830.8,1243.0 830.6,1246.0 830.3,1249.0 830.1,1252.0 830.0,1255.0 829.9,1258.0 830.0,1261.0 830.1,1264.0 830.3,1267.0 830.6,1270.0 830.9,1273.0 831.3,1276.0 831.7,1279.0 832.1,1282.0 832.6,1285.0 833.0,1288.0 833.3,1291.0 833.6,1294.0 833.8,1297.0 834.0,1300.0 834.1,1303.0 834.1,1306.0 833.9,1309.0 833.7,1312.0 833.5,1315.0 833.1,1318.0 832.7,1321.0 832.2,1324.0 831.7,1327.0 831.1,1330.0 830.6,1333.0 830.0,1336.0 829.5,1339.0 829.0,1342.0 828.6,1345.0 828.3,1348.0 828.0,1351.0 827.9,1354.0 827.8,1357.0 827.8,1360.0 827.9,1363.0 828.1,1366.0 828.4,1369.0 828.9,1372.0 829.4,1375.0 830.0,1378.0 830.6,1381.0 831.2,1384.0 831.8,1387.0 832.4,1390.0 833.0,1393.0 833.7,1396.0 834.3,1399.0 834.8,1402.0 835.2,1405.0 835.5,1408.0 835.7,1411.0 835.8,1414.0" fill="none" stroke="#e05a3a" stroke-width="1.0" opacity="0.55"/>
<polyline points="833.6,1081.0 832.8,1084.0 832.0,1087.0 831.2,1090.0 830.5,1093.0 829.8,1096.0 829.2,1099.0 828.7,1102.0 828.4,1105.0 828.3,1108.0 828.3,1111.0 828.4,1114.0 828.5,1117.0 828.7,1120.0 829.0,1123.0 829.4,1126.0 829.9,1129.0 830.4,1132.0 831.0,1135.0 831.5,1138.0 832.0,1141.0 832.4,1144.0 832.8,1147.0 833.0,1150.0 833.2,1153.0 833.4,1156.0 833.4,1159.0 833.3,1162.0 833.1,1165.0 832.9,1168.0 832.6,1171.0 832.2,1174.0 831.8,1177.0 831.4,1180.0 831.0,1183.0 830.6,1186.0 830.2,1189.0 829.9,1192.0 829.6,1195.0 829.4,1198.0 829.2,1201.0 829.2,1204.0 829.3,1207.0 829.4,1210.0 829.6,1213.0 829.9,1216.0 830.3,1219.0 830.8,1222.0 831.3,1225.0 831.8,1228.0 832.4,1231.0 832.9,1234.0 833.4,1237.0 833.9,1240.0 834.4,1243.0 834.8,1246.0 835.0,1249.0 835.1,1252.0 835.1,1255.0 835.1,1258.0 834.9,1261.0 834.6,1264.0 834.3,1267.0 833.9,1270.0 833.4,1273.0 832.9,1276.0 832.4,1279.0 831.8,1282.0 831.3,1285.0 830.7,1288.0 830.3,1291.0 829.8,1294.0 829.5,1297.0 829.2,1300.0 829.0,1303.0 828.9,1306.0 828.8,1309.0 828.9,1312.0 829.1,1315.0 829.3,1318.0 829.6,1321.0 830.0,1324.0 830.4,1327.0 830.8,1330.0 831.2,1333.0 831.6,1336.0 832.0,1339.0 832.4,1342.0 832.6,1345.0 832.8,1348.0 833.0,1351.0 833.0,1354.0 833.0,1357.0 832.8,1360.0 832.6,1363.0 832.3,1366.0 832.0,1369.0 831.7,1372.0 831.4,1375.0 831.0,1378.0 830.6,1381.0 830.3,1384.0 829.9,1387.0 829.6,1390.0 829.5,1393.0 829.5,1396.0 829.6,1399.0 829.7,1402.0 830.0,1405.0 830.3,1408.0 830.8,1411.0 831.3,1414.0" fill="none" stroke="#e05a3a" stroke-width="1.0" opacity="0.55"/>
<polyline points="841.3,1081.0 841.6,1084.0 841.9,1087.0 842.2,1090.0 842.4,1093.0 842.6,1096.0 842.6,1099.0 842.6,1102.0 842.6,1105.0 842.5,1108.0 842.3,1111.0 842.1,1114.0 841.8,1117.0 841.4,1120.0 840.9,1123.0 840.4,1126.0 839.9,1129.0 839.5,1132.0 839.0,1135.0 838.6,1138.0 838.2,1141.0 837.9,1144.0 837.6,1147.0 837.4,1150.0 837.3,1153.0 837.3,1156.0 837.4,1159.0 837.5,1162.0 837.8,1165.0 838.1,1168.0 838.5,1171.0 839.0,1174.0 839.5,1177.0 840.0,1180.0 840.5,1183.0 841.0,1186.0 841.5,1189.0 841.9,1192.0 842.3,1195.0 842.6,1198.0 842.8,1201.0 843.0,1204.0 843.0,1207.0 843.0,1210.0 842.8,1213.0 842.6,1216.0 842.3,1219.0 842.0,1222.0 841.6,1225.0 841.1,1228.0 840.7,1231.0 840.2,1234.0 839.8,1237.0 839.4,1240.0 839.0,1243.0 838.7,1246.0 838.5,1249.0 838.3,1252.0 838.2,1255.0 838.2,1258.0 838.2,1261.0 838.4,1264.0 838.6,1267.0 839.0,1270.0 839.3,1273.0 839.7,1276.0 840.2,1279.0 840.7,1282.0 841.1,1285.0 841.5,1288.0 841.9,1291.0 842.3,1294.0 842.5,1297.0 842.7,1300.0 842.8,1303.0 842.8,1306.0 842.8,1309.0 842.6,1312.0 842.3,1315.0 842.0,1318.0 841.6,1321.0 841.1,1324.0 840.7,1327.0 840.1,1330.0 839.6,1333.0 839.1,1336.0 838.6,1339.0 838.2,1342.0 837.8,1345.0 837.5,1348.0 837.3,1351.0 837.1,1354.0 837.1,1357.0 837.1,1360.0 837.3,1363.0 837.5,1366.0 837.8,1369.0 838.3,1372.0 838.7,1375.0 839.3,1378.0 839.8,1381.0 840.4,1384.0 840.9,1387.0 841.4,1390.0 841.9,1393.0 842.4,1396.0 842.8,1399.0 843.1,1402.0 843.4,1405.0 843.5,1408.0 843.6,1411.0 843.6,1414.0" fill="none" stroke="#e05a3a" stroke-width="1.0" opacity="0.55"/>
<polyline points="841.3,1081.0 840.6,1084.0 840.0,1087.0 839.4,1090.0 838.8,1093.0 838.4,1096.0 837.9,1099.0 837.6,1102.0 837.4,1105.0 837.4,1108.0 837.4,1111.0 837.5,1114.0 837.8,1117.0 838.0,1120.0 838.4,1123.0 838.8,1126.0 839.3,1129.0 839.8,1132.0 840.3,1135.0 840.8,1138.0 841.2,1141.0 841.6,1144.0 842.0,1147.0 842.2,1150.0 842.4,1153.0 842.5,1156.0 842.5,1159.0 842.4,1162.0 842.2,1165.0 841.9,1168.0 841.6,1171.0 841.2,1174.0 840.7,1177.0 840.3,1180.0 839.8,1183.0 839.4,1186.0 839.0,1189.0 838.6,1192.0 838.3,1195.0 838.0,1198.0 837.9,1201.0 837.8,1204.0 837.8,1207.0 837.9,1210.0 838.1,1213.0 838.4,1216.0 838.8,1219.0 839.2,1222.0 839.7,1225.0 840.2,1228.0 840.7,1231.0 841.2,1234.0 841.7,1237.0 842.2,1240.0 842.6,1243.0 842.9,1246.0 843.2,1249.0 843.3,1252.0 843.4,1255.0 843.3,1258.0 843.2,1261.0 843.0,1264.0 842.7,1267.0 842.3,1270.0 841.8,1273.0 841.4,1276.0 840.8,1279.0 840.3,1282.0 839.8,1285.0 839.3,1288.0 838.9,1291.0 838.5,1294.0 838.1,1297.0 837.9,1300.0 837.7,1303.0 837.6,1306.0 837.6,1309.0 837.7,1312.0 837.9,1315.0 838.2,1318.0 838.5,1321.0 838.9,1324.0 839.4,1327.0 839.8,1330.0 840.3,1333.0 840.7,1336.0 841.1,1339.0 841.5,1342.0 841.8,1345.0 842.1,1348.0 842.2,1351.0 842.3,1354.0 842.3,1357.0 842.2,1360.0 842.0,1363.0 841.7,1366.0 841.4,1369.0 841.0,1372.0 840.7,1375.0 840.2,1378.0 839.8,1381.0 839.4,1384.0 839.0,1387.0 838.6,1390.0 838.3,1393.0 838.2,1396.0 838.1,1399.0 838.1,1402.0 838.2,1405.0 838.4,1408.0 838.6,1411.0 839.0,1414.0" fill="none" stroke="#e05a3a" stroke-width="1.0" opacity="0.55"/>
<polyline points="849.0,1081.0 849.5,1084.0 850.0,1087.0 850.4,1090.0 850.8,1093.0 851.1,1096.0 851.4,1099.0 851.5,1102.0 851.6,1105.0 851.6,1108.0 851.5,1111.0 851.3,1114.0 851.0,1117.0 850.7,1120.0 850.3,1123.0 849.8,1126.0 849.3,1129.0 848.8,1132.0 848.4,1135.0 847.9,1138.0 847.5,1141.0 847.1,1144.0 846.8,1147.0 846.6,1150.0 846.4,1153.0 846.4,1156.0 846.4,1159.0 846.6,1162.0 846.8,1165.0 847.1,1168.0 847.5,1171.0 847.9,1174.0 848.4,1177.0 848.8,1180.0 849.3,1183.0 849.8,1186.0 850.3,1189.0 850.7,1192.0 851.0,1195.0 851.3,1198.0 851.5,1201.0 851.6,1204.0 851.6,1207.0 851.5,1210.0 851.4,1213.0 851.1,1216.0 850.8,1219.0 850.4,1222.0 850.0,1225.0 849.5,1228.0 849.0,1231.0 848.5,1234.0 848.0,1237.0 847.6,1240.0 847.2,1243.0 846.9,1246.0 846.6,1249.0 846.5,1252.0 846.4,1255.0 846.4,1258.0 846.5,1261.0 846.7,1264.0 847.0,1267.0 847.3,1270.0 847.7,1273.0 848.2,1276.0 848.7,1279.0 849.2,1282.0 849.6,1285.0 850.1,1288.0 850.5,1291.0 850.9,1294.0 851.2,1297.0 851.4,1300.0 851.6,1303.0 851.6,1306.0 851.6,1309.0 851.4,1312.0 851.2,1315.0 850.9,1318.0 850.5,1321.0 850.1,1324.0 849.6,1327.0 849.2,1330.0 848.7,1333.0 848.2,1336.0 847.7,1339.0 847.3,1342.0 847.0,1345.0 846.7,1348.0 846.5,1351.0 846.4,1354.0 846.4,1357.0 846.5,1360.0 846.6,1363.0 846.9,1366.0 847.2,1369.0 847.6,1372.0 848.0,1375.0 848.5,1378.0 849.0,1381.0 849.5,1384.0 850.0,1387.0 850.4,1390.0 850.8,1393.0 851.1,1396.0 851.4,1399.0 851.5,1402.0 851.6,1405.0 851.6,1408.0 851.5,1411.0 851.3,1414.0" fill="none" stroke="#e05a3a" stroke-width="1.0" opacity="0.55"/>
<polyline points="849.0,1081.0 848.5,1084.0 848.0,1087.0 847.6,1090.0 847.2,1093.0 846.9,1096.0 846.6,1099.0 846.5,1102.0 846.4,1105.0 846.4,1108.0 846.5,1111.0 846.7,1114.0 847.0,1117.0 847.3,1120.0 847.7,1123.0 848.2,1126.0 848.7,1129.0 849.2,1132.0 849.6,1135.0 850.1,1138.0 850.5,1141.0 850.9,1144.0 851.2,1147.0 851.4,1150.0 851.6,1153.0 851.6,1156.0 851.6,1159.0 851.4,1162.0 851.2,1165.0 850.9,1168.0 850.5,1171.0 850.1,1174.0 849.6,1177.0 849.2,1180.0 848.7,1183.0 848.2,1186.0 847.7,1189.0 847.3,1192.0 847.0,1195.0 846.7,1198.0 846.5,1201.0 846.4,1204.0 846.4,1207.0 846.5,1210.0 846.6,1213.0 846.9,1216.0 847.2,1219.0 847.6,1222.0 848.0,1225.0 848.5,1228.0 849.0,1231.0 849.5,1234.0 850.0,1237.0 850.4,1240.0 850.8,1243.0 851.1,1246.0 851.4,1249.0 851.5,1252.0 851.6,1255.0 851.6,1258.0 851.5,1261.0 851.3,1264.0 851.0,1267.0 850.7,1270.0 850.3,1273.0 849.8,1276.0 849.3,1279.0 848.8,1282.0 848.4,1285.0 847.9,1288.0 847.5,1291.0 847.1,1294.0 846.8,1297.0 846.6,1300.0 846.4,1303.0 846.4,1306.0 846.4,1309.0 846.6,1312.0 846.8,1315.0 847.1,1318.0 847.5,1321.0 847.9,1324.0 848.4,1327.0 848.8,1330.0 849.3,1333.0 849.8,1336.0 850.3,1339.0 850.7,1342.0 851.0,1345.0 851.3,1348.0 851.5,1351.0 851.6,1354.0 851.6,1357.0 851.5,1360.0 851.4,1363.0 851.1,1366.0 850.8,1369.0 850.4,1372.0 850.0,1375.0 849.5,1378.0 849.0,1381.0 848.5,1384.0 848.0,1387.0 847.6,1390.0 847.2,1393.0 846.9,1396.0 846.6,1399.0 846.5,1402.0 846.4,1405.0 846.4,1408.0 846.5,1411.0 846.7,1414.0" fill="none" stroke="#e05a3a" stroke-width="1.0" opacity="0.55"/>
<polyline points="856.7,1081.0 857.4,1084.0 858.0,1087.0 858.6,1090.0 859.2,1093.0 859.6,1096.0 860.1,1099.0 860.4,1102.0 860.6,1105.0 860.6,1108.0 860.6,1111.0 860.5,1114.0 860.2,1117.0 860.0,1120.0 859.6,1123.0 859.2,1126.0 858.7,1129.0 858.2,1132.0 857.7,1135.0 857.2,1138.0 856.8,1141.0 856.4,1144.0 856.0,1147.0 855.8,1150.0 855.6,1153.0 855.5,1156.0 855.5,1159.0 855.6,1162.0 855.8,1165.0 856.1,1168.0 856.4,1171.0 856.8,1174.0 857.3,1177.0 857.7,1180.0 858.2,1183.0 858.6,1186.0 859.0,1189.0 859.4,1192.0 859.7,1195.0 860.0,1198.0 860.1,1201.0 860.2,1204.0 860.2,1207.0 860.1,1210.0 859.9,1213.0 859.6,1216.0 859.2,1219.0 858.8,1222.0 858.3,1225.0 857.8,1228.0 857.3,1231.0 856.8,1234.0 856.3,1237.0 855.8,1240.0 855.4,1243.0 855.1,1246.0 854.8,1249.0 854.7,1252.0 854.6,1255.0 854.7,1258.0 854.8,1261.0 855.0,1264.0 855.3,1267.0 855.7,1270.0 856.2,1273.0 856.6,1276.0 857.2,1279.0 857.7,1282.0 858.2,1285.0 858.7,1288.0 859.1,1291.0 859.5,1294.0 859.9,1297.0 860.1,1300.0 860.3,1303.0 860.4,1306.0 860.4,1309.0 860.3,1312.0 860.1,1315.0 859.8,1318.0 859.5,1321.0 859.1,1324.0 858.6,1327.0 858.2,1330.0 857.7,1333.0 857.3,1336.0 856.9,1339.0 856.5,1342.0 856.2,1345.0 855.9,1348.0 855.8,1351.0 855.7,1354.0 855.7,1357.0 855.8,1360.0 856.0,1363.0 856.3,1366.0 856.6,1369.0 857.0,1372.0 857.3,1375.0 857.8,1378.0 858.2,1381.0 858.6,1384.0 859.0,1387.0 859.4,1390.0 859.7,1393.0 859.8,1396.0 859.9,1399.0 859.9,1402.0 859.8,1405.0 859.6,1408.0 859.4,1411.0 859.0,1414.0" fill="none" stroke="#e05a3a" stroke-width="1.0" opacity="0.55"/>
<polyline points="856.7,1081.0 856.4,1084.0 856.1,1087.0 855.8,1090.0 855.6,1093.0 855.4,1096.0 855.4,1099.0 855.4,1102.0 855.4,1105.0 855.5,1108.0 855.7,1111.0 855.9,1114.0 856.2,1117.0 856.6,1120.0 857.1,1123.0 857.6,1126.0 858.1,1129.0 858.5,1132.0 859.0,1135.0 859.4,1138.0 859.8,1141.0 860.1,1144.0 860.4,1147.0 860.6,1150.0 860.7,1153.0 860.7,1156.0 860.6,1159.0 860.5,1162.0 860.2,1165.0 859.9,1168.0 859.5,1171.0 859.0,1174.0 858.5,1177.0 858.0,1180.0 857.5,1183.0 857.0,1186.0 856.5,1189.0 856.1,1192.0 855.7,1195.0 855.4,1198.0 855.2,1201.0 855.0,1204.0 855.0,1207.0 855.0,1210.0 855.2,1213.0 855.4,1216.0 855.7,1219.0 856.0,1222.0 856.4,1225.0 856.9,1228.0 857.3,1231.0 857.8,1234.0 858.2,1237.0 858.6,1240.0 859.0,1243.0 859.3,1246.0 859.5,1249.0 859.7,1252.0 859.8,1255.0 859.8,1258.0 859.8,1261.0 859.6,1264.0 859.4,1267.0 859.0,1270.0 858.7,1273.0 858.3,1276.0 857.8,1279.0 857.3,1282.0 856.9,1285.0 856.5,1288.0 856.1,1291.0 855.7,1294.0 855.5,1297.0 855.3,1300.0 855.2,1303.0 855.2,1306.0 855.2,1309.0 855.4,1312.0 855.7,1315.0 856.0,1318.0 856.4,1321.0 856.9,1324.0 857.3,1327.0 857.9,1330.0 858.4,1333.0 858.9,1336.0 859.4,1339.0 859.8,1342.0 860.2,1345.0 860.5,1348.0 860.7,1351.0 860.9,1354.0 860.9,1357.0 860.9,1360.0 860.7,1363.0 860.5,1366.0 860.2,1369.0 859.7,1372.0 859.3,1375.0 858.7,1378.0 858.2,1381.0 857.6,1384.0 857.1,1387.0 856.6,1390.0 856.1,1393.0 855.6,1396.0 855.2,1399.0 854.9,1402.0 854.6,1405.0 854.5,1408.0 854.4,1411.0 854.4,1414.0" fill="none" stroke="#e05a3a" stroke-width="1.0" opacity="0.55"/>
<polyline points="864.4,1081.0 865.2,1084.0 866.0,1087.0 866.8,1090.0 867.5,1093.0 868.2,1096.0 868.8,1099.0 869.3,1102.0 869.6,1105.0 869.7,1108.0 869.7,1111.0 869.6,1114.0 869.5,1117.0 869.3,1120.0 869.0,1123.0 868.6,1126.0 868.1,1129.0 867.6,1132.0 867.0,1135.0 866.5,1138.0 866.0,1141.0 865.6,1144.0 865.2,1147.0 865.0,1150.0 864.8,1153.0 864.6,1156.0 864.6,1159.0 864.7,1162.0 864.9,1165.0 865.1,1168.0 865.4,1171.0 865.8,1174.0 866.2,1177.0 866.6,1180.0 867.0,1183.0 867.4,1186.0 867.8,1189.0 868.1,1192.0 868.4,1195.0 868.6,1198.0 868.8,1201.0 868.8,1204.0 868.7,1207.0 868.6,1210.0 868.4,1213.0 868.1,1216.0 867.7,1219.0 867.2,1222.0 866.7,1225.0 866.2,1228.0 865.6,1231.0 865.1,1234.0 864.6,1237.0 864.1,1240.0 863.6,1243.0 863.2,1246.0 863.0,1249.0 862.9,1252.0 862.9,1255.0 862.9,1258.0 863.1,1261.0 863.4,1264.0 863.7,1267.0 864.1,1270.0 864.6,1273.0 865.1,1276.0 865.6,1279.0 866.2,1282.0 866.7,1285.0 867.3,1288.0 867.7,1291.0 868.2,1294.0 868.5,1297.0 868.8,1300.0 869.0,1303.0 869.1,1306.0 869.2,1309.0 869.1,1312.0 868.9,1315.0 868.7,1318.0 868.4,1321.0 868.0,1324.0 867.6,1327.0 867.2,1330.0 866.8,1333.0 866.4,1336.0 866.0,1339.0 865.6,1342.0 865.4,1345.0 865.2,1348.0 865.0,1351.0 865.0,1354.0 865.0,1357.0 865.2,1360.0 865.4,1363.0 865.7,1366.0 866.0,1369.0 866.3,1372.0 866.6,1375.0 867.0,1378.0 867.4,1381.0 867.7,1384.0 868.1,1387.0 868.4,1390.0 868.5,1393.0 868.5,1396.0 868.4,1399.0 868.3,1402.0 868.0,1405.0 867.7,1408.0 867.2,1411.0 866.7,1414.0" fill="none" stroke="#e05a3a" stroke-width="1.0" opacity="0.55"/>
<polyline points="864.4,1081.0 864.3,1084.0 864.1,1087.0 864.0,1090.0 864.0,1093.0 864.0,1096.0 864.1,1099.0 864.2,1102.0 864.4,1105.0 864.6,1108.0 864.8,1111.0 865.1,1114.0 865.5,1117.0 865.9,1120.0 866.5,1123.0 867.0,1126.0 867.5,1129.0 867.9,1132.0 868.3,1135.0 868.7,1138.0 869.1,1141.0 869.4,1144.0 869.6,1147.0 869.8,1150.0 869.9,1153.0 869.8,1156.0 869.7,1159.0 869.5,1162.0 869.2,1165.0 868.9,1168.0 868.5,1171.0 868.0,1174.0 867.4,1177.0 866.9,1180.0 866.3,1183.0 865.8,1186.0 865.3,1189.0 864.8,1192.0 864.4,1195.0 864.1,1198.0 863.8,1201.0 863.6,1204.0 863.6,1207.0 863.6,1210.0 863.7,1213.0 863.9,1216.0 864.1,1219.0 864.4,1222.0 864.8,1225.0 865.2,1228.0 865.6,1231.0 866.1,1234.0 866.5,1237.0 866.8,1240.0 867.2,1243.0 867.4,1246.0 867.7,1249.0 867.9,1252.0 868.0,1255.0 868.1,1258.0 868.0,1261.0 867.9,1264.0 867.7,1267.0 867.4,1270.0 867.1,1273.0 866.7,1276.0 866.3,1279.0 865.9,1282.0 865.4,1285.0 865.0,1288.0 864.7,1291.0 864.4,1294.0 864.2,1297.0 864.0,1300.0 863.9,1303.0 863.9,1306.0 864.1,1309.0 864.3,1312.0 864.5,1315.0 864.9,1318.0 865.3,1321.0 865.8,1324.0 866.3,1327.0 866.9,1330.0 867.4,1333.0 868.0,1336.0 868.5,1339.0 869.0,1342.0 869.4,1345.0 869.7,1348.0 870.0,1351.0 870.1,1354.0 870.2,1357.0 870.2,1360.0 870.1,1363.0 869.9,1366.0 869.6,1369.0 869.1,1372.0 868.6,1375.0 868.0,1378.0 867.4,1381.0 866.8,1384.0 866.2,1387.0 865.6,1390.0 865.0,1393.0 864.3,1396.0 863.7,1399.0 863.2,1402.0 862.8,1405.0 862.5,1408.0 862.3,1411.0 862.2,1414.0" fill="none" stroke="#e05a3a" stroke-width="1.0" opacity="0.55"/>
<polyline points="872.1,1081.0 873.1,1084.0 874.1,1087.0 875.0,1090.0 875.9,1093.0 876.7,1096.0 877.5,1099.0 878.1,1102.0 878.6,1105.0 878.8,1108.0 878.9,1111.0 878.8,1114.0 878.7,1117.0 878.5,1120.0 878.3,1123.0 878.0,1126.0 877.5,1129.0 877.0,1132.0 876.4,1135.0 875.8,1138.0 875.3,1141.0 874.8,1144.0 874.5,1147.0 874.1,1150.0 873.9,1153.0 873.8,1156.0 873.7,1159.0 873.8,1162.0 873.9,1165.0 874.1,1168.0 874.4,1171.0 874.7,1174.0 875.0,1177.0 875.4,1180.0 875.8,1183.0 876.2,1186.0 876.6,1189.0 876.9,1192.0 877.1,1195.0 877.3,1198.0 877.4,1201.0 877.4,1204.0 877.3,1207.0 877.2,1210.0 876.9,1213.0 876.5,1216.0 876.1,1219.0 875.6,1222.0 875.1,1225.0 874.5,1228.0 874.0,1231.0 873.4,1234.0 872.8,1237.0 872.3,1240.0 871.8,1243.0 871.4,1246.0 871.1,1249.0 871.1,1252.0 871.1,1255.0 871.2,1258.0 871.4,1261.0 871.7,1264.0 872.1,1267.0 872.5,1270.0 873.0,1273.0 873.5,1276.0 874.1,1279.0 874.7,1282.0 875.3,1285.0 875.8,1288.0 876.4,1291.0 876.8,1294.0 877.2,1297.0 877.5,1300.0 877.8,1303.0 877.9,1306.0 878.0,1309.0 877.9,1312.0 877.8,1315.0 877.6,1318.0 877.3,1321.0 877.0,1324.0 876.6,1327.0 876.2,1330.0 875.8,1333.0 875.5,1336.0 875.1,1339.0 874.8,1342.0 874.6,1345.0 874.4,1348.0 874.3,1351.0 874.3,1354.0 874.3,1357.0 874.5,1360.0 874.8,1363.0 875.1,1366.0 875.5,1369.0 875.7,1372.0 875.9,1375.0 876.2,1378.0 876.6,1381.0 876.9,1384.0 877.2,1387.0 877.4,1390.0 877.4,1393.0 877.2,1396.0 877.0,1399.0 876.6,1402.0 876.2,1405.0 875.7,1408.0 875.1,1411.0 874.4,1414.0" fill="none" stroke="#e05a3a" stroke-width="1.0" opacity="0.55"/>
<polyline points="872.1,1081.0 872.2,1084.0 872.2,1087.0 872.2,1090.0 872.3,1093.0 872.5,1096.0 872.8,1099.0 873.1,1102.0 873.4,1105.0 873.6,1108.0 873.9,1111.0 874.3,1114.0 874.7,1117.0 875.2,1120.0 875.8,1123.0 876.4,1126.0 876.9,1129.0 877.3,1132.0 877.7,1135.0 878.0,1138.0 878.4,1141.0 878.6,1144.0 878.8,1147.0 879.0,1150.0 879.0,1153.0 879.0,1156.0 878.8,1159.0 878.6,1162.0 878.3,1165.0 877.9,1168.0 877.4,1171.0 876.9,1174.0 876.3,1177.0 875.8,1180.0 875.2,1183.0 874.6,1186.0 874.1,1189.0 873.6,1192.0 873.1,1195.0 872.7,1198.0 872.5,1201.0 872.2,1204.0 872.1,1207.0 872.1,1210.0 872.2,1213.0 872.3,1216.0 872.6,1219.0 872.9,1222.0 873.2,1225.0 873.6,1228.0 874.0,1231.0 874.4,1234.0 874.7,1237.0 875.1,1240.0 875.4,1243.0 875.6,1246.0 875.8,1249.0 876.1,1252.0 876.3,1255.0 876.3,1258.0 876.3,1261.0 876.2,1264.0 876.1,1267.0 875.8,1270.0 875.5,1273.0 875.1,1276.0 874.8,1279.0 874.4,1282.0 874.0,1285.0 873.6,1288.0 873.3,1291.0 873.0,1294.0 872.8,1297.0 872.7,1300.0 872.7,1303.0 872.7,1306.0 872.9,1309.0 873.1,1312.0 873.4,1315.0 873.8,1318.0 874.3,1321.0 874.8,1324.0 875.3,1327.0 875.9,1330.0 876.5,1333.0 877.1,1336.0 877.6,1339.0 878.1,1342.0 878.6,1345.0 878.9,1348.0 879.2,1351.0 879.4,1354.0 879.5,1357.0 879.5,1360.0 879.5,1363.0 879.3,1366.0 879.0,1369.0 878.5,1372.0 877.8,1375.0 877.2,1378.0 876.6,1381.0 875.9,1384.0 875.3,1387.0 874.6,1390.0 873.8,1393.0 873.0,1396.0 872.3,1399.0 871.6,1402.0 871.0,1405.0 870.6,1408.0 870.2,1411.0 869.9,1414.0" fill="none" stroke="#e05a3a" stroke-width="1.0" opacity="0.55"/>
<polyline points="879.9,1081.0 881.0,1084.0 882.1,1087.0 883.2,1090.0 884.3,1093.0 885.3,1096.0 886.2,1099.0 887.0,1102.0 887.6,1105.0 887.9,1108.0 888.0,1111.0 888.0,1114.0 888.0,1117.0 887.8,1120.0 887.7,1123.0 887.4,1126.0 887.0,1129.0 886.3,1132.0 885.7,1135.0 885.1,1138.0 884.6,1141.0 884.1,1144.0 883.7,1147.0 883.3,1150.0 883.1,1153.0 882.9,1156.0 882.8,1159.0 882.8,1162.0 882.9,1165.0 883.1,1168.0 883.3,1171.0 883.6,1174.0 883.9,1177.0 884.3,1180.0 884.7,1183.0 885.0,1186.0 885.3,1189.0 885.6,1192.0 885.8,1195.0 886.0,1198.0 886.0,1201.0 886.0,1204.0 885.9,1207.0 885.7,1210.0 885.4,1213.0 885.0,1216.0 884.6,1219.0 884.1,1222.0 883.5,1225.0 882.9,1228.0 882.3,1231.0 881.7,1234.0 881.1,1237.0 880.5,1240.0 880.0,1243.0 879.5,1246.0 879.3,1249.0 879.2,1252.0 879.3,1255.0 879.4,1258.0 879.7,1261.0 880.0,1264.0 880.4,1267.0 880.9,1270.0 881.4,1273.0 882.0,1276.0 882.6,1279.0 883.2,1282.0 883.8,1285.0 884.4,1288.0 885.0,1291.0 885.5,1294.0 885.9,1297.0 886.2,1300.0 886.5,1303.0 886.7,1306.0 886.8,1309.0 886.8,1312.0 886.7,1315.0 886.5,1318.0 886.2,1321.0 886.0,1324.0 885.6,1327.0 885.3,1330.0 884.9,1333.0 884.6,1336.0 884.2,1339.0 884.0,1342.0 883.7,1345.0 883.6,1348.0 883.5,1351.0 883.5,1354.0 883.7,1357.0 883.9,1360.0 884.1,1363.0 884.5,1366.0 884.9,1369.0 885.0,1372.0 885.2,1375.0 885.5,1378.0 885.7,1381.0 886.0,1384.0 886.2,1387.0 886.4,1390.0 886.3,1393.0 885.9,1396.0 885.5,1399.0 885.0,1402.0 884.4,1405.0 883.8,1408.0 883.0,1411.0 882.1,1414.0" fill="none" stroke="#e05a3a" stroke-width="1.0" opacity="0.55"/>
<polyline points="879.9,1081.0 880.0,1084.0 880.2,1087.0 880.4,1090.0 880.7,1093.0 881.1,1096.0 881.5,1099.0 882.0,1102.0 882.5,1105.0 882.7,1108.0 883.0,1111.0 883.5,1114.0 884.0,1117.0 884.5,1120.0 885.2,1123.0 885.8,1126.0 886.3,1129.0 886.7,1132.0 887.0,1135.0 887.4,1138.0 887.6,1141.0 887.9,1144.0 888.1,1147.0 888.2,1150.0 888.2,1153.0 888.1,1156.0 887.9,1159.0 887.6,1162.0 887.3,1165.0 886.9,1168.0 886.4,1171.0 885.8,1174.0 885.2,1177.0 884.6,1180.0 884.0,1183.0 883.4,1186.0 882.8,1189.0 882.3,1192.0 881.8,1195.0 881.4,1198.0 881.1,1201.0 880.9,1204.0 880.7,1207.0 880.7,1210.0 880.7,1213.0 880.8,1216.0 881.0,1219.0 881.3,1222.0 881.6,1225.0 881.9,1228.0 882.3,1231.0 882.6,1234.0 883.0,1237.0 883.3,1240.0 883.5,1243.0 883.7,1246.0 884.0,1249.0 884.3,1252.0 884.5,1255.0 884.6,1258.0 884.6,1261.0 884.6,1264.0 884.4,1267.0 884.2,1270.0 883.9,1273.0 883.6,1276.0 883.2,1279.0 882.9,1282.0 882.5,1285.0 882.2,1288.0 881.9,1291.0 881.7,1294.0 881.5,1297.0 881.4,1300.0 881.4,1303.0 881.5,1306.0 881.7,1309.0 881.9,1312.0 882.3,1315.0 882.7,1318.0 883.2,1321.0 883.7,1324.0 884.3,1327.0 884.9,1330.0 885.6,1333.0 886.2,1336.0 886.7,1339.0 887.3,1342.0 887.7,1345.0 888.1,1348.0 888.5,1351.0 888.7,1354.0 888.8,1357.0 888.9,1360.0 888.9,1363.0 888.7,1366.0 888.4,1369.0 887.8,1372.0 887.1,1375.0 886.4,1378.0 885.7,1381.0 885.0,1384.0 884.3,1387.0 883.7,1390.0 882.7,1393.0 881.7,1396.0 880.8,1399.0 880.0,1402.0 879.2,1405.0 878.6,1408.0 878.0,1411.0 877.6,1414.0" fill="none" stroke="#e05a3a" stroke-width="1.0" opacity="0.55"/>
<polyline points="887.6,1081.0 888.9,1084.0 890.2,1087.0 891.4,1090.0 892.7,1093.0 893.8,1096.0 894.9,1099.0 895.9,1102.0 896.7,1105.0 896.9,1108.0 897.1,1111.0 897.2,1114.0 897.2,1117.0 897.1,1120.0 897.0,1123.0 896.9,1126.0 896.4,1129.0 895.7,1132.0 895.1,1135.0 894.5,1138.0 893.9,1141.0 893.3,1144.0 892.9,1147.0 892.5,1150.0 892.2,1153.0 892.0,1156.0 891.9,1159.0 891.9,1162.0 891.9,1165.0 892.1,1168.0 892.3,1171.0 892.5,1174.0 892.8,1177.0 893.2,1180.0 893.5,1183.0 893.8,1186.0 894.1,1189.0 894.3,1192.0 894.5,1195.0 894.6,1198.0 894.7,1201.0 894.6,1204.0 894.5,1207.0 894.2,1210.0 893.9,1213.0 893.5,1216.0 893.0,1219.0 892.5,1222.0 891.9,1225.0 891.2,1228.0 890.6,1231.0 890.0,1234.0 889.3,1237.0 888.7,1240.0 888.2,1243.0 887.7,1246.0 887.4,1249.0 887.4,1252.0 887.5,1255.0 887.7,1258.0 888.0,1261.0 888.3,1264.0 888.8,1267.0 889.3,1270.0 889.8,1273.0 890.4,1276.0 891.1,1279.0 891.7,1282.0 892.4,1285.0 893.0,1288.0 893.6,1291.0 894.1,1294.0 894.6,1297.0 894.9,1300.0 895.2,1303.0 895.5,1306.0 895.6,1309.0 895.6,1312.0 895.5,1315.0 895.4,1318.0 895.2,1321.0 894.9,1324.0 894.6,1327.0 894.3,1330.0 894.0,1333.0 893.6,1336.0 893.4,1339.0 893.1,1342.0 892.9,1345.0 892.8,1348.0 892.8,1351.0 892.8,1354.0 893.0,1357.0 893.2,1360.0 893.5,1363.0 893.9,1366.0 894.3,1369.0 894.4,1372.0 894.5,1375.0 894.7,1378.0 894.9,1381.0 895.1,1384.0 895.3,1387.0 895.5,1390.0 895.1,1393.0 894.6,1396.0 894.1,1399.0 893.4,1402.0 892.6,1405.0 891.8,1408.0 890.9,1411.0 889.8,1414.0" fill="none" stroke="#e05a3a" stroke-width="1.0" opacity="0.55"/>
<polyline points="887.6,1081.0 887.9,1084.0 888.3,1087.0 888.7,1090.0 889.1,1093.0 889.6,1096.0 890.2,1099.0 890.8,1102.0 891.5,1105.0 891.8,1108.0 892.2,1111.0 892.6,1114.0 893.2,1117.0 893.8,1120.0 894.5,1123.0 895.2,1126.0 895.7,1129.0 896.0,1132.0 896.4,1135.0 896.7,1138.0 896.9,1141.0 897.1,1144.0 897.3,1147.0 897.3,1150.0 897.3,1153.0 897.2,1156.0 897.0,1159.0 896.7,1162.0 896.3,1165.0 895.9,1168.0 895.3,1171.0 894.8,1174.0 894.1,1177.0 893.5,1180.0 892.8,1183.0 892.2,1186.0 891.6,1189.0 891.0,1192.0 890.5,1195.0 890.1,1198.0 889.7,1201.0 889.5,1204.0 889.3,1207.0 889.2,1210.0 889.2,1213.0 889.3,1216.0 889.5,1219.0 889.7,1222.0 890.0,1225.0 890.3,1228.0 890.6,1231.0 890.9,1234.0 891.2,1237.0 891.5,1240.0 891.7,1243.0 891.9,1246.0 892.1,1249.0 892.5,1252.0 892.7,1255.0 892.9,1258.0 892.9,1261.0 892.9,1264.0 892.8,1267.0 892.6,1270.0 892.3,1273.0 892.0,1276.0 891.7,1279.0 891.4,1282.0 891.1,1285.0 890.8,1288.0 890.5,1291.0 890.3,1294.0 890.2,1297.0 890.1,1300.0 890.1,1303.0 890.3,1306.0 890.5,1309.0 890.8,1312.0 891.1,1315.0 891.6,1318.0 892.1,1321.0 892.7,1324.0 893.3,1327.0 894.0,1330.0 894.6,1333.0 895.2,1336.0 895.9,1339.0 896.4,1342.0 896.9,1345.0 897.4,1348.0 897.7,1351.0 898.0,1354.0 898.2,1357.0 898.2,1360.0 898.2,1363.0 898.1,1366.0 897.8,1369.0 897.2,1372.0 896.4,1375.0 895.7,1378.0 894.9,1381.0 894.1,1384.0 893.4,1387.0 892.7,1390.0 891.6,1393.0 890.4,1396.0 889.4,1399.0 888.4,1402.0 887.5,1405.0 886.6,1408.0 885.9,1411.0 885.3,1414.0" fill="none" stroke="#e05a3a" stroke-width="1.0" opacity="0.55"/>
<polyline points="895.3,1081.0 896.8,1084.0 898.2,1087.0 899.7,1090.0 901.0,1093.0 902.4,1096.0 903.6,1099.0 904.8,1102.0 905.7,1105.0 906.0,1108.0 906.2,1111.0 906.4,1114.0 906.4,1117.0 906.4,1120.0 906.4,1123.0 906.3,1126.0 905.8,1129.0 905.1,1132.0 904.4,1135.0 903.8,1138.0 903.2,1141.0 902.6,1144.0 902.1,1147.0 901.7,1150.0 901.4,1153.0 901.1,1156.0 901.0,1159.0 900.9,1162.0 901.0,1165.0 901.1,1168.0 901.2,1171.0 901.5,1174.0 901.7,1177.0 902.0,1180.0 902.3,1183.0 902.6,1186.0 902.9,1189.0 903.1,1192.0 903.2,1195.0 903.3,1198.0 903.3,1201.0 903.2,1204.0 903.1,1207.0 902.8,1210.0 902.4,1213.0 902.0,1216.0 901.5,1219.0 900.9,1222.0 900.3,1225.0 899.6,1228.0 898.9,1231.0 898.2,1234.0 897.6,1237.0 896.9,1240.0 896.4,1243.0 895.9,1246.0 895.6,1249.0 895.6,1252.0 895.7,1255.0 896.0,1258.0 896.3,1261.0 896.6,1264.0 897.1,1267.0 897.6,1270.0 898.2,1273.0 898.9,1276.0 899.6,1279.0 900.2,1282.0 900.9,1285.0 901.6,1288.0 902.2,1291.0 902.7,1294.0 903.2,1297.0 903.7,1300.0 904.0,1303.0 904.2,1306.0 904.4,1309.0 904.4,1312.0 904.4,1315.0 904.3,1318.0 904.1,1321.0 903.9,1324.0 903.6,1327.0 903.3,1330.0 903.0,1333.0 902.7,1336.0 902.5,1339.0 902.3,1342.0 902.1,1345.0 902.0,1348.0 902.0,1351.0 902.1,1354.0 902.3,1357.0 902.5,1360.0 902.9,1363.0 903.3,1366.0 903.7,1369.0 903.7,1372.0 903.8,1375.0 904.0,1378.0 904.1,1381.0 904.2,1384.0 904.4,1387.0 904.5,1390.0 904.0,1393.0 903.3,1396.0 902.6,1399.0 901.8,1402.0 900.9,1405.0 899.9,1408.0 898.8,1411.0 897.6,1414.0" fill="none" stroke="#e05a3a" stroke-width="1.0" opacity="0.55"/>
<polyline points="895.3,1081.0 895.8,1084.0 896.3,1087.0 896.9,1090.0 897.5,1093.0 898.1,1096.0 898.9,1099.0 899.7,1102.0 900.5,1105.0 900.8,1108.0 901.3,1111.0 901.8,1114.0 902.4,1117.0 903.1,1120.0 903.9,1123.0 904.7,1126.0 905.1,1129.0 905.4,1132.0 905.7,1135.0 906.0,1138.0 906.2,1141.0 906.4,1144.0 906.5,1147.0 906.5,1150.0 906.5,1153.0 906.3,1156.0 906.1,1159.0 905.8,1162.0 905.3,1165.0 904.9,1168.0 904.3,1171.0 903.7,1174.0 903.0,1177.0 902.4,1180.0 901.7,1183.0 901.0,1186.0 900.4,1189.0 899.8,1192.0 899.2,1195.0 898.8,1198.0 898.4,1201.0 898.1,1204.0 897.9,1207.0 897.8,1210.0 897.7,1213.0 897.8,1216.0 897.9,1219.0 898.1,1222.0 898.3,1225.0 898.6,1228.0 898.9,1231.0 899.2,1234.0 899.5,1237.0 899.7,1240.0 899.9,1243.0 900.1,1246.0 900.3,1249.0 900.7,1252.0 900.9,1255.0 901.1,1258.0 901.2,1261.0 901.2,1264.0 901.1,1267.0 901.0,1270.0 900.8,1273.0 900.5,1276.0 900.2,1279.0 899.9,1282.0 899.6,1285.0 899.4,1288.0 899.1,1291.0 899.0,1294.0 898.8,1297.0 898.8,1300.0 898.9,1303.0 899.0,1306.0 899.3,1309.0 899.6,1312.0 900.0,1315.0 900.5,1318.0 901.1,1321.0 901.7,1324.0 902.3,1327.0 903.0,1330.0 903.7,1333.0 904.3,1336.0 905.0,1339.0 905.6,1342.0 906.1,1345.0 906.6,1348.0 907.0,1351.0 907.3,1354.0 907.5,1357.0 907.6,1360.0 907.6,1363.0 907.5,1366.0 907.2,1369.0 906.5,1372.0 905.7,1375.0 904.9,1378.0 904.1,1381.0 903.3,1384.0 902.5,1387.0 901.7,1390.0 900.5,1393.0 899.1,1396.0 897.9,1399.0 896.7,1402.0 895.7,1405.0 894.7,1408.0 893.8,1411.0 893.0,1414.0" fill="none" stroke="#e05a3a" stroke-width="1.0" opacity="0.55"/>
<polyline points="903.0,1081.0 904.6,1084.0 906.3,1087.0 907.9,1090.0 909.4,1093.0 910.9,1096.0 912.3,1099.0 913.6,1102.0 914.7,1105.0 915.1,1108.0 915.4,1111.0 915.6,1114.0 915.7,1117.0 915.7,1120.0 915.7,1123.0 915.7,1126.0 915.2,1129.0 914.5,1132.0 913.8,1135.0 913.1,1138.0 912.4,1141.0 911.8,1144.0 911.3,1147.0 910.9,1150.0 910.5,1153.0 910.2,1156.0 910.1,1159.0 910.0,1162.0 910.0,1165.0 910.1,1168.0 910.2,1171.0 910.4,1174.0 910.6,1177.0 910.9,1180.0 911.2,1183.0 911.4,1186.0 911.6,1189.0 911.8,1192.0 911.9,1195.0 912.0,1198.0 912.0,1201.0 911.8,1204.0 911.6,1207.0 911.3,1210.0 910.9,1213.0 910.5,1216.0 909.9,1219.0 909.3,1222.0 908.6,1225.0 908.0,1228.0 907.2,1231.0 906.5,1234.0 905.8,1237.0 905.2,1240.0 904.6,1243.0 904.0,1246.0 903.8,1249.0 903.8,1252.0 904.0,1255.0 904.2,1258.0 904.5,1261.0 905.0,1264.0 905.5,1267.0 906.0,1270.0 906.7,1273.0 907.3,1276.0 908.0,1279.0 908.8,1282.0 909.5,1285.0 910.1,1288.0 910.8,1291.0 911.4,1294.0 911.9,1297.0 912.4,1300.0 912.7,1303.0 913.0,1306.0 913.2,1309.0 913.3,1312.0 913.3,1315.0 913.2,1318.0 913.0,1321.0 912.8,1324.0 912.6,1327.0 912.3,1330.0 912.1,1333.0 911.8,1336.0 911.6,1339.0 911.4,1342.0 911.3,1345.0 911.2,1348.0 911.3,1351.0 911.4,1354.0 911.6,1357.0 911.9,1360.0 912.3,1363.0 912.7,1366.0 913.1,1369.0 913.1,1372.0 913.1,1375.0 913.2,1378.0 913.3,1381.0 913.4,1384.0 913.4,1387.0 913.5,1390.0 912.9,1393.0 912.1,1396.0 911.1,1399.0 910.2,1402.0 909.1,1405.0 907.9,1408.0 906.6,1411.0 905.3,1414.0" fill="none" stroke="#e05a3a" stroke-width="1.0" opacity="0.55"/>
<polyline points="903.0,1081.0 903.7,1084.0 904.4,1087.0 905.1,1090.0 905.9,1093.0 906.7,1096.0 907.6,1099.0 908.6,1102.0 909.5,1105.0 909.9,1108.0 910.4,1111.0 911.0,1114.0 911.7,1117.0 912.4,1120.0 913.2,1123.0 914.1,1126.0 914.5,1129.0 914.8,1132.0 915.0,1135.0 915.3,1138.0 915.5,1141.0 915.6,1144.0 915.7,1147.0 915.7,1150.0 915.6,1153.0 915.4,1156.0 915.2,1159.0 914.8,1162.0 914.4,1165.0 913.9,1168.0 913.3,1171.0 912.6,1174.0 911.9,1177.0 911.2,1180.0 910.5,1183.0 909.8,1186.0 909.1,1189.0 908.5,1192.0 907.9,1195.0 907.4,1198.0 907.0,1201.0 906.7,1204.0 906.4,1207.0 906.3,1210.0 906.2,1213.0 906.3,1216.0 906.4,1219.0 906.5,1222.0 906.7,1225.0 907.0,1228.0 907.2,1231.0 907.5,1234.0 907.7,1237.0 908.0,1240.0 908.1,1243.0 908.2,1246.0 908.5,1249.0 908.9,1252.0 909.2,1255.0 909.4,1258.0 909.5,1261.0 909.5,1264.0 909.5,1267.0 909.3,1270.0 909.2,1273.0 908.9,1276.0 908.7,1279.0 908.4,1282.0 908.2,1285.0 907.9,1288.0 907.7,1291.0 907.6,1294.0 907.5,1297.0 907.5,1300.0 907.6,1303.0 907.8,1306.0 908.1,1309.0 908.4,1312.0 908.9,1315.0 909.4,1318.0 910.0,1321.0 910.6,1324.0 911.3,1327.0 912.0,1330.0 912.7,1333.0 913.4,1336.0 914.1,1339.0 914.7,1342.0 915.3,1345.0 915.8,1348.0 916.2,1351.0 916.5,1354.0 916.8,1357.0 916.9,1360.0 917.0,1363.0 917.0,1366.0 916.7,1369.0 915.9,1372.0 915.0,1375.0 914.2,1378.0 913.3,1381.0 912.4,1384.0 911.5,1387.0 910.7,1390.0 909.3,1393.0 907.8,1396.0 906.4,1399.0 905.1,1402.0 903.9,1405.0 902.7,1408.0 901.7,1411.0 900.7,1414.0" fill="none" stroke="#e05a3a" stroke-width="1.0" opacity="0.55"/>
<polyline points="954.0,1081.0 953.7,1084.0 953.4,1087.0 953.1,1090.0 952.7,1093.0 952.3,1096.0 951.8,1099.0 951.2,1102.0 950.8,1105.0 950.8,1108.0 950.8,1111.0 950.6,1114.0 950.4,1117.0 950.0,1120.0 949.6,1123.0 949.0,1126.0 948.8,1129.0 948.7,1132.0 948.5,1135.0 948.3,1138.0 947.9,1141.0 947.6,1144.0 947.2,1147.0 946.8,1150.0 946.4,1153.0 946.0,1156.0 945.6,1159.0 945.3,1162.0 945.0,1165.0 944.8,1168.0 944.6,1171.0 944.5,1174.0 944.5,1177.0 944.6,1180.0 944.8,1183.0 945.1,1186.0 945.5,1189.0 946.0,1192.0 946.6,1195.0 947.3,1198.0 948.1,1201.0 949.0,1204.0 949.9,1207.0 950.9,1210.0 951.9,1213.0 953.0,1216.0 954.1,1219.0 955.2,1222.0 956.3,1225.0 957.4,1228.0 958.4,1231.0 959.4,1234.0 960.4,1237.0 961.2,1240.0 962.0,1243.0 962.8,1246.0 963.1,1249.0 962.9,1252.0 962.6,1255.0 962.2,1258.0 961.7,1261.0 961.2,1264.0 960.5,1267.0 959.7,1270.0 958.9,1273.0 958.0,1276.0 957.0,1279.0 956.0,1282.0 955.0,1285.0 953.9,1288.0 952.8,1291.0 951.7,1294.0 950.6,1297.0 949.5,1300.0 948.5,1303.0 947.5,1306.0 946.6,1309.0 945.8,1312.0 945.0,1315.0 944.3,1318.0 943.7,1321.0 943.2,1324.0 942.8,1327.0 942.5,1330.0 942.3,1333.0 942.2,1336.0 942.2,1339.0 942.2,1342.0 942.4,1345.0 942.6,1348.0 942.8,1351.0 943.1,1354.0 943.5,1357.0 943.8,1360.0 944.1,1363.0 944.5,1366.0 945.0,1369.0 945.8,1372.0 946.5,1375.0 947.2,1378.0 947.9,1381.0 948.4,1384.0 948.9,1387.0 949.3,1390.0 950.2,1393.0 951.3,1396.0 952.3,1399.0 953.2,1402.0 954.0,1405.0 954.7,1408.0 955.3,1411.0 955.8,1414.0" fill="none" stroke="#e0553a" stroke-width="1.1" opacity="0.6"/>
<polyline points="954.0,1081.0 952.2,1084.0 950.5,1087.0 948.7,1090.0 947.1,1093.0 945.4,1096.0 943.8,1099.0 942.3,1102.0 941.1,1105.0 940.5,1108.0 940.0,1111.0 939.7,1114.0 939.4,1117.0 939.2,1120.0 939.1,1123.0 939.1,1126.0 939.6,1129.0 940.4,1132.0 941.3,1135.0 942.2,1138.0 943.2,1141.0 944.2,1144.0 945.2,1147.0 946.3,1150.0 947.4,1153.0 948.5,1156.0 949.5,1159.0 950.5,1162.0 951.5,1165.0 952.4,1168.0 953.2,1171.0 954.0,1174.0 954.6,1177.0 955.2,1180.0 955.7,1183.0 956.1,1186.0 956.4,1189.0 956.6,1192.0 956.8,1195.0 956.8,1198.0 956.7,1201.0 956.6,1204.0 956.4,1207.0 956.1,1210.0 955.8,1213.0 955.4,1216.0 955.1,1219.0 954.7,1222.0 954.3,1225.0 954.0,1228.0 953.6,1231.0 953.3,1234.0 953.1,1237.0 953.0,1240.0 952.9,1243.0 952.9,1246.0 952.6,1249.0 952.0,1252.0 951.6,1255.0 951.3,1258.0 951.0,1261.0 950.9,1264.0 950.8,1267.0 950.8,1270.0 951.0,1273.0 951.1,1276.0 951.4,1279.0 951.7,1282.0 952.0,1285.0 952.4,1288.0 952.8,1291.0 953.2,1294.0 953.5,1297.0 953.9,1300.0 954.2,1303.0 954.4,1306.0 954.6,1309.0 954.7,1312.0 954.7,1315.0 954.6,1318.0 954.5,1321.0 954.2,1324.0 953.8,1327.0 953.3,1330.0 952.8,1333.0 952.1,1336.0 951.4,1339.0 950.5,1342.0 949.6,1345.0 948.6,1348.0 947.6,1351.0 946.5,1354.0 945.4,1357.0 944.3,1360.0 943.2,1363.0 942.0,1366.0 941.1,1369.0 940.6,1372.0 940.1,1375.0 939.6,1378.0 939.3,1381.0 939.0,1384.0 938.8,1387.0 938.7,1390.0 939.3,1393.0 940.3,1396.0 941.4,1399.0 942.6,1402.0 943.9,1405.0 945.2,1408.0 946.7,1411.0 948.2,1414.0" fill="none" stroke="#e0553a" stroke-width="1.1" opacity="0.6"/>
<polyline points="965.1,1081.0 965.0,1084.0 965.0,1087.0 964.9,1090.0 964.7,1093.0 964.5,1096.0 964.3,1099.0 964.0,1102.0 963.7,1105.0 963.8,1108.0 963.8,1111.0 963.7,1114.0 963.5,1117.0 963.2,1120.0 962.8,1123.0 962.4,1126.0 962.1,1129.0 961.9,1132.0 961.6,1135.0 961.3,1138.0 960.9,1141.0 960.5,1144.0 960.0,1147.0 959.6,1150.0 959.1,1153.0 958.6,1156.0 958.2,1159.0 957.8,1162.0 957.4,1165.0 957.1,1168.0 956.8,1171.0 956.7,1174.0 956.6,1177.0 956.6,1180.0 956.7,1183.0 957.0,1186.0 957.3,1189.0 957.7,1192.0 958.3,1195.0 958.9,1198.0 959.6,1201.0 960.4,1204.0 961.2,1207.0 962.1,1210.0 963.1,1213.0 964.1,1216.0 965.1,1219.0 966.1,1222.0 967.1,1225.0 968.1,1228.0 969.1,1231.0 970.0,1234.0 970.9,1237.0 971.7,1240.0 972.4,1243.0 973.0,1246.0 973.3,1249.0 973.2,1252.0 973.0,1255.0 972.7,1258.0 972.3,1261.0 971.8,1264.0 971.2,1267.0 970.6,1270.0 969.8,1273.0 969.0,1276.0 968.1,1279.0 967.2,1282.0 966.2,1285.0 965.2,1288.0 964.2,1291.0 963.1,1294.0 962.1,1297.0 961.2,1300.0 960.2,1303.0 959.3,1306.0 958.5,1309.0 957.7,1312.0 957.1,1315.0 956.5,1318.0 955.9,1321.0 955.5,1324.0 955.2,1327.0 955.0,1330.0 954.9,1333.0 954.8,1336.0 954.9,1339.0 955.0,1342.0 955.3,1345.0 955.5,1348.0 955.9,1351.0 956.3,1354.0 956.7,1357.0 957.1,1360.0 957.6,1363.0 958.0,1366.0 958.5,1369.0 959.3,1372.0 960.0,1375.0 960.7,1378.0 961.3,1381.0 961.8,1384.0 962.3,1387.0 962.6,1390.0 963.4,1393.0 964.3,1396.0 965.0,1399.0 965.7,1402.0 966.2,1405.0 966.7,1408.0 967.1,1411.0 967.4,1414.0" fill="none" stroke="#e0553a" stroke-width="1.1" opacity="0.6"/>
<polyline points="965.1,1081.0 963.6,1084.0 962.0,1087.0 960.5,1090.0 959.1,1093.0 957.7,1096.0 956.3,1099.0 955.1,1102.0 954.0,1105.0 953.5,1108.0 953.1,1111.0 952.7,1114.0 952.5,1117.0 952.4,1120.0 952.4,1123.0 952.4,1126.0 952.9,1129.0 953.6,1132.0 954.4,1135.0 955.3,1138.0 956.2,1141.0 957.1,1144.0 958.1,1147.0 959.1,1150.0 960.1,1153.0 961.1,1156.0 962.0,1159.0 963.0,1162.0 963.9,1165.0 964.7,1168.0 965.4,1171.0 966.1,1174.0 966.7,1177.0 967.2,1180.0 967.6,1183.0 968.0,1186.0 968.2,1189.0 968.3,1192.0 968.4,1195.0 968.3,1198.0 968.2,1201.0 968.0,1204.0 967.7,1207.0 967.3,1210.0 966.9,1213.0 966.5,1216.0 966.1,1219.0 965.6,1222.0 965.1,1225.0 964.7,1228.0 964.3,1231.0 963.9,1234.0 963.6,1237.0 963.4,1240.0 963.2,1243.0 963.1,1246.0 962.9,1249.0 962.4,1252.0 962.0,1255.0 961.8,1258.0 961.6,1261.0 961.5,1264.0 961.6,1267.0 961.7,1270.0 961.9,1273.0 962.1,1276.0 962.5,1279.0 962.8,1282.0 963.3,1285.0 963.7,1288.0 964.2,1291.0 964.6,1294.0 965.1,1297.0 965.5,1300.0 965.9,1303.0 966.2,1306.0 966.5,1309.0 966.6,1312.0 966.8,1315.0 966.8,1318.0 966.7,1321.0 966.5,1324.0 966.2,1327.0 965.8,1330.0 965.3,1333.0 964.7,1336.0 964.1,1339.0 963.3,1342.0 962.5,1345.0 961.6,1348.0 960.7,1351.0 959.7,1354.0 958.7,1357.0 957.6,1360.0 956.6,1363.0 955.5,1366.0 954.7,1369.0 954.1,1372.0 953.6,1375.0 953.1,1378.0 952.7,1381.0 952.4,1384.0 952.1,1387.0 952.0,1390.0 952.5,1393.0 953.3,1396.0 954.1,1399.0 955.1,1402.0 956.1,1405.0 957.2,1408.0 958.5,1411.0 959.8,1414.0" fill="none" stroke="#e0553a" stroke-width="1.1" opacity="0.6"/>
<polyline points="976.2,1081.0 976.4,1084.0 976.5,1087.0 976.7,1090.0 976.8,1093.0 976.8,1096.0 976.8,1099.0 976.7,1102.0 976.6,1105.0 976.7,1108.0 976.8,1111.0 976.8,1114.0 976.6,1117.0 976.4,1120.0 976.1,1123.0 975.7,1126.0 975.4,1129.0 975.1,1132.0 974.8,1135.0 974.4,1138.0 973.9,1141.0 973.4,1144.0 972.9,1147.0 972.3,1150.0 971.8,1153.0 971.2,1156.0 970.7,1159.0 970.2,1162.0 969.8,1165.0 969.4,1168.0 969.1,1171.0 968.9,1174.0 968.7,1177.0 968.6,1180.0 968.7,1183.0 968.8,1186.0 969.1,1189.0 969.4,1192.0 969.9,1195.0 970.4,1198.0 971.0,1201.0 971.7,1204.0 972.5,1207.0 973.3,1210.0 974.2,1213.0 975.1,1216.0 976.0,1219.0 977.0,1222.0 977.9,1225.0 978.8,1228.0 979.7,1231.0 980.6,1234.0 981.4,1237.0 982.1,1240.0 982.7,1243.0 983.3,1246.0 983.6,1249.0 983.6,1252.0 983.4,1255.0 983.2,1258.0 982.9,1261.0 982.5,1264.0 982.0,1267.0 981.4,1270.0 980.7,1273.0 980.0,1276.0 979.2,1279.0 978.3,1282.0 977.4,1285.0 976.5,1288.0 975.5,1291.0 974.6,1294.0 973.7,1297.0 972.8,1300.0 971.9,1303.0 971.1,1306.0 970.4,1309.0 969.7,1312.0 969.1,1315.0 968.6,1318.0 968.1,1321.0 967.8,1324.0 967.6,1327.0 967.4,1330.0 967.4,1333.0 967.5,1336.0 967.6,1339.0 967.8,1342.0 968.2,1345.0 968.5,1348.0 969.0,1351.0 969.4,1354.0 969.9,1357.0 970.4,1360.0 971.0,1363.0 971.5,1366.0 972.1,1369.0 972.8,1372.0 973.5,1375.0 974.2,1378.0 974.7,1381.0 975.2,1384.0 975.6,1387.0 976.0,1390.0 976.6,1393.0 977.2,1396.0 977.7,1399.0 978.1,1402.0 978.5,1405.0 978.7,1408.0 978.8,1411.0 978.9,1414.0" fill="none" stroke="#e0553a" stroke-width="1.1" opacity="0.6"/>
<polyline points="976.2,1081.0 974.9,1084.0 973.6,1087.0 972.3,1090.0 971.1,1093.0 969.9,1096.0 968.8,1099.0 967.8,1102.0 966.9,1105.0 966.4,1108.0 966.1,1111.0 965.8,1114.0 965.7,1117.0 965.6,1120.0 965.6,1123.0 965.8,1126.0 966.2,1129.0 966.8,1132.0 967.5,1135.0 968.3,1138.0 969.1,1141.0 970.0,1144.0 970.9,1147.0 971.8,1150.0 972.8,1153.0 973.7,1156.0 974.6,1159.0 975.4,1162.0 976.3,1165.0 977.0,1168.0 977.7,1171.0 978.3,1174.0 978.8,1177.0 979.2,1180.0 979.6,1183.0 979.8,1186.0 980.0,1189.0 980.0,1192.0 980.0,1195.0 979.9,1198.0 979.6,1201.0 979.3,1204.0 979.0,1207.0 978.5,1210.0 978.1,1213.0 977.6,1216.0 977.0,1219.0 976.5,1222.0 976.0,1225.0 975.4,1228.0 975.0,1231.0 974.5,1234.0 974.1,1237.0 973.8,1240.0 973.6,1243.0 973.4,1246.0 973.1,1249.0 972.7,1252.0 972.4,1255.0 972.3,1258.0 972.2,1261.0 972.2,1264.0 972.3,1267.0 972.5,1270.0 972.8,1273.0 973.1,1276.0 973.5,1279.0 974.0,1282.0 974.5,1285.0 975.0,1288.0 975.5,1291.0 976.1,1294.0 976.6,1297.0 977.1,1300.0 977.6,1303.0 978.0,1306.0 978.3,1309.0 978.6,1312.0 978.8,1315.0 978.9,1318.0 978.9,1321.0 978.8,1324.0 978.6,1327.0 978.3,1330.0 977.9,1333.0 977.4,1336.0 976.8,1339.0 976.1,1342.0 975.4,1345.0 974.6,1348.0 973.7,1351.0 972.8,1354.0 971.9,1357.0 970.9,1360.0 970.0,1363.0 969.0,1366.0 968.2,1369.0 967.6,1372.0 967.0,1375.0 966.6,1378.0 966.1,1381.0 965.8,1384.0 965.5,1387.0 965.3,1390.0 965.7,1393.0 966.2,1396.0 966.8,1399.0 967.5,1402.0 968.3,1405.0 969.2,1408.0 970.2,1411.0 971.3,1414.0" fill="none" stroke="#e0553a" stroke-width="1.1" opacity="0.6"/>
<polyline points="987.3,1081.0 987.7,1084.0 988.1,1087.0 988.5,1090.0 988.8,1093.0 989.0,1096.0 989.2,1099.0 989.4,1102.0 989.5,1105.0 989.7,1108.0 989.8,1111.0 989.9,1114.0 989.8,1117.0 989.6,1120.0 989.3,1123.0 989.0,1126.0 988.7,1129.0 988.3,1132.0 987.9,1135.0 987.4,1138.0 986.9,1141.0 986.3,1144.0 985.7,1147.0 985.1,1150.0 984.5,1153.0 983.9,1156.0 983.3,1159.0 982.7,1162.0 982.2,1165.0 981.7,1168.0 981.3,1171.0 981.0,1174.0 980.8,1177.0 980.7,1180.0 980.6,1183.0 980.7,1186.0 980.9,1189.0 981.1,1192.0 981.5,1195.0 982.0,1198.0 982.5,1201.0 983.1,1204.0 983.8,1207.0 984.6,1210.0 985.4,1213.0 986.2,1216.0 987.0,1219.0 987.9,1222.0 988.7,1225.0 989.6,1228.0 990.4,1231.0 991.2,1234.0 991.9,1237.0 992.5,1240.0 993.1,1243.0 993.6,1246.0 993.8,1249.0 993.9,1252.0 993.9,1255.0 993.7,1258.0 993.5,1261.0 993.2,1264.0 992.7,1267.0 992.2,1270.0 991.6,1273.0 991.0,1276.0 990.2,1279.0 989.4,1282.0 988.6,1285.0 987.8,1288.0 986.9,1291.0 986.1,1294.0 985.2,1297.0 984.4,1300.0 983.6,1303.0 982.9,1306.0 982.2,1309.0 981.6,1312.0 981.1,1315.0 980.7,1318.0 980.3,1321.0 980.1,1324.0 979.9,1327.0 979.9,1330.0 980.0,1333.0 980.1,1336.0 980.3,1339.0 980.7,1342.0 981.0,1345.0 981.5,1348.0 982.0,1351.0 982.6,1354.0 983.2,1357.0 983.8,1360.0 984.4,1363.0 985.0,1366.0 985.6,1369.0 986.3,1372.0 987.0,1375.0 987.6,1378.0 988.2,1381.0 988.6,1384.0 989.0,1387.0 989.3,1390.0 989.7,1393.0 990.1,1396.0 990.4,1399.0 990.6,1402.0 990.7,1405.0 990.7,1408.0 990.6,1411.0 990.5,1414.0" fill="none" stroke="#e0553a" stroke-width="1.1" opacity="0.6"/>
<polyline points="987.3,1081.0 986.3,1084.0 985.2,1087.0 984.1,1090.0 983.1,1093.0 982.2,1096.0 981.3,1099.0 980.5,1102.0 979.8,1105.0 979.4,1108.0 979.1,1111.0 978.9,1114.0 978.8,1117.0 978.8,1120.0 978.9,1123.0 979.1,1126.0 979.5,1129.0 980.0,1132.0 980.7,1135.0 981.4,1138.0 982.1,1141.0 982.9,1144.0 983.8,1147.0 984.6,1150.0 985.5,1153.0 986.3,1156.0 987.1,1159.0 987.9,1162.0 988.6,1165.0 989.3,1168.0 989.9,1171.0 990.5,1174.0 990.9,1177.0 991.3,1180.0 991.5,1183.0 991.7,1186.0 991.8,1189.0 991.7,1192.0 991.6,1195.0 991.4,1198.0 991.1,1201.0 990.7,1204.0 990.3,1207.0 989.8,1210.0 989.2,1213.0 988.6,1216.0 988.0,1219.0 987.4,1222.0 986.8,1225.0 986.2,1228.0 985.6,1231.0 985.1,1234.0 984.6,1237.0 984.2,1240.0 983.9,1243.0 983.7,1246.0 983.4,1249.0 983.1,1252.0 982.9,1255.0 982.8,1258.0 982.8,1261.0 982.9,1264.0 983.0,1267.0 983.3,1270.0 983.7,1273.0 984.1,1276.0 984.6,1279.0 985.1,1282.0 985.7,1285.0 986.3,1288.0 986.9,1291.0 987.5,1294.0 988.1,1297.0 988.7,1300.0 989.3,1303.0 989.8,1306.0 990.2,1309.0 990.5,1312.0 990.8,1315.0 991.0,1318.0 991.1,1321.0 991.0,1324.0 990.9,1327.0 990.7,1330.0 990.4,1333.0 990.0,1336.0 989.5,1339.0 988.9,1342.0 988.3,1345.0 987.6,1348.0 986.8,1351.0 986.0,1354.0 985.1,1357.0 984.3,1360.0 983.4,1363.0 982.5,1366.0 981.7,1369.0 981.1,1372.0 980.5,1375.0 980.0,1378.0 979.6,1381.0 979.2,1384.0 978.9,1387.0 978.7,1390.0 978.8,1393.0 979.1,1396.0 979.5,1399.0 980.0,1402.0 980.6,1405.0 981.3,1408.0 982.0,1411.0 982.9,1414.0" fill="none" stroke="#e0553a" stroke-width="1.1" opacity="0.6"/>
<polyline points="998.4,1081.0 999.1,1084.0 999.7,1087.0 1000.3,1090.0 1000.8,1093.0 1001.3,1096.0 1001.7,1099.0 1002.1,1102.0 1002.4,1105.0 1002.7,1108.0 1002.9,1111.0 1002.9,1114.0 1002.9,1117.0 1002.8,1120.0 1002.6,1123.0 1002.3,1126.0 1001.9,1129.0 1001.5,1132.0 1001.1,1135.0 1000.5,1138.0 999.9,1141.0 999.2,1144.0 998.6,1147.0 997.9,1150.0 997.2,1153.0 996.5,1156.0 995.8,1159.0 995.2,1162.0 994.6,1165.0 994.0,1168.0 993.6,1171.0 993.2,1174.0 992.9,1177.0 992.7,1180.0 992.6,1183.0 992.6,1186.0 992.7,1189.0 992.8,1192.0 993.1,1195.0 993.5,1198.0 994.0,1201.0 994.5,1204.0 995.1,1207.0 995.8,1210.0 996.5,1213.0 997.2,1216.0 998.0,1219.0 998.8,1222.0 999.6,1225.0 1000.3,1228.0 1001.1,1231.0 1001.7,1234.0 1002.4,1237.0 1002.9,1240.0 1003.4,1243.0 1003.8,1246.0 1004.1,1249.0 1004.2,1252.0 1004.3,1255.0 1004.2,1258.0 1004.1,1261.0 1003.8,1264.0 1003.5,1267.0 1003.0,1270.0 1002.5,1273.0 1001.9,1276.0 1001.3,1279.0 1000.6,1282.0 999.9,1285.0 999.1,1288.0 998.3,1291.0 997.5,1294.0 996.8,1297.0 996.0,1300.0 995.3,1303.0 994.7,1306.0 994.1,1309.0 993.6,1312.0 993.1,1315.0 992.8,1318.0 992.5,1321.0 992.4,1324.0 992.3,1327.0 992.4,1330.0 992.5,1333.0 992.7,1336.0 993.1,1339.0 993.5,1342.0 993.9,1345.0 994.5,1348.0 995.1,1351.0 995.7,1354.0 996.4,1357.0 997.1,1360.0 997.8,1363.0 998.5,1366.0 999.2,1369.0 999.8,1372.0 1000.5,1375.0 1001.1,1378.0 1001.6,1381.0 1002.0,1384.0 1002.4,1387.0 1002.6,1390.0 1002.9,1393.0 1003.0,1396.0 1003.1,1399.0 1003.1,1402.0 1002.9,1405.0 1002.7,1408.0 1002.4,1411.0 1002.0,1414.0" fill="none" stroke="#e0553a" stroke-width="1.1" opacity="0.6"/>
<polyline points="998.4,1081.0 997.6,1084.0 996.8,1087.0 995.9,1090.0 995.2,1093.0 994.4,1096.0 993.8,1099.0 993.2,1102.0 992.7,1105.0 992.4,1108.0 992.1,1111.0 992.0,1114.0 991.9,1117.0 992.0,1120.0 992.1,1123.0 992.4,1126.0 992.8,1129.0 993.3,1132.0 993.8,1135.0 994.4,1138.0 995.1,1141.0 995.8,1144.0 996.6,1147.0 997.4,1150.0 998.1,1153.0 998.9,1156.0 999.7,1159.0 1000.4,1162.0 1001.0,1165.0 1001.6,1168.0 1002.2,1171.0 1002.6,1174.0 1003.0,1177.0 1003.3,1180.0 1003.5,1183.0 1003.6,1186.0 1003.6,1189.0 1003.4,1192.0 1003.2,1195.0 1002.9,1198.0 1002.6,1201.0 1002.1,1204.0 1001.6,1207.0 1001.0,1210.0 1000.4,1213.0 999.7,1216.0 999.0,1219.0 998.3,1222.0 997.6,1225.0 996.9,1228.0 996.3,1231.0 995.7,1234.0 995.1,1237.0 994.6,1240.0 994.2,1243.0 993.9,1246.0 993.6,1249.0 993.4,1252.0 993.3,1255.0 993.3,1258.0 993.3,1261.0 993.5,1264.0 993.8,1267.0 994.1,1270.0 994.6,1273.0 995.1,1276.0 995.6,1279.0 996.3,1282.0 996.9,1285.0 997.6,1288.0 998.3,1291.0 999.0,1294.0 999.7,1297.0 1000.3,1300.0 1001.0,1303.0 1001.5,1306.0 1002.0,1309.0 1002.5,1312.0 1002.8,1315.0 1003.1,1318.0 1003.3,1321.0 1003.3,1324.0 1003.3,1327.0 1003.2,1330.0 1003.0,1333.0 1002.6,1336.0 1002.2,1339.0 1001.7,1342.0 1001.2,1345.0 1000.5,1348.0 999.9,1351.0 999.1,1354.0 998.4,1357.0 997.6,1360.0 996.8,1363.0 996.0,1366.0 995.3,1369.0 994.6,1372.0 994.0,1375.0 993.5,1378.0 993.0,1381.0 992.6,1384.0 992.3,1387.0 992.0,1390.0 992.0,1393.0 992.0,1396.0 992.2,1399.0 992.5,1402.0 992.8,1405.0 993.3,1408.0 993.8,1411.0 994.4,1414.0" fill="none" stroke="#e0553a" stroke-width="1.1" opacity="0.6"/>
<polyline points="1009.6,1081.0 1010.4,1084.0 1011.2,1087.0 1012.1,1090.0 1012.8,1093.0 1013.6,1096.0 1014.2,1099.0 1014.8,1102.0 1015.3,1105.0 1015.6,1108.0 1015.9,1111.0 1016.0,1114.0 1016.1,1117.0 1016.0,1120.0 1015.9,1123.0 1015.6,1126.0 1015.2,1129.0 1014.7,1132.0 1014.2,1135.0 1013.6,1138.0 1012.9,1141.0 1012.2,1144.0 1011.4,1147.0 1010.6,1150.0 1009.9,1153.0 1009.1,1156.0 1008.3,1159.0 1007.6,1162.0 1007.0,1165.0 1006.4,1168.0 1005.8,1171.0 1005.4,1174.0 1005.0,1177.0 1004.7,1180.0 1004.5,1183.0 1004.4,1186.0 1004.4,1189.0 1004.6,1192.0 1004.8,1195.0 1005.1,1198.0 1005.4,1201.0 1005.9,1204.0 1006.4,1207.0 1007.0,1210.0 1007.6,1213.0 1008.3,1216.0 1009.0,1219.0 1009.7,1222.0 1010.4,1225.0 1011.1,1228.0 1011.7,1231.0 1012.3,1234.0 1012.9,1237.0 1013.4,1240.0 1013.8,1243.0 1014.1,1246.0 1014.4,1249.0 1014.6,1252.0 1014.7,1255.0 1014.7,1258.0 1014.7,1261.0 1014.5,1264.0 1014.2,1267.0 1013.9,1270.0 1013.4,1273.0 1012.9,1276.0 1012.4,1279.0 1011.7,1282.0 1011.1,1285.0 1010.4,1288.0 1009.7,1291.0 1009.0,1294.0 1008.3,1297.0 1007.7,1300.0 1007.0,1303.0 1006.5,1306.0 1006.0,1309.0 1005.5,1312.0 1005.2,1315.0 1004.9,1318.0 1004.7,1321.0 1004.7,1324.0 1004.7,1327.0 1004.8,1330.0 1005.0,1333.0 1005.4,1336.0 1005.8,1339.0 1006.3,1342.0 1006.8,1345.0 1007.5,1348.0 1008.1,1351.0 1008.9,1354.0 1009.6,1357.0 1010.4,1360.0 1011.2,1363.0 1012.0,1366.0 1012.7,1369.0 1013.4,1372.0 1014.0,1375.0 1014.5,1378.0 1015.0,1381.0 1015.4,1384.0 1015.7,1387.0 1016.0,1390.0 1016.0,1393.0 1016.0,1396.0 1015.8,1399.0 1015.5,1402.0 1015.2,1405.0 1014.7,1408.0 1014.2,1411.0 1013.6,1414.0" fill="none" stroke="#e0553a" stroke-width="1.1" opacity="0.6"/>
<polyline points="1009.6,1081.0 1008.9,1084.0 1008.3,1087.0 1007.7,1090.0 1007.2,1093.0 1006.7,1096.0 1006.3,1099.0 1005.9,1102.0 1005.6,1105.0 1005.3,1108.0 1005.1,1111.0 1005.1,1114.0 1005.1,1117.0 1005.2,1120.0 1005.4,1123.0 1005.7,1126.0 1006.1,1129.0 1006.5,1132.0 1006.9,1135.0 1007.5,1138.0 1008.1,1141.0 1008.8,1144.0 1009.4,1147.0 1010.1,1150.0 1010.8,1153.0 1011.5,1156.0 1012.2,1159.0 1012.8,1162.0 1013.4,1165.0 1014.0,1168.0 1014.4,1171.0 1014.8,1174.0 1015.1,1177.0 1015.3,1180.0 1015.4,1183.0 1015.4,1186.0 1015.3,1189.0 1015.2,1192.0 1014.9,1195.0 1014.5,1198.0 1014.0,1201.0 1013.5,1204.0 1012.9,1207.0 1012.2,1210.0 1011.5,1213.0 1010.8,1216.0 1010.0,1219.0 1009.2,1222.0 1008.4,1225.0 1007.7,1228.0 1006.9,1231.0 1006.3,1234.0 1005.6,1237.0 1005.1,1240.0 1004.6,1243.0 1004.2,1246.0 1003.9,1249.0 1003.8,1252.0 1003.7,1255.0 1003.8,1258.0 1003.9,1261.0 1004.2,1264.0 1004.5,1267.0 1005.0,1270.0 1005.5,1273.0 1006.1,1276.0 1006.7,1279.0 1007.4,1282.0 1008.1,1285.0 1008.9,1288.0 1009.7,1291.0 1010.5,1294.0 1011.2,1297.0 1012.0,1300.0 1012.7,1303.0 1013.3,1306.0 1013.9,1309.0 1014.4,1312.0 1014.9,1315.0 1015.2,1318.0 1015.5,1321.0 1015.6,1324.0 1015.7,1327.0 1015.6,1330.0 1015.5,1333.0 1015.3,1336.0 1014.9,1339.0 1014.5,1342.0 1014.1,1345.0 1013.5,1348.0 1012.9,1351.0 1012.3,1354.0 1011.6,1357.0 1010.9,1360.0 1010.2,1363.0 1009.5,1366.0 1008.8,1369.0 1008.2,1372.0 1007.5,1375.0 1006.9,1378.0 1006.4,1381.0 1006.0,1384.0 1005.6,1387.0 1005.4,1390.0 1005.1,1393.0 1005.0,1396.0 1004.9,1399.0 1004.9,1402.0 1005.1,1405.0 1005.3,1408.0 1005.6,1411.0 1006.0,1414.0" fill="none" stroke="#e0553a" stroke-width="1.1" opacity="0.6"/>
<polyline points="1020.7,1081.0 1021.7,1084.0 1022.8,1087.0 1023.9,1090.0 1024.9,1093.0 1025.8,1096.0 1026.7,1099.0 1027.5,1102.0 1028.2,1105.0 1028.6,1108.0 1028.9,1111.0 1029.1,1114.0 1029.2,1117.0 1029.2,1120.0 1029.1,1123.0 1028.9,1126.0 1028.5,1129.0 1028.0,1132.0 1027.3,1135.0 1026.6,1138.0 1025.9,1141.0 1025.1,1144.0 1024.2,1147.0 1023.4,1150.0 1022.5,1153.0 1021.7,1156.0 1020.9,1159.0 1020.1,1162.0 1019.4,1165.0 1018.7,1168.0 1018.1,1171.0 1017.5,1174.0 1017.1,1177.0 1016.7,1180.0 1016.5,1183.0 1016.3,1186.0 1016.2,1189.0 1016.3,1192.0 1016.4,1195.0 1016.6,1198.0 1016.9,1201.0 1017.3,1204.0 1017.7,1207.0 1018.2,1210.0 1018.8,1213.0 1019.4,1216.0 1020.0,1219.0 1020.6,1222.0 1021.2,1225.0 1021.8,1228.0 1022.4,1231.0 1022.9,1234.0 1023.4,1237.0 1023.8,1240.0 1024.1,1243.0 1024.3,1246.0 1024.6,1249.0 1024.9,1252.0 1025.1,1255.0 1025.2,1258.0 1025.2,1261.0 1025.1,1264.0 1025.0,1267.0 1024.7,1270.0 1024.3,1273.0 1023.9,1276.0 1023.4,1279.0 1022.9,1282.0 1022.3,1285.0 1021.7,1288.0 1021.1,1291.0 1020.5,1294.0 1019.9,1297.0 1019.3,1300.0 1018.7,1303.0 1018.2,1306.0 1017.8,1309.0 1017.5,1312.0 1017.2,1315.0 1017.0,1318.0 1016.9,1321.0 1017.0,1324.0 1017.1,1327.0 1017.3,1330.0 1017.6,1333.0 1018.0,1336.0 1018.5,1339.0 1019.1,1342.0 1019.7,1345.0 1020.4,1348.0 1021.2,1351.0 1022.0,1354.0 1022.9,1357.0 1023.7,1360.0 1024.6,1363.0 1025.5,1366.0 1026.3,1369.0 1026.9,1372.0 1027.5,1375.0 1028.0,1378.0 1028.4,1381.0 1028.8,1384.0 1029.1,1387.0 1029.3,1390.0 1029.2,1393.0 1028.9,1396.0 1028.5,1399.0 1028.0,1402.0 1027.4,1405.0 1026.7,1408.0 1026.0,1411.0 1025.1,1414.0" fill="none" stroke="#e0553a" stroke-width="1.1" opacity="0.6"/>
<polyline points="1020.7,1081.0 1020.3,1084.0 1019.9,1087.0 1019.5,1090.0 1019.2,1093.0 1019.0,1096.0 1018.8,1099.0 1018.6,1102.0 1018.5,1105.0 1018.3,1108.0 1018.2,1111.0 1018.1,1114.0 1018.2,1117.0 1018.4,1120.0 1018.7,1123.0 1019.0,1126.0 1019.3,1129.0 1019.7,1132.0 1020.1,1135.0 1020.6,1138.0 1021.1,1141.0 1021.7,1144.0 1022.3,1147.0 1022.9,1150.0 1023.5,1153.0 1024.1,1156.0 1024.7,1159.0 1025.3,1162.0 1025.8,1165.0 1026.3,1168.0 1026.7,1171.0 1027.0,1174.0 1027.2,1177.0 1027.3,1180.0 1027.4,1183.0 1027.3,1186.0 1027.1,1189.0 1026.9,1192.0 1026.5,1195.0 1026.0,1198.0 1025.5,1201.0 1024.9,1204.0 1024.2,1207.0 1023.4,1210.0 1022.6,1213.0 1021.8,1216.0 1021.0,1219.0 1020.1,1222.0 1019.3,1225.0 1018.4,1228.0 1017.6,1231.0 1016.8,1234.0 1016.1,1237.0 1015.5,1240.0 1014.9,1243.0 1014.4,1246.0 1014.2,1249.0 1014.1,1252.0 1014.1,1255.0 1014.3,1258.0 1014.5,1261.0 1014.8,1264.0 1015.3,1267.0 1015.8,1270.0 1016.4,1273.0 1017.0,1276.0 1017.8,1279.0 1018.6,1282.0 1019.4,1285.0 1020.2,1288.0 1021.1,1291.0 1021.9,1294.0 1022.8,1297.0 1023.6,1300.0 1024.4,1303.0 1025.1,1306.0 1025.8,1309.0 1026.4,1312.0 1026.9,1315.0 1027.3,1318.0 1027.7,1321.0 1027.9,1324.0 1028.1,1327.0 1028.1,1330.0 1028.0,1333.0 1027.9,1336.0 1027.7,1339.0 1027.3,1342.0 1027.0,1345.0 1026.5,1348.0 1026.0,1351.0 1025.4,1354.0 1024.8,1357.0 1024.2,1360.0 1023.6,1363.0 1023.0,1366.0 1022.4,1369.0 1021.7,1372.0 1021.0,1375.0 1020.4,1378.0 1019.8,1381.0 1019.4,1384.0 1019.0,1387.0 1018.7,1390.0 1018.3,1393.0 1017.9,1396.0 1017.6,1399.0 1017.4,1402.0 1017.3,1405.0 1017.3,1408.0 1017.4,1411.0 1017.5,1414.0" fill="none" stroke="#e0553a" stroke-width="1.1" opacity="0.6"/>
<polyline points="1031.8,1081.0 1033.1,1084.0 1034.4,1087.0 1035.7,1090.0 1036.9,1093.0 1038.1,1096.0 1039.2,1099.0 1040.2,1102.0 1041.1,1105.0 1041.6,1108.0 1041.9,1111.0 1042.2,1114.0 1042.3,1117.0 1042.4,1120.0 1042.4,1123.0 1042.2,1126.0 1041.8,1129.0 1041.2,1132.0 1040.5,1135.0 1039.7,1138.0 1038.9,1141.0 1038.0,1144.0 1037.1,1147.0 1036.2,1150.0 1035.2,1153.0 1034.3,1156.0 1033.4,1159.0 1032.6,1162.0 1031.7,1165.0 1031.0,1168.0 1030.3,1171.0 1029.7,1174.0 1029.2,1177.0 1028.8,1180.0 1028.4,1183.0 1028.2,1186.0 1028.0,1189.0 1028.0,1192.0 1028.0,1195.0 1028.1,1198.0 1028.4,1201.0 1028.7,1204.0 1029.0,1207.0 1029.5,1210.0 1029.9,1213.0 1030.4,1216.0 1031.0,1219.0 1031.5,1222.0 1032.0,1225.0 1032.6,1228.0 1033.0,1231.0 1033.5,1234.0 1033.9,1237.0 1034.2,1240.0 1034.4,1243.0 1034.6,1246.0 1034.9,1249.0 1035.3,1252.0 1035.6,1255.0 1035.7,1258.0 1035.8,1261.0 1035.8,1264.0 1035.7,1267.0 1035.5,1270.0 1035.2,1273.0 1034.9,1276.0 1034.5,1279.0 1034.0,1282.0 1033.5,1285.0 1033.0,1288.0 1032.5,1291.0 1031.9,1294.0 1031.4,1297.0 1030.9,1300.0 1030.4,1303.0 1030.0,1306.0 1029.7,1309.0 1029.4,1312.0 1029.2,1315.0 1029.1,1318.0 1029.1,1321.0 1029.2,1324.0 1029.4,1327.0 1029.7,1330.0 1030.1,1333.0 1030.6,1336.0 1031.2,1339.0 1031.9,1342.0 1032.6,1345.0 1033.4,1348.0 1034.3,1351.0 1035.2,1354.0 1036.1,1357.0 1037.1,1360.0 1038.0,1363.0 1039.0,1366.0 1039.8,1369.0 1040.4,1372.0 1041.0,1375.0 1041.4,1378.0 1041.9,1381.0 1042.2,1384.0 1042.5,1387.0 1042.7,1390.0 1042.3,1393.0 1041.8,1396.0 1041.2,1399.0 1040.5,1402.0 1039.7,1405.0 1038.8,1408.0 1037.8,1411.0 1036.7,1414.0" fill="none" stroke="#e0553a" stroke-width="1.1" opacity="0.6"/>
<polyline points="1031.8,1081.0 1031.6,1084.0 1031.5,1087.0 1031.3,1090.0 1031.2,1093.0 1031.2,1096.0 1031.2,1099.0 1031.3,1102.0 1031.4,1105.0 1031.3,1108.0 1031.2,1111.0 1031.2,1114.0 1031.4,1117.0 1031.6,1120.0 1031.9,1123.0 1032.3,1126.0 1032.6,1129.0 1032.9,1132.0 1033.2,1135.0 1033.6,1138.0 1034.1,1141.0 1034.6,1144.0 1035.1,1147.0 1035.7,1150.0 1036.2,1153.0 1036.8,1156.0 1037.3,1159.0 1037.8,1162.0 1038.2,1165.0 1038.6,1168.0 1038.9,1171.0 1039.1,1174.0 1039.3,1177.0 1039.4,1180.0 1039.3,1183.0 1039.2,1186.0 1038.9,1189.0 1038.6,1192.0 1038.1,1195.0 1037.6,1198.0 1037.0,1201.0 1036.3,1204.0 1035.5,1207.0 1034.7,1210.0 1033.8,1213.0 1032.9,1216.0 1032.0,1219.0 1031.0,1222.0 1030.1,1225.0 1029.2,1228.0 1028.3,1231.0 1027.4,1234.0 1026.6,1237.0 1025.9,1240.0 1025.3,1243.0 1024.7,1246.0 1024.4,1249.0 1024.4,1252.0 1024.6,1255.0 1024.8,1258.0 1025.1,1261.0 1025.5,1264.0 1026.0,1267.0 1026.6,1270.0 1027.3,1273.0 1028.0,1276.0 1028.8,1279.0 1029.7,1282.0 1030.6,1285.0 1031.5,1288.0 1032.5,1291.0 1033.4,1294.0 1034.3,1297.0 1035.2,1300.0 1036.1,1303.0 1036.9,1306.0 1037.6,1309.0 1038.3,1312.0 1038.9,1315.0 1039.4,1318.0 1039.9,1321.0 1040.2,1324.0 1040.4,1327.0 1040.6,1330.0 1040.6,1333.0 1040.5,1336.0 1040.4,1339.0 1040.2,1342.0 1039.8,1345.0 1039.5,1348.0 1039.0,1351.0 1038.6,1354.0 1038.1,1357.0 1037.6,1360.0 1037.0,1363.0 1036.5,1366.0 1035.9,1369.0 1035.2,1372.0 1034.5,1375.0 1033.8,1378.0 1033.3,1381.0 1032.8,1384.0 1032.4,1387.0 1032.0,1390.0 1031.4,1393.0 1030.8,1396.0 1030.3,1399.0 1029.9,1402.0 1029.5,1405.0 1029.3,1408.0 1029.2,1411.0 1029.1,1414.0" fill="none" stroke="#e0553a" stroke-width="1.1" opacity="0.6"/>
<polyline points="1042.9,1081.0 1044.4,1084.0 1046.0,1087.0 1047.5,1090.0 1048.9,1093.0 1050.3,1096.0 1051.7,1099.0 1052.9,1102.0 1054.0,1105.0 1054.5,1108.0 1054.9,1111.0 1055.3,1114.0 1055.5,1117.0 1055.6,1120.0 1055.6,1123.0 1055.6,1126.0 1055.1,1129.0 1054.4,1132.0 1053.6,1135.0 1052.7,1138.0 1051.8,1141.0 1050.9,1144.0 1049.9,1147.0 1048.9,1150.0 1047.9,1153.0 1046.9,1156.0 1046.0,1159.0 1045.0,1162.0 1044.1,1165.0 1043.3,1168.0 1042.6,1171.0 1041.9,1174.0 1041.3,1177.0 1040.8,1180.0 1040.4,1183.0 1040.0,1186.0 1039.8,1189.0 1039.7,1192.0 1039.6,1195.0 1039.7,1198.0 1039.8,1201.0 1040.0,1204.0 1040.3,1207.0 1040.7,1210.0 1041.1,1213.0 1041.5,1216.0 1041.9,1219.0 1042.4,1222.0 1042.9,1225.0 1043.3,1228.0 1043.7,1231.0 1044.1,1234.0 1044.4,1237.0 1044.6,1240.0 1044.8,1243.0 1044.9,1246.0 1045.1,1249.0 1045.6,1252.0 1046.0,1255.0 1046.2,1258.0 1046.4,1261.0 1046.5,1264.0 1046.4,1267.0 1046.3,1270.0 1046.1,1273.0 1045.9,1276.0 1045.5,1279.0 1045.2,1282.0 1044.7,1285.0 1044.3,1288.0 1043.8,1291.0 1043.4,1294.0 1042.9,1297.0 1042.5,1300.0 1042.1,1303.0 1041.8,1306.0 1041.5,1309.0 1041.4,1312.0 1041.2,1315.0 1041.2,1318.0 1041.3,1321.0 1041.5,1324.0 1041.8,1327.0 1042.2,1330.0 1042.7,1333.0 1043.3,1336.0 1043.9,1339.0 1044.7,1342.0 1045.5,1345.0 1046.4,1348.0 1047.3,1351.0 1048.3,1354.0 1049.3,1357.0 1050.4,1360.0 1051.4,1363.0 1052.5,1366.0 1053.3,1369.0 1053.9,1372.0 1054.4,1375.0 1054.9,1378.0 1055.3,1381.0 1055.6,1384.0 1055.9,1387.0 1056.0,1390.0 1055.5,1393.0 1054.7,1396.0 1053.9,1399.0 1052.9,1402.0 1051.9,1405.0 1050.8,1408.0 1049.5,1411.0 1048.2,1414.0" fill="none" stroke="#e0553a" stroke-width="1.1" opacity="0.6"/>
<polyline points="1042.9,1081.0 1043.0,1084.0 1043.0,1087.0 1043.1,1090.0 1043.3,1093.0 1043.5,1096.0 1043.7,1099.0 1044.0,1102.0 1044.3,1105.0 1044.2,1108.0 1044.2,1111.0 1044.3,1114.0 1044.5,1117.0 1044.8,1120.0 1045.2,1123.0 1045.6,1126.0 1045.9,1129.0 1046.1,1132.0 1046.4,1135.0 1046.7,1138.0 1047.1,1141.0 1047.5,1144.0 1048.0,1147.0 1048.4,1150.0 1048.9,1153.0 1049.4,1156.0 1049.8,1159.0 1050.2,1162.0 1050.6,1165.0 1050.9,1168.0 1051.2,1171.0 1051.3,1174.0 1051.4,1177.0 1051.4,1180.0 1051.3,1183.0 1051.0,1186.0 1050.7,1189.0 1050.3,1192.0 1049.7,1195.0 1049.1,1198.0 1048.4,1201.0 1047.6,1204.0 1046.8,1207.0 1045.9,1210.0 1044.9,1213.0 1043.9,1216.0 1042.9,1219.0 1041.9,1222.0 1040.9,1225.0 1039.9,1228.0 1038.9,1231.0 1038.0,1234.0 1037.1,1237.0 1036.3,1240.0 1035.6,1243.0 1035.0,1246.0 1034.7,1249.0 1034.8,1252.0 1035.0,1255.0 1035.3,1258.0 1035.7,1261.0 1036.2,1264.0 1036.8,1267.0 1037.4,1270.0 1038.2,1273.0 1039.0,1276.0 1039.9,1279.0 1040.8,1282.0 1041.8,1285.0 1042.8,1288.0 1043.8,1291.0 1044.9,1294.0 1045.9,1297.0 1046.8,1300.0 1047.8,1303.0 1048.7,1306.0 1049.5,1309.0 1050.3,1312.0 1050.9,1315.0 1051.5,1318.0 1052.1,1321.0 1052.5,1324.0 1052.8,1327.0 1053.0,1330.0 1053.1,1333.0 1053.2,1336.0 1053.1,1339.0 1053.0,1342.0 1052.7,1345.0 1052.5,1348.0 1052.1,1351.0 1051.7,1354.0 1051.3,1357.0 1050.9,1360.0 1050.4,1363.0 1050.0,1366.0 1049.5,1369.0 1048.7,1372.0 1048.0,1375.0 1047.3,1378.0 1046.7,1381.0 1046.2,1384.0 1045.7,1387.0 1045.4,1390.0 1044.6,1393.0 1043.7,1396.0 1043.0,1399.0 1042.3,1402.0 1041.8,1405.0 1041.3,1408.0 1040.9,1411.0 1040.6,1414.0" fill="none" stroke="#e0553a" stroke-width="1.1" opacity="0.6"/>
<polyline points="1054.0,1081.0 1055.8,1084.0 1057.5,1087.0 1059.3,1090.0 1060.9,1093.0 1062.6,1096.0 1064.2,1099.0 1065.7,1102.0 1066.9,1105.0 1067.5,1108.0 1068.0,1111.0 1068.3,1114.0 1068.6,1117.0 1068.8,1120.0 1068.9,1123.0 1068.9,1126.0 1068.4,1129.0 1067.6,1132.0 1066.7,1135.0 1065.8,1138.0 1064.8,1141.0 1063.8,1144.0 1062.8,1147.0 1061.7,1150.0 1060.6,1153.0 1059.5,1156.0 1058.5,1159.0 1057.5,1162.0 1056.5,1165.0 1055.6,1168.0 1054.8,1171.0 1054.0,1174.0 1053.4,1177.0 1052.8,1180.0 1052.3,1183.0 1051.9,1186.0 1051.6,1189.0 1051.4,1192.0 1051.2,1195.0 1051.2,1198.0 1051.3,1201.0 1051.4,1204.0 1051.6,1207.0 1051.9,1210.0 1052.2,1213.0 1052.6,1216.0 1052.9,1219.0 1053.3,1222.0 1053.7,1225.0 1054.0,1228.0 1054.4,1231.0 1054.7,1234.0 1054.9,1237.0 1055.0,1240.0 1055.1,1243.0 1055.1,1246.0 1055.4,1249.0 1056.0,1252.0 1056.4,1255.0 1056.7,1258.0 1057.0,1261.0 1057.1,1264.0 1057.2,1267.0 1057.2,1270.0 1057.0,1273.0 1056.9,1276.0 1056.6,1279.0 1056.3,1282.0 1056.0,1285.0 1055.6,1288.0 1055.2,1291.0 1054.8,1294.0 1054.5,1297.0 1054.1,1300.0 1053.8,1303.0 1053.6,1306.0 1053.4,1309.0 1053.3,1312.0 1053.3,1315.0 1053.4,1318.0 1053.5,1321.0 1053.8,1324.0 1054.2,1327.0 1054.7,1330.0 1055.2,1333.0 1055.9,1336.0 1056.6,1339.0 1057.5,1342.0 1058.4,1345.0 1059.4,1348.0 1060.4,1351.0 1061.5,1354.0 1062.6,1357.0 1063.7,1360.0 1064.8,1363.0 1066.0,1366.0 1066.9,1369.0 1067.4,1372.0 1067.9,1375.0 1068.4,1378.0 1068.7,1381.0 1069.0,1384.0 1069.2,1387.0 1069.3,1390.0 1068.7,1393.0 1067.7,1396.0 1066.6,1399.0 1065.4,1402.0 1064.1,1405.0 1062.8,1408.0 1061.3,1411.0 1059.8,1414.0" fill="none" stroke="#e0553a" stroke-width="1.1" opacity="0.6"/>
<polyline points="1054.0,1081.0 1054.3,1084.0 1054.6,1087.0 1054.9,1090.0 1055.3,1093.0 1055.7,1096.0 1056.2,1099.0 1056.8,1102.0 1057.2,1105.0 1057.2,1108.0 1057.2,1111.0 1057.4,1114.0 1057.6,1117.0 1058.0,1120.0 1058.4,1123.0 1059.0,1126.0 1059.2,1129.0 1059.3,1132.0 1059.5,1135.0 1059.7,1138.0 1060.1,1141.0 1060.4,1144.0 1060.8,1147.0 1061.2,1150.0 1061.6,1153.0 1062.0,1156.0 1062.4,1159.0 1062.7,1162.0 1063.0,1165.0 1063.2,1168.0 1063.4,1171.0 1063.5,1174.0 1063.5,1177.0 1063.4,1180.0 1063.2,1183.0 1062.9,1186.0 1062.5,1189.0 1062.0,1192.0 1061.4,1195.0 1060.7,1198.0 1059.9,1201.0 1059.0,1204.0 1058.1,1207.0 1057.1,1210.0 1056.1,1213.0 1055.0,1216.0 1053.9,1219.0 1052.8,1222.0 1051.7,1225.0 1050.6,1228.0 1049.6,1231.0 1048.6,1234.0 1047.6,1237.0 1046.8,1240.0 1046.0,1243.0 1045.2,1246.0 1044.9,1249.0 1045.1,1252.0 1045.4,1255.0 1045.8,1258.0 1046.3,1261.0 1046.8,1264.0 1047.5,1267.0 1048.3,1270.0 1049.1,1273.0 1050.0,1276.0 1051.0,1279.0 1052.0,1282.0 1053.0,1285.0 1054.1,1288.0 1055.2,1291.0 1056.3,1294.0 1057.4,1297.0 1058.5,1300.0 1059.5,1303.0 1060.5,1306.0 1061.4,1309.0 1062.2,1312.0 1063.0,1315.0 1063.7,1318.0 1064.3,1321.0 1064.8,1324.0 1065.2,1327.0 1065.5,1330.0 1065.7,1333.0 1065.8,1336.0 1065.8,1339.0 1065.8,1342.0 1065.6,1345.0 1065.4,1348.0 1065.2,1351.0 1064.9,1354.0 1064.5,1357.0 1064.2,1360.0 1063.9,1363.0 1063.5,1366.0 1063.0,1369.0 1062.2,1372.0 1061.5,1375.0 1060.8,1378.0 1060.1,1381.0 1059.6,1384.0 1059.1,1387.0 1058.7,1390.0 1057.8,1393.0 1056.7,1396.0 1055.7,1399.0 1054.8,1402.0 1054.0,1405.0 1053.3,1408.0 1052.7,1411.0 1052.2,1414.0" fill="none" stroke="#e0553a" stroke-width="1.1" opacity="0.6"/>
<polyline points="1106.0,1081.0 1105.1,1084.0 1104.2,1087.0 1103.3,1090.0 1102.3,1093.0 1101.4,1096.0 1100.5,1099.0 1099.5,1102.0 1098.8,1105.0 1098.8,1108.0 1098.7,1111.0 1098.7,1114.0 1098.6,1117.0 1098.5,1120.0 1098.4,1123.0 1098.2,1126.0 1098.3,1129.0 1098.6,1132.0 1098.7,1135.0 1098.9,1138.0 1099.0,1141.0 1099.1,1144.0 1099.1,1147.0 1099.1,1150.0 1099.0,1153.0 1098.9,1156.0 1098.8,1159.0 1098.6,1162.0 1098.3,1165.0 1098.1,1168.0 1097.7,1171.0 1097.4,1174.0 1097.0,1177.0 1096.6,1180.0 1096.2,1183.0 1095.7,1186.0 1095.3,1189.0 1094.8,1192.0 1094.2,1195.0 1093.7,1198.0 1093.1,1201.0 1092.5,1204.0 1091.9,1207.0 1091.3,1210.0 1090.7,1213.0 1090.1,1216.0 1089.4,1219.0 1088.8,1222.0 1088.1,1225.0 1087.5,1228.0 1086.9,1231.0 1086.3,1234.0 1085.7,1237.0 1085.1,1240.0 1084.5,1243.0 1083.9,1246.0 1083.4,1249.0 1082.9,1252.0 1082.4,1255.0 1082.0,1258.0 1081.6,1261.0 1081.2,1264.0 1080.8,1267.0 1080.5,1270.0 1080.3,1273.0 1080.0,1276.0 1079.8,1279.0 1079.7,1282.0 1079.6,1285.0 1079.5,1288.0 1079.5,1291.0 1079.5,1294.0 1079.6,1297.0 1079.7,1300.0 1079.8,1303.0 1080.0,1306.0 1080.3,1309.0 1080.5,1312.0 1080.9,1315.0 1081.3,1318.0 1081.7,1321.0 1082.2,1324.0 1082.7,1327.0 1083.2,1330.0 1083.8,1333.0 1084.4,1336.0 1085.0,1339.0 1085.6,1342.0 1086.2,1345.0 1086.9,1348.0 1087.6,1351.0 1088.3,1354.0 1088.9,1357.0 1089.6,1360.0 1090.3,1363.0 1091.0,1366.0 1091.9,1369.0 1093.0,1372.0 1094.2,1375.0 1095.3,1378.0 1096.4,1381.0 1097.5,1384.0 1098.6,1387.0 1099.6,1390.0 1101.4,1393.0 1103.5,1396.0 1105.4,1399.0 1107.4,1402.0 1109.3,1405.0 1111.2,1408.0 1113.0,1411.0 1114.8,1414.0" fill="none" stroke="#e2452a" stroke-width="1.4" opacity="0.78"/>
<polyline points="1106.0,1081.0 1103.8,1084.0 1101.6,1087.0 1099.5,1090.0 1097.3,1093.0 1095.1,1096.0 1093.0,1099.0 1090.9,1102.0 1089.0,1105.0 1087.9,1108.0 1086.9,1111.0 1085.9,1114.0 1084.9,1117.0 1083.9,1120.0 1083.0,1123.0 1082.1,1126.0 1081.6,1129.0 1081.3,1132.0 1081.0,1135.0 1080.7,1138.0 1080.5,1141.0 1080.3,1144.0 1080.2,1147.0 1080.1,1150.0 1080.0,1153.0 1080.0,1156.0 1080.1,1159.0 1080.1,1162.0 1080.3,1165.0 1080.4,1168.0 1080.6,1171.0 1080.9,1174.0 1081.1,1177.0 1081.5,1180.0 1081.8,1183.0 1082.3,1186.0 1082.7,1189.0 1083.2,1192.0 1083.8,1195.0 1084.3,1198.0 1084.9,1201.0 1085.5,1204.0 1086.1,1207.0 1086.7,1210.0 1087.3,1213.0 1087.9,1216.0 1088.6,1219.0 1089.2,1222.0 1089.9,1225.0 1090.5,1228.0 1091.1,1231.0 1091.7,1234.0 1092.3,1237.0 1092.9,1240.0 1093.5,1243.0 1094.1,1246.0 1094.6,1249.0 1095.1,1252.0 1095.6,1255.0 1096.0,1258.0 1096.4,1261.0 1096.8,1264.0 1097.2,1267.0 1097.5,1270.0 1097.7,1273.0 1098.0,1276.0 1098.2,1279.0 1098.3,1282.0 1098.4,1285.0 1098.5,1288.0 1098.5,1291.0 1098.5,1294.0 1098.4,1297.0 1098.3,1300.0 1098.2,1303.0 1098.0,1306.0 1097.7,1309.0 1097.5,1312.0 1097.2,1315.0 1096.9,1318.0 1096.6,1321.0 1096.2,1324.0 1095.8,1327.0 1095.4,1330.0 1094.9,1333.0 1094.5,1336.0 1094.0,1339.0 1093.4,1342.0 1092.9,1345.0 1092.4,1348.0 1091.8,1351.0 1091.2,1354.0 1090.6,1357.0 1090.1,1360.0 1089.5,1363.0 1088.9,1366.0 1088.5,1369.0 1088.4,1372.0 1088.3,1375.0 1088.2,1378.0 1088.2,1381.0 1088.1,1384.0 1088.1,1387.0 1088.1,1390.0 1088.9,1393.0 1090.0,1396.0 1091.1,1399.0 1092.3,1402.0 1093.4,1405.0 1094.6,1408.0 1095.9,1411.0 1097.2,1414.0" fill="none" stroke="#e2452a" stroke-width="1.4" opacity="0.78"/>
<polyline points="1124.4,1081.0 1124.1,1084.0 1123.8,1087.0 1123.5,1090.0 1123.2,1093.0 1122.9,1096.0 1122.6,1099.0 1122.2,1102.0 1122.0,1105.0 1122.2,1108.0 1122.4,1111.0 1122.6,1114.0 1122.7,1117.0 1122.8,1120.0 1122.9,1123.0 1122.9,1126.0 1123.1,1129.0 1123.4,1132.0 1123.6,1135.0 1123.8,1138.0 1123.9,1141.0 1124.0,1144.0 1124.0,1147.0 1124.0,1150.0 1124.0,1153.0 1123.9,1156.0 1123.8,1159.0 1123.6,1162.0 1123.4,1165.0 1123.2,1168.0 1122.9,1171.0 1122.5,1174.0 1122.2,1177.0 1121.8,1180.0 1121.4,1183.0 1120.9,1186.0 1120.5,1189.0 1120.0,1192.0 1119.4,1195.0 1118.9,1198.0 1118.3,1201.0 1117.7,1204.0 1117.1,1207.0 1116.5,1210.0 1115.9,1213.0 1115.3,1216.0 1114.6,1219.0 1114.0,1222.0 1113.3,1225.0 1112.7,1228.0 1112.1,1231.0 1111.5,1234.0 1110.9,1237.0 1110.3,1240.0 1109.7,1243.0 1109.1,1246.0 1108.6,1249.0 1108.1,1252.0 1107.6,1255.0 1107.2,1258.0 1106.8,1261.0 1106.4,1264.0 1106.0,1267.0 1105.7,1270.0 1105.5,1273.0 1105.2,1276.0 1105.0,1279.0 1104.9,1282.0 1104.8,1285.0 1104.7,1288.0 1104.7,1291.0 1104.7,1294.0 1104.8,1297.0 1104.9,1300.0 1105.0,1303.0 1105.2,1306.0 1105.5,1309.0 1105.7,1312.0 1106.1,1315.0 1106.4,1318.0 1106.8,1321.0 1107.3,1324.0 1107.8,1327.0 1108.3,1330.0 1108.8,1333.0 1109.4,1336.0 1110.0,1339.0 1110.6,1342.0 1111.2,1345.0 1111.8,1348.0 1112.5,1351.0 1113.2,1354.0 1113.8,1357.0 1114.5,1360.0 1115.2,1363.0 1115.8,1366.0 1116.6,1369.0 1117.5,1372.0 1118.5,1375.0 1119.4,1378.0 1120.3,1381.0 1121.2,1384.0 1122.0,1387.0 1122.9,1390.0 1124.2,1393.0 1125.6,1396.0 1126.9,1399.0 1128.3,1402.0 1129.5,1405.0 1130.8,1408.0 1132.0,1411.0 1133.2,1414.0" fill="none" stroke="#e2452a" stroke-width="1.4" opacity="0.78"/>
<polyline points="1124.4,1081.0 1122.8,1084.0 1121.3,1087.0 1119.7,1090.0 1118.2,1093.0 1116.6,1096.0 1115.1,1099.0 1113.6,1102.0 1112.3,1105.0 1111.4,1108.0 1110.6,1111.0 1109.8,1114.0 1109.0,1117.0 1108.2,1120.0 1107.5,1123.0 1106.9,1126.0 1106.4,1129.0 1106.1,1132.0 1105.8,1135.0 1105.6,1138.0 1105.4,1141.0 1105.2,1144.0 1105.1,1147.0 1105.0,1150.0 1105.0,1153.0 1105.0,1156.0 1105.1,1159.0 1105.2,1162.0 1105.3,1165.0 1105.5,1168.0 1105.8,1171.0 1106.0,1174.0 1106.3,1177.0 1106.7,1180.0 1107.0,1183.0 1107.5,1186.0 1107.9,1189.0 1108.4,1192.0 1109.0,1195.0 1109.5,1198.0 1110.1,1201.0 1110.7,1204.0 1111.3,1207.0 1111.9,1210.0 1112.5,1213.0 1113.1,1216.0 1113.8,1219.0 1114.4,1222.0 1115.1,1225.0 1115.7,1228.0 1116.3,1231.0 1116.9,1234.0 1117.5,1237.0 1118.1,1240.0 1118.7,1243.0 1119.3,1246.0 1119.8,1249.0 1120.3,1252.0 1120.8,1255.0 1121.2,1258.0 1121.6,1261.0 1122.0,1264.0 1122.4,1267.0 1122.7,1270.0 1122.9,1273.0 1123.2,1276.0 1123.4,1279.0 1123.5,1282.0 1123.6,1285.0 1123.7,1288.0 1123.7,1291.0 1123.7,1294.0 1123.6,1297.0 1123.5,1300.0 1123.4,1303.0 1123.2,1306.0 1122.9,1309.0 1122.7,1312.0 1122.4,1315.0 1122.1,1318.0 1121.7,1321.0 1121.3,1324.0 1120.9,1327.0 1120.5,1330.0 1120.0,1333.0 1119.5,1336.0 1119.0,1339.0 1118.4,1342.0 1117.9,1345.0 1117.3,1348.0 1116.7,1351.0 1116.1,1354.0 1115.5,1357.0 1114.9,1360.0 1114.3,1363.0 1113.7,1366.0 1113.2,1369.0 1112.9,1372.0 1112.6,1375.0 1112.3,1378.0 1112.1,1381.0 1111.8,1384.0 1111.6,1387.0 1111.4,1390.0 1111.7,1393.0 1112.1,1396.0 1112.6,1399.0 1113.1,1402.0 1113.7,1405.0 1114.3,1408.0 1114.9,1411.0 1115.6,1414.0" fill="none" stroke="#e2452a" stroke-width="1.4" opacity="0.78"/>
<polyline points="1142.8,1081.0 1143.1,1084.0 1143.5,1087.0 1143.8,1090.0 1144.1,1093.0 1144.4,1096.0 1144.7,1099.0 1145.0,1102.0 1145.2,1105.0 1145.7,1108.0 1146.1,1111.0 1146.5,1114.0 1146.8,1117.0 1147.1,1120.0 1147.4,1123.0 1147.7,1126.0 1148.0,1129.0 1148.2,1132.0 1148.5,1135.0 1148.7,1138.0 1148.8,1141.0 1148.9,1144.0 1149.0,1147.0 1149.0,1150.0 1149.0,1153.0 1148.9,1156.0 1148.8,1159.0 1148.7,1162.0 1148.5,1165.0 1148.3,1168.0 1148.0,1171.0 1147.7,1174.0 1147.3,1177.0 1147.0,1180.0 1146.6,1183.0 1146.1,1186.0 1145.7,1189.0 1145.2,1192.0 1144.6,1195.0 1144.1,1198.0 1143.5,1201.0 1142.9,1204.0 1142.3,1207.0 1141.7,1210.0 1141.1,1213.0 1140.5,1216.0 1139.8,1219.0 1139.2,1222.0 1138.5,1225.0 1137.9,1228.0 1137.3,1231.0 1136.7,1234.0 1136.1,1237.0 1135.5,1240.0 1134.9,1243.0 1134.3,1246.0 1133.8,1249.0 1133.3,1252.0 1132.8,1255.0 1132.4,1258.0 1132.0,1261.0 1131.6,1264.0 1131.2,1267.0 1130.9,1270.0 1130.7,1273.0 1130.4,1276.0 1130.2,1279.0 1130.1,1282.0 1130.0,1285.0 1129.9,1288.0 1129.9,1291.0 1129.9,1294.0 1130.0,1297.0 1130.1,1300.0 1130.2,1303.0 1130.4,1306.0 1130.7,1309.0 1130.9,1312.0 1131.2,1315.0 1131.6,1318.0 1132.0,1321.0 1132.4,1324.0 1132.9,1327.0 1133.4,1330.0 1133.9,1333.0 1134.4,1336.0 1135.0,1339.0 1135.6,1342.0 1136.2,1345.0 1136.8,1348.0 1137.4,1351.0 1138.1,1354.0 1138.7,1357.0 1139.4,1360.0 1140.0,1363.0 1140.7,1366.0 1141.3,1369.0 1142.1,1372.0 1142.8,1375.0 1143.5,1378.0 1144.2,1381.0 1144.9,1384.0 1145.5,1387.0 1146.1,1390.0 1146.9,1393.0 1147.7,1396.0 1148.4,1399.0 1149.1,1402.0 1149.8,1405.0 1150.4,1408.0 1151.1,1411.0 1151.6,1414.0" fill="none" stroke="#e2452a" stroke-width="1.4" opacity="0.78"/>
<polyline points="1142.8,1081.0 1141.9,1084.0 1140.9,1087.0 1140.0,1090.0 1139.0,1093.0 1138.1,1096.0 1137.2,1099.0 1136.3,1102.0 1135.5,1105.0 1134.9,1108.0 1134.2,1111.0 1133.6,1114.0 1133.1,1117.0 1132.6,1120.0 1132.1,1123.0 1131.6,1126.0 1131.2,1129.0 1130.9,1132.0 1130.7,1135.0 1130.5,1138.0 1130.3,1141.0 1130.2,1144.0 1130.1,1147.0 1130.0,1150.0 1130.0,1153.0 1130.1,1156.0 1130.1,1159.0 1130.3,1162.0 1130.4,1165.0 1130.6,1168.0 1130.9,1171.0 1131.2,1174.0 1131.5,1177.0 1131.8,1180.0 1132.2,1183.0 1132.7,1186.0 1133.1,1189.0 1133.6,1192.0 1134.2,1195.0 1134.7,1198.0 1135.3,1201.0 1135.9,1204.0 1136.5,1207.0 1137.1,1210.0 1137.7,1213.0 1138.3,1216.0 1139.0,1219.0 1139.6,1222.0 1140.3,1225.0 1140.9,1228.0 1141.5,1231.0 1142.1,1234.0 1142.7,1237.0 1143.3,1240.0 1143.9,1243.0 1144.5,1246.0 1145.0,1249.0 1145.5,1252.0 1146.0,1255.0 1146.4,1258.0 1146.8,1261.0 1147.2,1264.0 1147.6,1267.0 1147.9,1270.0 1148.1,1273.0 1148.4,1276.0 1148.6,1279.0 1148.7,1282.0 1148.8,1285.0 1148.9,1288.0 1148.9,1291.0 1148.9,1294.0 1148.8,1297.0 1148.7,1300.0 1148.6,1303.0 1148.4,1306.0 1148.1,1309.0 1147.9,1312.0 1147.6,1315.0 1147.2,1318.0 1146.9,1321.0 1146.4,1324.0 1146.0,1327.0 1145.5,1330.0 1145.1,1333.0 1144.5,1336.0 1144.0,1339.0 1143.4,1342.0 1142.9,1345.0 1142.3,1348.0 1141.7,1351.0 1141.0,1354.0 1140.4,1357.0 1139.8,1360.0 1139.2,1363.0 1138.5,1366.0 1137.9,1369.0 1137.4,1372.0 1136.9,1375.0 1136.4,1378.0 1135.9,1381.0 1135.5,1384.0 1135.0,1387.0 1134.6,1390.0 1134.4,1393.0 1134.2,1396.0 1134.1,1399.0 1134.0,1402.0 1133.9,1405.0 1133.9,1408.0 1133.9,1411.0 1134.0,1414.0" fill="none" stroke="#e2452a" stroke-width="1.4" opacity="0.78"/>
<polyline points="1161.2,1081.0 1162.1,1084.0 1163.1,1087.0 1164.0,1090.0 1165.0,1093.0 1165.9,1096.0 1166.8,1099.0 1167.7,1102.0 1168.5,1105.0 1169.1,1108.0 1169.8,1111.0 1170.4,1114.0 1170.9,1117.0 1171.4,1120.0 1171.9,1123.0 1172.4,1126.0 1172.8,1129.0 1173.1,1132.0 1173.3,1135.0 1173.5,1138.0 1173.7,1141.0 1173.8,1144.0 1173.9,1147.0 1174.0,1150.0 1174.0,1153.0 1173.9,1156.0 1173.9,1159.0 1173.7,1162.0 1173.6,1165.0 1173.4,1168.0 1173.1,1171.0 1172.8,1174.0 1172.5,1177.0 1172.2,1180.0 1171.8,1183.0 1171.3,1186.0 1170.9,1189.0 1170.4,1192.0 1169.8,1195.0 1169.3,1198.0 1168.7,1201.0 1168.1,1204.0 1167.5,1207.0 1166.9,1210.0 1166.3,1213.0 1165.7,1216.0 1165.0,1219.0 1164.4,1222.0 1163.7,1225.0 1163.1,1228.0 1162.5,1231.0 1161.9,1234.0 1161.3,1237.0 1160.7,1240.0 1160.1,1243.0 1159.5,1246.0 1159.0,1249.0 1158.5,1252.0 1158.0,1255.0 1157.6,1258.0 1157.2,1261.0 1156.8,1264.0 1156.4,1267.0 1156.1,1270.0 1155.9,1273.0 1155.6,1276.0 1155.4,1279.0 1155.3,1282.0 1155.2,1285.0 1155.1,1288.0 1155.1,1291.0 1155.1,1294.0 1155.2,1297.0 1155.3,1300.0 1155.4,1303.0 1155.6,1306.0 1155.9,1309.0 1156.1,1312.0 1156.4,1315.0 1156.8,1318.0 1157.1,1321.0 1157.6,1324.0 1158.0,1327.0 1158.5,1330.0 1158.9,1333.0 1159.5,1336.0 1160.0,1339.0 1160.6,1342.0 1161.1,1345.0 1161.7,1348.0 1162.3,1351.0 1163.0,1354.0 1163.6,1357.0 1164.2,1360.0 1164.8,1363.0 1165.5,1366.0 1166.1,1369.0 1166.6,1372.0 1167.1,1375.0 1167.6,1378.0 1168.1,1381.0 1168.5,1384.0 1169.0,1387.0 1169.4,1390.0 1169.6,1393.0 1169.8,1396.0 1169.9,1399.0 1170.0,1402.0 1170.1,1405.0 1170.1,1408.0 1170.1,1411.0 1170.0,1414.0" fill="none" stroke="#e2452a" stroke-width="1.4" opacity="0.78"/>
<polyline points="1161.2,1081.0 1160.9,1084.0 1160.5,1087.0 1160.2,1090.0 1159.9,1093.0 1159.6,1096.0 1159.3,1099.0 1159.0,1102.0 1158.8,1105.0 1158.3,1108.0 1157.9,1111.0 1157.5,1114.0 1157.2,1117.0 1156.9,1120.0 1156.6,1123.0 1156.3,1126.0 1156.0,1129.0 1155.8,1132.0 1155.5,1135.0 1155.3,1138.0 1155.2,1141.0 1155.1,1144.0 1155.0,1147.0 1155.0,1150.0 1155.0,1153.0 1155.1,1156.0 1155.2,1159.0 1155.3,1162.0 1155.5,1165.0 1155.7,1168.0 1156.0,1171.0 1156.3,1174.0 1156.7,1177.0 1157.0,1180.0 1157.4,1183.0 1157.9,1186.0 1158.3,1189.0 1158.8,1192.0 1159.4,1195.0 1159.9,1198.0 1160.5,1201.0 1161.1,1204.0 1161.7,1207.0 1162.3,1210.0 1162.9,1213.0 1163.5,1216.0 1164.2,1219.0 1164.8,1222.0 1165.5,1225.0 1166.1,1228.0 1166.7,1231.0 1167.3,1234.0 1167.9,1237.0 1168.5,1240.0 1169.1,1243.0 1169.7,1246.0 1170.2,1249.0 1170.7,1252.0 1171.2,1255.0 1171.6,1258.0 1172.0,1261.0 1172.4,1264.0 1172.8,1267.0 1173.1,1270.0 1173.3,1273.0 1173.6,1276.0 1173.8,1279.0 1173.9,1282.0 1174.0,1285.0 1174.1,1288.0 1174.1,1291.0 1174.1,1294.0 1174.0,1297.0 1173.9,1300.0 1173.8,1303.0 1173.6,1306.0 1173.3,1309.0 1173.1,1312.0 1172.8,1315.0 1172.4,1318.0 1172.0,1321.0 1171.6,1324.0 1171.1,1327.0 1170.6,1330.0 1170.1,1333.0 1169.6,1336.0 1169.0,1339.0 1168.4,1342.0 1167.8,1345.0 1167.2,1348.0 1166.6,1351.0 1165.9,1354.0 1165.3,1357.0 1164.6,1360.0 1164.0,1363.0 1163.3,1366.0 1162.7,1369.0 1161.9,1372.0 1161.2,1375.0 1160.5,1378.0 1159.8,1381.0 1159.1,1384.0 1158.5,1387.0 1157.9,1390.0 1157.1,1393.0 1156.3,1396.0 1155.6,1399.0 1154.9,1402.0 1154.2,1405.0 1153.6,1408.0 1152.9,1411.0 1152.4,1414.0" fill="none" stroke="#e2452a" stroke-width="1.4" opacity="0.78"/>
<polyline points="1179.6,1081.0 1181.2,1084.0 1182.7,1087.0 1184.3,1090.0 1185.8,1093.0 1187.4,1096.0 1188.9,1099.0 1190.4,1102.0 1191.7,1105.0 1192.6,1108.0 1193.4,1111.0 1194.2,1114.0 1195.0,1117.0 1195.8,1120.0 1196.5,1123.0 1197.1,1126.0 1197.6,1129.0 1197.9,1132.0 1198.2,1135.0 1198.4,1138.0 1198.6,1141.0 1198.8,1144.0 1198.9,1147.0 1199.0,1150.0 1199.0,1153.0 1199.0,1156.0 1198.9,1159.0 1198.8,1162.0 1198.7,1165.0 1198.5,1168.0 1198.2,1171.0 1198.0,1174.0 1197.7,1177.0 1197.3,1180.0 1197.0,1183.0 1196.5,1186.0 1196.1,1189.0 1195.6,1192.0 1195.0,1195.0 1194.5,1198.0 1193.9,1201.0 1193.3,1204.0 1192.7,1207.0 1192.1,1210.0 1191.5,1213.0 1190.9,1216.0 1190.2,1219.0 1189.6,1222.0 1188.9,1225.0 1188.3,1228.0 1187.7,1231.0 1187.1,1234.0 1186.5,1237.0 1185.9,1240.0 1185.3,1243.0 1184.7,1246.0 1184.2,1249.0 1183.7,1252.0 1183.2,1255.0 1182.8,1258.0 1182.4,1261.0 1182.0,1264.0 1181.6,1267.0 1181.3,1270.0 1181.1,1273.0 1180.8,1276.0 1180.6,1279.0 1180.5,1282.0 1180.4,1285.0 1180.3,1288.0 1180.3,1291.0 1180.3,1294.0 1180.4,1297.0 1180.5,1300.0 1180.6,1303.0 1180.8,1306.0 1181.1,1309.0 1181.3,1312.0 1181.6,1315.0 1181.9,1318.0 1182.3,1321.0 1182.7,1324.0 1183.1,1327.0 1183.5,1330.0 1184.0,1333.0 1184.5,1336.0 1185.0,1339.0 1185.6,1342.0 1186.1,1345.0 1186.7,1348.0 1187.3,1351.0 1187.9,1354.0 1188.5,1357.0 1189.1,1360.0 1189.7,1363.0 1190.3,1366.0 1190.8,1369.0 1191.1,1372.0 1191.4,1375.0 1191.7,1378.0 1191.9,1381.0 1192.2,1384.0 1192.4,1387.0 1192.6,1390.0 1192.3,1393.0 1191.9,1396.0 1191.4,1399.0 1190.9,1402.0 1190.3,1405.0 1189.7,1408.0 1189.1,1411.0 1188.4,1414.0" fill="none" stroke="#e2452a" stroke-width="1.4" opacity="0.78"/>
<polyline points="1179.6,1081.0 1179.9,1084.0 1180.2,1087.0 1180.5,1090.0 1180.8,1093.0 1181.1,1096.0 1181.4,1099.0 1181.8,1102.0 1182.0,1105.0 1181.8,1108.0 1181.6,1111.0 1181.4,1114.0 1181.3,1117.0 1181.2,1120.0 1181.1,1123.0 1181.1,1126.0 1180.9,1129.0 1180.6,1132.0 1180.4,1135.0 1180.2,1138.0 1180.1,1141.0 1180.0,1144.0 1180.0,1147.0 1180.0,1150.0 1180.0,1153.0 1180.1,1156.0 1180.2,1159.0 1180.4,1162.0 1180.6,1165.0 1180.8,1168.0 1181.1,1171.0 1181.5,1174.0 1181.8,1177.0 1182.2,1180.0 1182.6,1183.0 1183.1,1186.0 1183.5,1189.0 1184.0,1192.0 1184.6,1195.0 1185.1,1198.0 1185.7,1201.0 1186.3,1204.0 1186.9,1207.0 1187.5,1210.0 1188.1,1213.0 1188.7,1216.0 1189.4,1219.0 1190.0,1222.0 1190.7,1225.0 1191.3,1228.0 1191.9,1231.0 1192.5,1234.0 1193.1,1237.0 1193.7,1240.0 1194.3,1243.0 1194.9,1246.0 1195.4,1249.0 1195.9,1252.0 1196.4,1255.0 1196.8,1258.0 1197.2,1261.0 1197.6,1264.0 1198.0,1267.0 1198.3,1270.0 1198.5,1273.0 1198.8,1276.0 1199.0,1279.0 1199.1,1282.0 1199.2,1285.0 1199.3,1288.0 1199.3,1291.0 1199.3,1294.0 1199.2,1297.0 1199.1,1300.0 1199.0,1303.0 1198.8,1306.0 1198.5,1309.0 1198.3,1312.0 1197.9,1315.0 1197.6,1318.0 1197.2,1321.0 1196.7,1324.0 1196.2,1327.0 1195.7,1330.0 1195.2,1333.0 1194.6,1336.0 1194.0,1339.0 1193.4,1342.0 1192.8,1345.0 1192.2,1348.0 1191.5,1351.0 1190.8,1354.0 1190.2,1357.0 1189.5,1360.0 1188.8,1363.0 1188.2,1366.0 1187.4,1369.0 1186.5,1372.0 1185.5,1375.0 1184.6,1378.0 1183.7,1381.0 1182.8,1384.0 1182.0,1387.0 1181.1,1390.0 1179.8,1393.0 1178.4,1396.0 1177.1,1399.0 1175.7,1402.0 1174.5,1405.0 1173.2,1408.0 1172.0,1411.0 1170.8,1414.0" fill="none" stroke="#e2452a" stroke-width="1.4" opacity="0.78"/>
<polyline points="1198.0,1081.0 1200.2,1084.0 1202.4,1087.0 1204.5,1090.0 1206.7,1093.0 1208.9,1096.0 1211.0,1099.0 1213.1,1102.0 1215.0,1105.0 1216.1,1108.0 1217.1,1111.0 1218.1,1114.0 1219.1,1117.0 1220.1,1120.0 1221.0,1123.0 1221.9,1126.0 1222.4,1129.0 1222.7,1132.0 1223.0,1135.0 1223.3,1138.0 1223.5,1141.0 1223.7,1144.0 1223.8,1147.0 1223.9,1150.0 1224.0,1153.0 1224.0,1156.0 1223.9,1159.0 1223.9,1162.0 1223.7,1165.0 1223.6,1168.0 1223.4,1171.0 1223.1,1174.0 1222.9,1177.0 1222.5,1180.0 1222.2,1183.0 1221.7,1186.0 1221.3,1189.0 1220.8,1192.0 1220.2,1195.0 1219.7,1198.0 1219.1,1201.0 1218.5,1204.0 1217.9,1207.0 1217.3,1210.0 1216.7,1213.0 1216.1,1216.0 1215.4,1219.0 1214.8,1222.0 1214.1,1225.0 1213.5,1228.0 1212.9,1231.0 1212.3,1234.0 1211.7,1237.0 1211.1,1240.0 1210.5,1243.0 1209.9,1246.0 1209.4,1249.0 1208.9,1252.0 1208.4,1255.0 1208.0,1258.0 1207.6,1261.0 1207.2,1264.0 1206.8,1267.0 1206.5,1270.0 1206.3,1273.0 1206.0,1276.0 1205.8,1279.0 1205.7,1282.0 1205.6,1285.0 1205.5,1288.0 1205.5,1291.0 1205.5,1294.0 1205.6,1297.0 1205.7,1300.0 1205.8,1303.0 1206.0,1306.0 1206.3,1309.0 1206.5,1312.0 1206.8,1315.0 1207.1,1318.0 1207.4,1321.0 1207.8,1324.0 1208.2,1327.0 1208.6,1330.0 1209.1,1333.0 1209.5,1336.0 1210.0,1339.0 1210.6,1342.0 1211.1,1345.0 1211.6,1348.0 1212.2,1351.0 1212.8,1354.0 1213.4,1357.0 1213.9,1360.0 1214.5,1363.0 1215.1,1366.0 1215.5,1369.0 1215.6,1372.0 1215.7,1375.0 1215.8,1378.0 1215.8,1381.0 1215.9,1384.0 1215.9,1387.0 1215.9,1390.0 1215.1,1393.0 1214.0,1396.0 1212.9,1399.0 1211.7,1402.0 1210.6,1405.0 1209.4,1408.0 1208.1,1411.0 1206.8,1414.0" fill="none" stroke="#e2452a" stroke-width="1.4" opacity="0.78"/>
<polyline points="1198.0,1081.0 1198.9,1084.0 1199.8,1087.0 1200.7,1090.0 1201.7,1093.0 1202.6,1096.0 1203.5,1099.0 1204.5,1102.0 1205.2,1105.0 1205.2,1108.0 1205.3,1111.0 1205.3,1114.0 1205.4,1117.0 1205.5,1120.0 1205.6,1123.0 1205.8,1126.0 1205.7,1129.0 1205.4,1132.0 1205.3,1135.0 1205.1,1138.0 1205.0,1141.0 1204.9,1144.0 1204.9,1147.0 1204.9,1150.0 1205.0,1153.0 1205.1,1156.0 1205.2,1159.0 1205.4,1162.0 1205.7,1165.0 1205.9,1168.0 1206.3,1171.0 1206.6,1174.0 1207.0,1177.0 1207.4,1180.0 1207.8,1183.0 1208.3,1186.0 1208.7,1189.0 1209.2,1192.0 1209.8,1195.0 1210.3,1198.0 1210.9,1201.0 1211.5,1204.0 1212.1,1207.0 1212.7,1210.0 1213.3,1213.0 1213.9,1216.0 1214.6,1219.0 1215.2,1222.0 1215.9,1225.0 1216.5,1228.0 1217.1,1231.0 1217.7,1234.0 1218.3,1237.0 1218.9,1240.0 1219.5,1243.0 1220.1,1246.0 1220.6,1249.0 1221.1,1252.0 1221.6,1255.0 1222.0,1258.0 1222.4,1261.0 1222.8,1264.0 1223.2,1267.0 1223.5,1270.0 1223.7,1273.0 1224.0,1276.0 1224.2,1279.0 1224.3,1282.0 1224.4,1285.0 1224.5,1288.0 1224.5,1291.0 1224.5,1294.0 1224.4,1297.0 1224.3,1300.0 1224.2,1303.0 1224.0,1306.0 1223.7,1309.0 1223.5,1312.0 1223.1,1315.0 1222.7,1318.0 1222.3,1321.0 1221.8,1324.0 1221.3,1327.0 1220.8,1330.0 1220.2,1333.0 1219.6,1336.0 1219.0,1339.0 1218.4,1342.0 1217.8,1345.0 1217.1,1348.0 1216.4,1351.0 1215.7,1354.0 1215.1,1357.0 1214.4,1360.0 1213.7,1363.0 1213.0,1366.0 1212.1,1369.0 1211.0,1372.0 1209.8,1375.0 1208.7,1378.0 1207.6,1381.0 1206.5,1384.0 1205.4,1387.0 1204.4,1390.0 1202.6,1393.0 1200.5,1396.0 1198.6,1399.0 1196.6,1402.0 1194.7,1405.0 1192.8,1408.0 1191.0,1411.0 1189.2,1414.0" fill="none" stroke="#e2452a" stroke-width="1.4" opacity="0.78"/>
</g>
<rect x="676.4" y="1081.6" width="781.3" height="333" fill="none" stroke="#767676" stroke-width="2"/>
<circle cx="831.0" cy="1153.0" r="10.4" fill="url(#go)"/>
<circle cx="863.0" cy="1192.0" r="10.4" fill="url(#go)"/>
<circle cx="831.0" cy="1234.0" r="10.4" fill="url(#go)"/>
<circle cx="868.0" cy="1269.0" r="10.4" fill="url(#go)"/>
<circle cx="857.5" cy="1314.0" r="10.4" fill="url(#go)"/>
<circle cx="831.0" cy="1355.0" r="10.4" fill="url(#go)"/>
<circle cx="975.0" cy="1122.0" r="15.5" fill="url(#go)"/>
<circle cx="1019.0" cy="1174.0" r="15.5" fill="url(#go)"/>
<circle cx="975.0" cy="1231.0" r="15.5" fill="url(#go)"/>
<circle cx="1026.0" cy="1276.0" r="15.5" fill="url(#go)"/>
<circle cx="1013.0" cy="1337.0" r="15.5" fill="url(#go)"/>
<circle cx="976.0" cy="1391.0" r="15.5" fill="url(#go)"/>
<circle cx="1142.6" cy="1119.0" r="18.4" fill="url(#gb)"/>
<circle cx="1129.0" cy="1175.0" r="18.4" fill="url(#gb)"/>
<circle cx="1179.0" cy="1222.0" r="18.4" fill="url(#gb)"/>
<circle cx="1158.0" cy="1284.0" r="18.4" fill="url(#gb)"/>
<circle cx="1135.0" cy="1375.0" r="18.4" fill="url(#gb)"/>
<circle cx="1281.6" cy="1120.0" r="16.0" fill="url(#go)"/>
<circle cx="1315.0" cy="1130.0" r="11.0" fill="url(#go)"/>
<circle cx="1298.0" cy="1169.0" r="16.0" fill="url(#go)"/>
<circle cx="1336.0" cy="1190.0" r="11.0" fill="url(#go)"/>
<circle cx="1297.0" cy="1207.0" r="16.0" fill="url(#go)"/>
<circle cx="1368.0" cy="1211.0" r="11.0" fill="url(#go)"/>
<circle cx="1352.0" cy="1246.0" r="11.0" fill="url(#go)"/>
<circle cx="1320.0" cy="1274.0" r="16.0" fill="url(#go)"/>
<circle cx="1285.0" cy="1302.0" r="11.0" fill="url(#go)"/>
<circle cx="1362.0" cy="1308.0" r="11.0" fill="url(#go)"/>
<circle cx="1320.0" cy="1336.0" r="16.0" fill="url(#go)"/>
<circle cx="1283.5" cy="1388.0" r="16.0" fill="url(#go)"/>
<circle cx="1365.6" cy="1109.0" r="18.4" fill="url(#gb)"/>
<circle cx="1411.0" cy="1224.5" r="18.4" fill="url(#gb)"/>
<circle cx="1282.0" cy="1258.0" r="18.4" fill="url(#gb)"/>
<circle cx="1381.0" cy="1275.0" r="18.4" fill="url(#gb)"/>
<circle cx="1358.0" cy="1366.0" r="18.4" fill="url(#gb)"/>
<text x="703" y="1261" font-family="Liberation Sans" font-size="22" fill="#3b5867" textLength="80" lengthAdjust="spacingAndGlyphs">fresh air</text>
<text x="1376" y="1258" font-family="Liberation Sans" font-size="22" fill="#50555a" textLength="79" lengthAdjust="spacingAndGlyphs">Dirty air</text></svg>
</body></html>
